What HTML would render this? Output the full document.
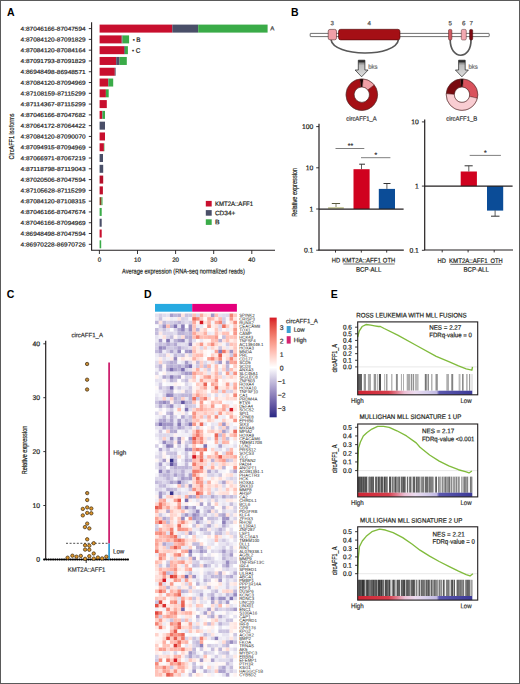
<!DOCTYPE html>
<html><head><meta charset="utf-8"><style>
html,body{margin:0;padding:0;background:#fff;}
#fig{position:relative;width:520px;height:684px;overflow:hidden;background:#fff;}
#fig svg{position:absolute;left:0;top:0;}
#brd{position:absolute;left:0;top:0;width:518px;height:682px;border:1px solid #5a5a5a;pointer-events:none;}
text{font-family:"Liberation Sans", sans-serif;}
</style></head><body><div id="fig">
<svg width="520" height="684" viewBox="0 0 520 684" font-family='"Liberation Sans", sans-serif'>
<text x="7.00" y="16.03" font-size="10.5" text-anchor="start" fill="#000" font-weight="bold" >A</text>
<text x="291.00" y="16.03" font-size="10.5" text-anchor="start" fill="#000" font-weight="bold" >B</text>
<text x="6.80" y="297.93" font-size="10.5" text-anchor="start" fill="#000" font-weight="bold" >C</text>
<text x="144.00" y="297.73" font-size="10.5" text-anchor="start" fill="#000" font-weight="bold" >D</text>
<text x="330.80" y="297.73" font-size="10.5" text-anchor="start" fill="#000" font-weight="bold" >E</text>
<text transform="translate(85.60,30.76) rotate(0.04)" x="0" y="0" font-size="5.8" text-anchor="end" fill="#1e1e1e" stroke="#1e1e1e" stroke-width="0.2" textLength="65.00" lengthAdjust="spacingAndGlyphs" >4:87046166-87047594</text>
<line x1="88.80" y1="28.60" x2="91.60" y2="28.60" stroke="#231f20" stroke-width="0.9" />
<rect x="99.60" y="24.60" width="72.70" height="8.00" fill="#c80f2e" />
<rect x="172.30" y="24.60" width="25.90" height="8.00" fill="#4a4f68" />
<rect x="198.20" y="24.60" width="69.40" height="8.00" fill="#3aab48" />
<text transform="translate(85.60,41.54) rotate(0.04)" x="0" y="0" font-size="5.8" text-anchor="end" fill="#1e1e1e" stroke="#1e1e1e" stroke-width="0.2" textLength="65.00" lengthAdjust="spacingAndGlyphs" >4:87084120-87091829</text>
<line x1="88.80" y1="39.39" x2="91.60" y2="39.39" stroke="#231f20" stroke-width="0.9" />
<rect x="99.60" y="35.39" width="22.10" height="8.00" fill="#c80f2e" />
<rect x="121.70" y="35.39" width="0.80" height="8.00" fill="#4a4f68" />
<rect x="122.50" y="35.39" width="6.60" height="8.00" fill="#3aab48" />
<text transform="translate(85.60,52.33) rotate(0.04)" x="0" y="0" font-size="5.8" text-anchor="end" fill="#1e1e1e" stroke="#1e1e1e" stroke-width="0.2" textLength="65.00" lengthAdjust="spacingAndGlyphs" >4:87084120-87084164</text>
<line x1="88.80" y1="50.17" x2="91.60" y2="50.17" stroke="#231f20" stroke-width="0.9" />
<rect x="99.60" y="46.17" width="24.60" height="8.00" fill="#c80f2e" />
<rect x="124.20" y="46.17" width="0.80" height="8.00" fill="#4a4f68" />
<rect x="125.00" y="46.17" width="2.90" height="8.00" fill="#3aab48" />
<text transform="translate(85.60,63.11) rotate(0.04)" x="0" y="0" font-size="5.8" text-anchor="end" fill="#1e1e1e" stroke="#1e1e1e" stroke-width="0.2" textLength="65.00" lengthAdjust="spacingAndGlyphs" >4:87091793-87091829</text>
<line x1="88.80" y1="60.96" x2="91.60" y2="60.96" stroke="#231f20" stroke-width="0.9" />
<rect x="99.60" y="56.96" width="16.60" height="8.00" fill="#c80f2e" />
<rect x="116.20" y="56.96" width="3.40" height="8.00" fill="#4a4f68" />
<rect x="119.60" y="56.96" width="7.20" height="8.00" fill="#3aab48" />
<text transform="translate(85.60,73.90) rotate(0.04)" x="0" y="0" font-size="5.8" text-anchor="end" fill="#1e1e1e" stroke="#1e1e1e" stroke-width="0.2" textLength="65.00" lengthAdjust="spacingAndGlyphs" >4:86948498-86948571</text>
<line x1="88.80" y1="71.74" x2="91.60" y2="71.74" stroke="#231f20" stroke-width="0.9" />
<rect x="99.60" y="67.74" width="15.20" height="8.00" fill="#c80f2e" />
<rect x="114.80" y="67.74" width="0.80" height="8.00" fill="#4a4f68" />
<text transform="translate(85.60,84.68) rotate(0.04)" x="0" y="0" font-size="5.8" text-anchor="end" fill="#1e1e1e" stroke="#1e1e1e" stroke-width="0.2" textLength="65.00" lengthAdjust="spacingAndGlyphs" >4:87084120-87094969</text>
<line x1="88.80" y1="82.53" x2="91.60" y2="82.53" stroke="#231f20" stroke-width="0.9" />
<rect x="99.60" y="78.53" width="8.40" height="8.00" fill="#c80f2e" />
<rect x="108.00" y="78.53" width="0.60" height="8.00" fill="#4a4f68" />
<rect x="108.60" y="78.53" width="4.60" height="8.00" fill="#3aab48" />
<text transform="translate(85.60,95.47) rotate(0.04)" x="0" y="0" font-size="5.8" text-anchor="end" fill="#1e1e1e" stroke="#1e1e1e" stroke-width="0.2" textLength="65.00" lengthAdjust="spacingAndGlyphs" >4:87108159-87115299</text>
<line x1="88.80" y1="93.31" x2="91.60" y2="93.31" stroke="#231f20" stroke-width="0.9" />
<rect x="99.60" y="89.31" width="6.30" height="8.00" fill="#c80f2e" />
<rect x="105.90" y="89.31" width="2.80" height="8.00" fill="#3aab48" />
<text transform="translate(85.60,106.25) rotate(0.04)" x="0" y="0" font-size="5.8" text-anchor="end" fill="#1e1e1e" stroke="#1e1e1e" stroke-width="0.2" textLength="65.00" lengthAdjust="spacingAndGlyphs" >4:87114367-87115299</text>
<line x1="88.80" y1="104.09" x2="91.60" y2="104.09" stroke="#231f20" stroke-width="0.9" />
<rect x="99.60" y="100.09" width="7.20" height="8.00" fill="#c80f2e" />
<text transform="translate(85.60,117.04) rotate(0.04)" x="0" y="0" font-size="5.8" text-anchor="end" fill="#1e1e1e" stroke="#1e1e1e" stroke-width="0.2" textLength="65.00" lengthAdjust="spacingAndGlyphs" >4:87046166-87047682</text>
<line x1="88.80" y1="114.88" x2="91.60" y2="114.88" stroke="#231f20" stroke-width="0.9" />
<rect x="99.60" y="110.88" width="2.50" height="8.00" fill="#c80f2e" />
<rect x="102.10" y="110.88" width="0.50" height="8.00" fill="#4a4f68" />
<rect x="102.60" y="110.88" width="2.40" height="8.00" fill="#3aab48" />
<text transform="translate(85.60,127.82) rotate(0.04)" x="0" y="0" font-size="5.8" text-anchor="end" fill="#1e1e1e" stroke="#1e1e1e" stroke-width="0.2" textLength="65.00" lengthAdjust="spacingAndGlyphs" >4:87064172-87064422</text>
<line x1="88.80" y1="125.66" x2="91.60" y2="125.66" stroke="#231f20" stroke-width="0.9" />
<rect x="99.60" y="121.66" width="5.40" height="8.00" fill="#4a4f68" />
<text transform="translate(85.60,138.61) rotate(0.04)" x="0" y="0" font-size="5.8" text-anchor="end" fill="#1e1e1e" stroke="#1e1e1e" stroke-width="0.2" textLength="65.00" lengthAdjust="spacingAndGlyphs" >4:87084120-87090070</text>
<line x1="88.80" y1="136.45" x2="91.60" y2="136.45" stroke="#231f20" stroke-width="0.9" />
<rect x="99.60" y="132.45" width="5.40" height="8.00" fill="#c80f2e" />
<text transform="translate(85.60,149.39) rotate(0.04)" x="0" y="0" font-size="5.8" text-anchor="end" fill="#1e1e1e" stroke="#1e1e1e" stroke-width="0.2" textLength="65.00" lengthAdjust="spacingAndGlyphs" >4:87094915-87094969</text>
<line x1="88.80" y1="147.24" x2="91.60" y2="147.24" stroke="#231f20" stroke-width="0.9" />
<rect x="99.60" y="143.24" width="4.30" height="8.00" fill="#c80f2e" />
<rect x="103.90" y="143.24" width="0.50" height="8.00" fill="#3aab48" />
<text transform="translate(85.60,160.18) rotate(0.04)" x="0" y="0" font-size="5.8" text-anchor="end" fill="#1e1e1e" stroke="#1e1e1e" stroke-width="0.2" textLength="65.00" lengthAdjust="spacingAndGlyphs" >4:87066971-87067219</text>
<line x1="88.80" y1="158.02" x2="91.60" y2="158.02" stroke="#231f20" stroke-width="0.9" />
<rect x="99.60" y="154.02" width="3.40" height="8.00" fill="#4a4f68" />
<text transform="translate(85.60,170.96) rotate(0.04)" x="0" y="0" font-size="5.8" text-anchor="end" fill="#1e1e1e" stroke="#1e1e1e" stroke-width="0.2" textLength="65.00" lengthAdjust="spacingAndGlyphs" >4:87118798-87119043</text>
<line x1="88.80" y1="168.81" x2="91.60" y2="168.81" stroke="#231f20" stroke-width="0.9" />
<rect x="99.60" y="164.81" width="3.60" height="8.00" fill="#4a4f68" />
<text transform="translate(85.60,181.75) rotate(0.04)" x="0" y="0" font-size="5.8" text-anchor="end" fill="#1e1e1e" stroke="#1e1e1e" stroke-width="0.2" textLength="65.00" lengthAdjust="spacingAndGlyphs" >4:87020506-87047594</text>
<line x1="88.80" y1="179.59" x2="91.60" y2="179.59" stroke="#231f20" stroke-width="0.9" />
<rect x="99.60" y="175.59" width="3.60" height="8.00" fill="#b5102a" />
<text transform="translate(85.60,192.53) rotate(0.04)" x="0" y="0" font-size="5.8" text-anchor="end" fill="#1e1e1e" stroke="#1e1e1e" stroke-width="0.2" textLength="65.00" lengthAdjust="spacingAndGlyphs" >4:87105628-87115299</text>
<line x1="88.80" y1="190.38" x2="91.60" y2="190.38" stroke="#231f20" stroke-width="0.9" />
<rect x="99.60" y="186.38" width="3.30" height="8.00" fill="#c0102c" />
<text transform="translate(85.60,203.32) rotate(0.04)" x="0" y="0" font-size="5.8" text-anchor="end" fill="#1e1e1e" stroke="#1e1e1e" stroke-width="0.2" textLength="65.00" lengthAdjust="spacingAndGlyphs" >4:87084120-87108315</text>
<line x1="88.80" y1="201.16" x2="91.60" y2="201.16" stroke="#231f20" stroke-width="0.9" />
<rect x="99.60" y="197.16" width="1.90" height="8.00" fill="#8a3a20" />
<rect x="101.50" y="197.16" width="1.00" height="8.00" fill="#3aab48" />
<text transform="translate(85.60,214.10) rotate(0.04)" x="0" y="0" font-size="5.8" text-anchor="end" fill="#1e1e1e" stroke="#1e1e1e" stroke-width="0.2" textLength="65.00" lengthAdjust="spacingAndGlyphs" >4:87046166-87047674</text>
<line x1="88.80" y1="211.94" x2="91.60" y2="211.94" stroke="#231f20" stroke-width="0.9" />
<rect x="99.60" y="207.94" width="2.10" height="8.00" fill="#3aab48" />
<text transform="translate(85.60,224.89) rotate(0.04)" x="0" y="0" font-size="5.8" text-anchor="end" fill="#1e1e1e" stroke="#1e1e1e" stroke-width="0.2" textLength="65.00" lengthAdjust="spacingAndGlyphs" >4:87046166-87094969</text>
<line x1="88.80" y1="222.73" x2="91.60" y2="222.73" stroke="#231f20" stroke-width="0.9" />
<rect x="99.60" y="218.73" width="2.10" height="8.00" fill="#4a4f68" />
<text transform="translate(85.60,235.67) rotate(0.04)" x="0" y="0" font-size="5.8" text-anchor="end" fill="#1e1e1e" stroke="#1e1e1e" stroke-width="0.2" textLength="65.00" lengthAdjust="spacingAndGlyphs" >4:86948498-87047594</text>
<line x1="88.80" y1="233.51" x2="91.60" y2="233.51" stroke="#231f20" stroke-width="0.9" />
<rect x="99.60" y="229.51" width="2.10" height="8.00" fill="#c80f2e" />
<text transform="translate(85.60,246.46) rotate(0.04)" x="0" y="0" font-size="5.8" text-anchor="end" fill="#1e1e1e" stroke="#1e1e1e" stroke-width="0.2" textLength="65.00" lengthAdjust="spacingAndGlyphs" >4:86970228-86970726</text>
<line x1="88.80" y1="244.30" x2="91.60" y2="244.30" stroke="#231f20" stroke-width="0.9" />
<rect x="99.60" y="240.30" width="1.60" height="8.00" fill="#3aab48" />
<text transform="translate(270.30,30.60) rotate(0.04)" x="0" y="0" font-size="6.2" text-anchor="start" fill="#333" stroke="#333" stroke-width="0.2" >A</text>
<text transform="translate(132.80,41.76) rotate(0.04)" x="0" y="0" font-size="5.8" text-anchor="start" fill="#222" stroke="#222" stroke-width="0.2" >•</text>
<text transform="translate(136.30,42.07) rotate(0.04)" x="0" y="0" font-size="6.4" text-anchor="start" fill="#231f20" stroke="#231f20" stroke-width="0.2" >B</text>
<text transform="translate(132.00,52.56) rotate(0.04)" x="0" y="0" font-size="5.8" text-anchor="start" fill="#222" stroke="#222" stroke-width="0.2" >•</text>
<text transform="translate(135.80,52.87) rotate(0.04)" x="0" y="0" font-size="6.4" text-anchor="start" fill="#231f20" stroke="#231f20" stroke-width="0.2" >C</text>
<line x1="91.60" y1="22.30" x2="91.60" y2="250.20" stroke="#231f20" stroke-width="1.1" />
<line x1="91.10" y1="250.20" x2="275.00" y2="250.20" stroke="#231f20" stroke-width="1.1" />
<line x1="99.40" y1="250.20" x2="99.40" y2="254.00" stroke="#231f20" stroke-width="0.9" />
<text transform="translate(99.40,261.80) rotate(0.04)" x="0" y="0" font-size="6.2" text-anchor="middle" fill="#231f20" stroke="#231f20" stroke-width="0.2" >0</text>
<line x1="137.50" y1="250.20" x2="137.50" y2="254.00" stroke="#231f20" stroke-width="0.9" />
<text transform="translate(137.50,261.80) rotate(0.04)" x="0" y="0" font-size="6.2" text-anchor="middle" fill="#231f20" stroke="#231f20" stroke-width="0.2" >10</text>
<line x1="175.60" y1="250.20" x2="175.60" y2="254.00" stroke="#231f20" stroke-width="0.9" />
<text transform="translate(175.60,261.80) rotate(0.04)" x="0" y="0" font-size="6.2" text-anchor="middle" fill="#231f20" stroke="#231f20" stroke-width="0.2" >20</text>
<line x1="213.70" y1="250.20" x2="213.70" y2="254.00" stroke="#231f20" stroke-width="0.9" />
<text transform="translate(213.70,261.80) rotate(0.04)" x="0" y="0" font-size="6.2" text-anchor="middle" fill="#231f20" stroke="#231f20" stroke-width="0.2" >30</text>
<line x1="251.80" y1="250.20" x2="251.80" y2="254.00" stroke="#231f20" stroke-width="0.9" />
<text transform="translate(251.80,261.80) rotate(0.04)" x="0" y="0" font-size="6.2" text-anchor="middle" fill="#231f20" stroke="#231f20" stroke-width="0.2" >40</text>
<text transform="translate(183.40,273.45) rotate(0.04)" x="0" y="0" font-size="6.9" text-anchor="middle" fill="#231f20" stroke="#231f20" stroke-width="0.2" textLength="122.80" lengthAdjust="spacingAndGlyphs" >Average expression (RNA-seq normalized reads)</text>
<text transform="translate(10.90,136.40) rotate(-90)" x="0" y="2.63" font-size="7.4" text-anchor="middle" fill="#231f20" stroke="#231f20" stroke-width="0.2" textLength="46.00" lengthAdjust="spacingAndGlyphs" >CircAFF1 isoforms</text>
<rect x="205.80" y="200.90" width="5.90" height="5.60" fill="#c80f2e" />
<text transform="translate(214.90,205.97) rotate(0.04)" x="0" y="0" font-size="6.4" text-anchor="start" fill="#231f20" stroke="#231f20" stroke-width="0.2" textLength="38.20" lengthAdjust="spacingAndGlyphs" >KMT2A::AFF1</text>
<rect x="205.80" y="210.10" width="5.90" height="5.60" fill="#4a4f68" />
<text transform="translate(214.90,215.17) rotate(0.04)" x="0" y="0" font-size="6.4" text-anchor="start" fill="#231f20" stroke="#231f20" stroke-width="0.2" textLength="20.40" lengthAdjust="spacingAndGlyphs" >CD34+</text>
<rect x="205.80" y="219.30" width="5.90" height="5.60" fill="#3aab48" />
<text transform="translate(214.90,224.37) rotate(0.04)" x="0" y="0" font-size="6.4" text-anchor="start" fill="#231f20" stroke="#231f20" stroke-width="0.2" textLength="4.60" lengthAdjust="spacingAndGlyphs" >B</text>
<rect x="310.20" y="33.40" width="179.00" height="3.20" rx="0.5" ry="0.5" fill="#ffffff" stroke="#333" stroke-width="0.7"/>
<path d="M331,39.5 C333,57 396,58 398.5,39.5" fill="none" stroke="#585858" stroke-width="1.7"/>
<path d="M450.2,39.5 C450,60.5 471.5,60.5 471,39.5" fill="none" stroke="#585858" stroke-width="1.7"/>
<rect x="328.20" y="29.40" width="8.30" height="10.40" rx="1.8" ry="1.8" fill="#f0a0a8" stroke="#5a3030" stroke-width="0.6"/>
<rect x="338.50" y="29.30" width="61.50" height="10.60" rx="2.2" ry="2.2" fill="#a50f15" stroke="#4a0a0a" stroke-width="0.6"/>
<rect x="448.50" y="29.40" width="3.40" height="10.60" rx="1.2" ry="1.2" fill="#cf5a62" stroke="#5a2020" stroke-width="0.5"/>
<rect x="461.30" y="29.40" width="5.00" height="10.60" rx="1.4" ry="1.4" fill="#f2a8b0" stroke="#5a3030" stroke-width="0.5"/>
<rect x="469.60" y="29.40" width="3.10" height="10.60" rx="1.2" ry="1.2" fill="#7e0812" stroke="#3a0a0a" stroke-width="0.5"/>
<text transform="translate(332.30,25.30) rotate(0.04)" x="0" y="0" font-size="6.2" text-anchor="middle" fill="#4a4a4a" stroke="#4a4a4a" stroke-width="0.2" >3</text>
<text transform="translate(369.20,25.30) rotate(0.04)" x="0" y="0" font-size="6.2" text-anchor="middle" fill="#4a4a4a" stroke="#4a4a4a" stroke-width="0.2" >4</text>
<text transform="translate(450.20,25.30) rotate(0.04)" x="0" y="0" font-size="6.2" text-anchor="middle" fill="#4a4a4a" stroke="#4a4a4a" stroke-width="0.2" >5</text>
<text transform="translate(463.70,25.30) rotate(0.04)" x="0" y="0" font-size="6.2" text-anchor="middle" fill="#4a4a4a" stroke="#4a4a4a" stroke-width="0.2" >6</text>
<text transform="translate(471.20,25.30) rotate(0.04)" x="0" y="0" font-size="6.2" text-anchor="middle" fill="#4a4a4a" stroke="#4a4a4a" stroke-width="0.2" >7</text>
<defs><linearGradient id="ag" x1="0" y1="0" x2="0" y2="1">
<stop offset="0" stop-color="#1e1e1e"/><stop offset="0.1" stop-color="#333"/><stop offset="0.17" stop-color="#8c8c8c"/><stop offset="0.32" stop-color="#bebebe"/><stop offset="1" stop-color="#dedede"/></linearGradient>
<linearGradient id="rk1" x1="0" y1="0" x2="1" y2="0">
<stop offset="0" stop-color="#cf2433"/><stop offset="0.27" stop-color="#d63e4c"/><stop offset="0.34" stop-color="#e07a8c"/><stop offset="0.41" stop-color="#ecbfd4"/><stop offset="0.5" stop-color="#ecdcf0"/><stop offset="0.6" stop-color="#d6ceec"/><stop offset="0.69" stop-color="#c0b8e2"/><stop offset="0.71" stop-color="#5c58ae"/><stop offset="1" stop-color="#3c3a98"/></linearGradient>
<linearGradient id="cb" x1="0" y1="0" x2="0" y2="1"><stop offset="0.000" stop-color="#d61824"/><stop offset="0.050" stop-color="#df3e38"/><stop offset="0.100" stop-color="#e7584c"/><stop offset="0.150" stop-color="#ee6f60"/><stop offset="0.200" stop-color="#f48575"/><stop offset="0.250" stop-color="#f99a8b"/><stop offset="0.300" stop-color="#fdaea1"/><stop offset="0.350" stop-color="#ffc2b8"/><stop offset="0.400" stop-color="#ffd7cf"/><stop offset="0.450" stop-color="#ffebe7"/><stop offset="0.500" stop-color="#ffffff"/><stop offset="0.550" stop-color="#eae7f3"/><stop offset="0.600" stop-color="#d6d0e6"/><stop offset="0.650" stop-color="#c1b9da"/><stop offset="0.700" stop-color="#ada2ce"/><stop offset="0.750" stop-color="#998cc1"/><stop offset="0.800" stop-color="#8477b5"/><stop offset="0.850" stop-color="#6f62a9"/><stop offset="0.900" stop-color="#5a4e9c"/><stop offset="0.950" stop-color="#433b90"/><stop offset="1.000" stop-color="#282884"/></linearGradient>
</defs>
<path d="M358.3,60.2 L364.90000000000003,60.2 L364.90000000000003,70 L368.1,70 L361.6,76.8 L355.1,70 L358.3,70 Z" fill="url(#ag)" stroke="#222" stroke-width="0.7" stroke-linejoin="miter"/>
<path d="M458.59999999999997,60.2 L465.2,60.2 L465.2,70 L468.4,70 L461.9,76.8 L455.4,70 L458.59999999999997,70 Z" fill="url(#ag)" stroke="#222" stroke-width="0.7" stroke-linejoin="miter"/>
<text transform="translate(368.20,68.83) rotate(0.04)" x="0" y="0" font-size="6.0" text-anchor="start" fill="#6a6a6a" stroke="#6a6a6a" stroke-width="0.2" >bks</text>
<text transform="translate(468.40,68.83) rotate(0.04)" x="0" y="0" font-size="6.0" text-anchor="start" fill="#6a6a6a" stroke="#6a6a6a" stroke-width="0.2" >bks</text>
<path d="M359.87,79.02 A15.8,15.8 0 0 1 363.18,78.96 L362.47,87.03 A7.7,7.7 0 0 0 360.86,87.06 Z" fill="#1a0505" stroke="#3a1010" stroke-width="0.35"/>
<path d="M363.18,78.96 A15.8,15.8 0 0 1 374.25,84.97 L367.87,89.96 A7.7,7.7 0 0 0 362.47,87.03 Z" fill="#f0a0a6" stroke="#3a1010" stroke-width="0.35"/>
<path d="M374.25,84.97 A15.8,15.8 0 1 1 359.87,79.02 L360.86,87.06 A7.7,7.7 0 1 0 367.87,89.96 Z" fill="#a50f15" stroke="#3a1010" stroke-width="0.35"/>
<circle cx="361.8" cy="94.7" r="15.8" fill="none" stroke="#5a2a2a" stroke-width="0.5"/>
<circle cx="361.8" cy="94.7" r="7.7" fill="none" stroke="#5a2a2a" stroke-width="0.5"/>
<path d="M460.35,78.99 A15.8,15.8 0 0 1 463.38,78.96 L462.67,87.03 A7.7,7.7 0 0 0 461.20,87.04 Z" fill="#1a0505" stroke="#3a1010" stroke-width="0.35"/>
<path d="M463.38,78.96 A15.8,15.8 0 0 1 477.40,98.25 L469.50,96.43 A7.7,7.7 0 0 0 462.67,87.03 Z" fill="#d9525c" stroke="#3a1010" stroke-width="0.35"/>
<path d="M477.40,98.25 A15.8,15.8 0 0 1 446.24,93.60 L454.32,94.16 A7.7,7.7 0 0 0 469.50,96.43 Z" fill="#f9cdd2" stroke="#3a1010" stroke-width="0.35"/>
<path d="M446.24,93.60 A15.8,15.8 0 0 1 460.35,78.99 L461.20,87.04 A7.7,7.7 0 0 0 454.32,94.16 Z" fill="#7a0a10" stroke="#3a1010" stroke-width="0.35"/>
<circle cx="462.0" cy="94.7" r="15.8" fill="none" stroke="#5a2a2a" stroke-width="0.5"/>
<circle cx="462.0" cy="94.7" r="7.7" fill="none" stroke="#5a2a2a" stroke-width="0.5"/>
<text transform="translate(361.50,120.64) rotate(0.04)" x="0" y="0" font-size="6.3" text-anchor="middle" fill="#333" stroke="#333" stroke-width="0.2" textLength="30.50" lengthAdjust="spacingAndGlyphs" >circAFF1_A</text>
<text transform="translate(461.80,120.64) rotate(0.04)" x="0" y="0" font-size="6.3" text-anchor="middle" fill="#333" stroke="#333" stroke-width="0.2" textLength="31.00" lengthAdjust="spacingAndGlyphs" >circAFF1_B</text>
<line x1="319.00" y1="123.80" x2="319.00" y2="250.20" stroke="#231f20" stroke-width="1.2" />
<line x1="316.20" y1="126.60" x2="319.00" y2="126.60" stroke="#231f20" stroke-width="0.9" />
<text transform="translate(313.40,129.01) rotate(0.04)" x="0" y="0" font-size="6.8" text-anchor="end" fill="#231f20" stroke="#231f20" stroke-width="0.2" >100</text>
<line x1="316.20" y1="167.80" x2="319.00" y2="167.80" stroke="#231f20" stroke-width="0.9" />
<text transform="translate(313.40,170.21) rotate(0.04)" x="0" y="0" font-size="6.8" text-anchor="end" fill="#231f20" stroke="#231f20" stroke-width="0.2" >10</text>
<line x1="316.20" y1="209.00" x2="319.00" y2="209.00" stroke="#231f20" stroke-width="0.9" />
<text transform="translate(313.40,211.41) rotate(0.04)" x="0" y="0" font-size="6.8" text-anchor="end" fill="#231f20" stroke="#231f20" stroke-width="0.2" >1</text>
<line x1="316.20" y1="250.20" x2="319.00" y2="250.20" stroke="#231f20" stroke-width="0.9" />
<text transform="translate(313.40,252.61) rotate(0.04)" x="0" y="0" font-size="6.8" text-anchor="end" fill="#231f20" stroke="#231f20" stroke-width="0.2" >0.1</text>
<line x1="318.50" y1="250.20" x2="403.80" y2="250.20" stroke="#231f20" stroke-width="1.2" />
<line x1="335.50" y1="250.20" x2="335.50" y2="252.60" stroke="#231f20" stroke-width="0.9" />
<line x1="361.30" y1="250.20" x2="361.30" y2="252.60" stroke="#231f20" stroke-width="0.9" />
<line x1="386.70" y1="250.20" x2="386.70" y2="252.60" stroke="#231f20" stroke-width="0.9" />
<rect x="328.10" y="207.00" width="15.70" height="2.00" fill="#cfd0a6" />
<line x1="336.00" y1="203.50" x2="336.00" y2="207.00" stroke="#6a6a4a" stroke-width="0.8" />
<line x1="331.80" y1="203.50" x2="340.10" y2="203.50" stroke="#5a5a40" stroke-width="1" />
<rect x="353.50" y="169.20" width="16.10" height="39.80" fill="#d0021f" />
<line x1="361.50" y1="164.20" x2="361.50" y2="169.20" stroke="#333" stroke-width="0.8" />
<line x1="359.20" y1="164.20" x2="365.00" y2="164.20" stroke="#333" stroke-width="1" />
<rect x="378.80" y="188.90" width="16.20" height="20.10" fill="#0b4c97" />
<line x1="386.90" y1="183.50" x2="386.90" y2="188.90" stroke="#333" stroke-width="0.8" />
<line x1="383.50" y1="183.50" x2="390.50" y2="183.50" stroke="#333" stroke-width="1" />
<line x1="319.00" y1="209.10" x2="403.60" y2="209.10" stroke="#231f20" stroke-width="1.1" />
<line x1="335.50" y1="148.50" x2="364.30" y2="148.50" stroke="#707070" stroke-width="0.9" />
<text transform="translate(350.50,148.01) rotate(0.04)" x="0" y="0" font-size="6.8" text-anchor="middle" fill="#333" stroke="#333" stroke-width="0.2" >**</text>
<line x1="361.00" y1="157.70" x2="390.40" y2="157.70" stroke="#707070" stroke-width="0.9" />
<text transform="translate(375.80,157.31) rotate(0.04)" x="0" y="0" font-size="6.8" text-anchor="middle" fill="#333" stroke="#333" stroke-width="0.2" >*</text>
<text transform="translate(294.60,192.30) rotate(-90)" x="0" y="2.52" font-size="7.1" text-anchor="middle" fill="#231f20" stroke="#231f20" stroke-width="0.2" textLength="49.00" lengthAdjust="spacingAndGlyphs" >Relative expression</text>
<text transform="translate(336.00,262.54) rotate(0.04)" x="0" y="0" font-size="6.6" text-anchor="middle" fill="#231f20" stroke="#231f20" stroke-width="0.2" textLength="8.40" lengthAdjust="spacingAndGlyphs" >HD</text>
<text transform="translate(361.60,262.54) rotate(0.04)" x="0" y="0" font-size="6.6" text-anchor="middle" fill="#231f20" stroke="#231f20" stroke-width="0.2" textLength="38.70" lengthAdjust="spacingAndGlyphs" >KMT2A::AFF1</text>
<text transform="translate(389.00,262.54) rotate(0.04)" x="0" y="0" font-size="6.6" text-anchor="middle" fill="#231f20" stroke="#231f20" stroke-width="0.2" textLength="12.30" lengthAdjust="spacingAndGlyphs" >OTH</text>
<line x1="343.40" y1="264.00" x2="394.60" y2="264.00" stroke="#444" stroke-width="0.8" />
<text transform="translate(368.70,271.74) rotate(0.04)" x="0" y="0" font-size="6.6" text-anchor="middle" fill="#231f20" stroke="#231f20" stroke-width="0.2" textLength="25.40" lengthAdjust="spacingAndGlyphs" >BCP-ALL</text>
<line x1="424.70" y1="119.60" x2="424.70" y2="250.00" stroke="#231f20" stroke-width="1.2" />
<line x1="421.90" y1="121.90" x2="424.70" y2="121.90" stroke="#231f20" stroke-width="0.9" />
<text transform="translate(418.90,124.31) rotate(0.04)" x="0" y="0" font-size="6.8" text-anchor="end" fill="#231f20" stroke="#231f20" stroke-width="0.2" >10</text>
<line x1="421.90" y1="186.10" x2="424.70" y2="186.10" stroke="#231f20" stroke-width="0.9" />
<text transform="translate(418.90,188.51) rotate(0.04)" x="0" y="0" font-size="6.8" text-anchor="end" fill="#231f20" stroke="#231f20" stroke-width="0.2" >1</text>
<line x1="421.90" y1="250.30" x2="424.70" y2="250.30" stroke="#231f20" stroke-width="0.9" />
<text transform="translate(418.90,252.71) rotate(0.04)" x="0" y="0" font-size="6.8" text-anchor="end" fill="#231f20" stroke="#231f20" stroke-width="0.2" >0.1</text>
<line x1="424.20" y1="250.00" x2="513.00" y2="250.00" stroke="#231f20" stroke-width="1.2" />
<line x1="442.20" y1="250.00" x2="442.20" y2="252.40" stroke="#231f20" stroke-width="0.9" />
<line x1="468.10" y1="250.00" x2="468.10" y2="252.40" stroke="#231f20" stroke-width="0.9" />
<line x1="494.20" y1="250.00" x2="494.20" y2="252.40" stroke="#231f20" stroke-width="0.9" />
<rect x="460.70" y="171.50" width="16.20" height="14.60" fill="#d0021f" />
<line x1="468.80" y1="165.80" x2="468.80" y2="171.50" stroke="#333" stroke-width="0.8" />
<line x1="464.60" y1="165.80" x2="472.70" y2="165.80" stroke="#333" stroke-width="1" />
<rect x="487.00" y="186.10" width="16.20" height="24.50" fill="#0b4c97" />
<line x1="495.10" y1="210.30" x2="495.10" y2="216.20" stroke="#333" stroke-width="0.8" />
<line x1="491.00" y1="216.20" x2="499.50" y2="216.20" stroke="#333" stroke-width="1" />
<line x1="424.70" y1="186.10" x2="512.60" y2="186.10" stroke="#231f20" stroke-width="1.1" />
<line x1="469.70" y1="155.40" x2="500.90" y2="155.40" stroke="#707070" stroke-width="0.9" />
<text transform="translate(485.40,155.01) rotate(0.04)" x="0" y="0" font-size="6.8" text-anchor="middle" fill="#333" stroke="#333" stroke-width="0.2" >*</text>
<text transform="translate(441.80,262.94) rotate(0.04)" x="0" y="0" font-size="6.6" text-anchor="middle" fill="#231f20" stroke="#231f20" stroke-width="0.2" textLength="8.40" lengthAdjust="spacingAndGlyphs" >HD</text>
<text transform="translate(468.30,262.94) rotate(0.04)" x="0" y="0" font-size="6.6" text-anchor="middle" fill="#231f20" stroke="#231f20" stroke-width="0.2" textLength="38.50" lengthAdjust="spacingAndGlyphs" >KMT2A::AFF1</text>
<text transform="translate(496.60,262.94) rotate(0.04)" x="0" y="0" font-size="6.6" text-anchor="middle" fill="#231f20" stroke="#231f20" stroke-width="0.2" textLength="12.20" lengthAdjust="spacingAndGlyphs" >OTH</text>
<line x1="450.30" y1="264.30" x2="501.50" y2="264.30" stroke="#444" stroke-width="0.8" />
<text transform="translate(476.20,271.84) rotate(0.04)" x="0" y="0" font-size="6.6" text-anchor="middle" fill="#231f20" stroke="#231f20" stroke-width="0.2" textLength="25.40" lengthAdjust="spacingAndGlyphs" >BCP-ALL</text>
<line x1="45.70" y1="340.80" x2="45.70" y2="559.40" stroke="#231f20" stroke-width="1.2" />
<line x1="43.30" y1="559.40" x2="45.70" y2="559.40" stroke="#231f20" stroke-width="0.9" />
<text transform="translate(40.00,561.81) rotate(0.04)" x="0" y="0" font-size="6.8" text-anchor="end" fill="#231f20" stroke="#231f20" stroke-width="0.2" >0</text>
<line x1="43.30" y1="505.50" x2="45.70" y2="505.50" stroke="#231f20" stroke-width="0.9" />
<text transform="translate(40.00,507.91) rotate(0.04)" x="0" y="0" font-size="6.8" text-anchor="end" fill="#231f20" stroke="#231f20" stroke-width="0.2" >10</text>
<line x1="43.30" y1="451.60" x2="45.70" y2="451.60" stroke="#231f20" stroke-width="0.9" />
<text transform="translate(40.00,454.01) rotate(0.04)" x="0" y="0" font-size="6.8" text-anchor="end" fill="#231f20" stroke="#231f20" stroke-width="0.2" >20</text>
<line x1="43.30" y1="397.70" x2="45.70" y2="397.70" stroke="#231f20" stroke-width="0.9" />
<text transform="translate(40.00,400.11) rotate(0.04)" x="0" y="0" font-size="6.8" text-anchor="end" fill="#231f20" stroke="#231f20" stroke-width="0.2" >30</text>
<line x1="43.30" y1="343.80" x2="45.70" y2="343.80" stroke="#231f20" stroke-width="0.9" />
<text transform="translate(40.00,346.21) rotate(0.04)" x="0" y="0" font-size="6.8" text-anchor="end" fill="#231f20" stroke="#231f20" stroke-width="0.2" >40</text>
<text transform="translate(87.20,337.34) rotate(0.04)" x="0" y="0" font-size="6.3" text-anchor="middle" fill="#333" stroke="#333" stroke-width="0.2" textLength="31.50" lengthAdjust="spacingAndGlyphs" >circAFF1_A</text>
<text transform="translate(24.50,450.00) rotate(-90)" x="0" y="2.52" font-size="7.1" text-anchor="middle" fill="#231f20" stroke="#231f20" stroke-width="0.2" textLength="48.70" lengthAdjust="spacingAndGlyphs" >Relative expression</text>
<line x1="43.50" y1="559.50" x2="128.80" y2="559.50" stroke="#231f20" stroke-width="1.2" />
<line x1="43.50" y1="559.60" x2="128.80" y2="559.60" stroke="#000" stroke-width="2.0" stroke-dasharray="1.6,0.6"/>
<line x1="86.20" y1="559.40" x2="86.20" y2="563.00" stroke="#231f20" stroke-width="0.9" />
<text transform="translate(86.60,571.84) rotate(0.04)" x="0" y="0" font-size="6.3" text-anchor="middle" fill="#333" stroke="#333" stroke-width="0.2" textLength="37.50" lengthAdjust="spacingAndGlyphs" >KMT2A::AFF1</text>
<line x1="66.00" y1="543.30" x2="108.50" y2="543.30" stroke="#222" stroke-width="0.8" stroke-dasharray="2,1.6"/>
<line x1="109.10" y1="362.50" x2="109.10" y2="543.50" stroke="#c8085f" stroke-width="1.6" />
<line x1="109.10" y1="543.50" x2="109.10" y2="559.40" stroke="#1f94d4" stroke-width="1.6" />
<text transform="translate(113.20,454.84) rotate(0.04)" x="0" y="0" font-size="6.3" text-anchor="start" fill="#333" stroke="#333" stroke-width="0.2" textLength="13.00" lengthAdjust="spacingAndGlyphs" >High</text>
<text transform="translate(113.00,553.54) rotate(0.04)" x="0" y="0" font-size="6.3" text-anchor="start" fill="#333" stroke="#333" stroke-width="0.2" textLength="11.20" lengthAdjust="spacingAndGlyphs" >Low</text>
<circle cx="87.1" cy="364" r="1.7" fill="#c98c34" stroke="#43321a" stroke-width="0.75"/>
<circle cx="87.1" cy="379.7" r="1.7" fill="#c98c34" stroke="#43321a" stroke-width="0.75"/>
<circle cx="87.1" cy="389.5" r="1.7" fill="#c98c34" stroke="#43321a" stroke-width="0.75"/>
<circle cx="87.2" cy="493.1" r="1.7" fill="#c98c34" stroke="#43321a" stroke-width="0.75"/>
<circle cx="87.2" cy="500" r="1.7" fill="#de962a" stroke="#43321a" stroke-width="0.75"/>
<circle cx="82.8" cy="508.9" r="1.7" fill="#de962a" stroke="#43321a" stroke-width="0.75"/>
<circle cx="87.2" cy="507.4" r="1.7" fill="#de962a" stroke="#43321a" stroke-width="0.75"/>
<circle cx="91.3" cy="508.5" r="1.7" fill="#de962a" stroke="#43321a" stroke-width="0.75"/>
<circle cx="82.8" cy="515.4" r="1.7" fill="#de962a" stroke="#43321a" stroke-width="0.75"/>
<circle cx="87.2" cy="512.9" r="1.7" fill="#de962a" stroke="#43321a" stroke-width="0.75"/>
<circle cx="91.3" cy="513.3" r="1.7" fill="#de962a" stroke="#43321a" stroke-width="0.75"/>
<circle cx="87.2" cy="523.6" r="1.7" fill="#de962a" stroke="#43321a" stroke-width="0.75"/>
<circle cx="84.9" cy="527.1" r="1.7" fill="#de962a" stroke="#43321a" stroke-width="0.75"/>
<circle cx="89.3" cy="528.4" r="1.7" fill="#de962a" stroke="#43321a" stroke-width="0.75"/>
<circle cx="87.2" cy="539.3" r="1.7" fill="#de962a" stroke="#43321a" stroke-width="0.75"/>
<circle cx="85.1" cy="545.3" r="1.7" fill="#de962a" stroke="#43321a" stroke-width="0.75"/>
<circle cx="89.3" cy="545.7" r="1.7" fill="#de962a" stroke="#43321a" stroke-width="0.75"/>
<circle cx="93.7" cy="543.2" r="1.7" fill="#de962a" stroke="#43321a" stroke-width="0.75"/>
<circle cx="85.1" cy="549.6" r="1.7" fill="#de962a" stroke="#43321a" stroke-width="0.75"/>
<circle cx="89.3" cy="549.8" r="1.7" fill="#de962a" stroke="#43321a" stroke-width="0.75"/>
<circle cx="93.7" cy="553.5" r="1.7" fill="#de962a" stroke="#43321a" stroke-width="0.75"/>
<circle cx="67.6" cy="557.7" r="1.7" fill="#de962a" stroke="#43321a" stroke-width="0.75"/>
<circle cx="72.4" cy="555.7" r="1.7" fill="#de962a" stroke="#43321a" stroke-width="0.75"/>
<circle cx="76.5" cy="556.7" r="1.7" fill="#de962a" stroke="#43321a" stroke-width="0.75"/>
<circle cx="80.8" cy="555.9" r="1.7" fill="#de962a" stroke="#43321a" stroke-width="0.75"/>
<circle cx="85.1" cy="558.8" r="1.7" fill="#de962a" stroke="#43321a" stroke-width="0.75"/>
<circle cx="89.3" cy="556.2" r="1.7" fill="#de962a" stroke="#43321a" stroke-width="0.75"/>
<circle cx="93.7" cy="558.6" r="1.7" fill="#de962a" stroke="#43321a" stroke-width="0.75"/>
<circle cx="97.9" cy="557.5" r="1.7" fill="#de962a" stroke="#43321a" stroke-width="0.75"/>
<circle cx="102.1" cy="558.4" r="1.7" fill="#de962a" stroke="#43321a" stroke-width="0.75"/>
<circle cx="106.3" cy="556.7" r="1.7" fill="#de962a" stroke="#43321a" stroke-width="0.75"/>
<rect x="155.00" y="303.90" width="37.20" height="7.80" fill="#27aae1" />
<rect x="192.20" y="303.90" width="44.70" height="7.80" fill="#e4007c" />
<rect x="155.00" y="313.50" width="3.78" height="3.68" fill="#e4e0ef" />
<rect x="158.73" y="313.50" width="3.78" height="3.68" fill="#d4cee5" />
<rect x="162.45" y="313.50" width="3.78" height="3.68" fill="#e0dbec" />
<rect x="166.18" y="313.50" width="3.78" height="3.68" fill="#e6e2f0" />
<rect x="169.91" y="313.50" width="3.78" height="3.68" fill="#a89dcb" />
<rect x="173.64" y="313.50" width="3.78" height="3.68" fill="#beb5d8" />
<rect x="177.36" y="313.50" width="3.78" height="3.68" fill="#b5abd2" />
<rect x="181.09" y="313.50" width="3.78" height="3.68" fill="#ffe5e0" />
<rect x="184.82" y="313.50" width="3.78" height="3.68" fill="#c9c2df" />
<rect x="188.55" y="313.50" width="3.78" height="3.68" fill="#cec7e2" />
<rect x="192.27" y="313.50" width="3.78" height="3.68" fill="#ffbeb3" />
<rect x="196.00" y="313.50" width="3.78" height="3.68" fill="#dad4e9" />
<rect x="199.73" y="313.50" width="3.78" height="3.68" fill="#fcac9f" />
<rect x="203.45" y="313.50" width="3.78" height="3.68" fill="#ffded8" />
<rect x="207.18" y="313.50" width="3.78" height="3.68" fill="#ffe6e1" />
<rect x="210.91" y="313.50" width="3.78" height="3.68" fill="#a398c8" />
<rect x="214.64" y="313.50" width="3.78" height="3.68" fill="#ffbfb5" />
<rect x="218.36" y="313.50" width="3.78" height="3.68" fill="#e6e2f0" />
<rect x="222.09" y="313.50" width="3.78" height="3.68" fill="#e0dbec" />
<rect x="225.82" y="313.50" width="3.78" height="3.68" fill="#ddd8eb" />
<rect x="229.55" y="313.50" width="3.78" height="3.68" fill="#f48475" />
<rect x="233.27" y="313.50" width="3.78" height="3.68" fill="#ffc7bd" />
<rect x="155.00" y="317.13" width="3.78" height="3.68" fill="#edeaf4" />
<rect x="158.73" y="317.13" width="3.78" height="3.68" fill="#c9c1de" />
<rect x="162.45" y="317.13" width="3.78" height="3.68" fill="#f5f3f9" />
<rect x="166.18" y="317.13" width="3.78" height="3.68" fill="#fff2f0" />
<rect x="169.91" y="317.13" width="3.78" height="3.68" fill="#eeecf5" />
<rect x="173.64" y="317.13" width="3.78" height="3.68" fill="#f3f1f8" />
<rect x="177.36" y="317.13" width="3.78" height="3.68" fill="#ffe4df" />
<rect x="181.09" y="317.13" width="3.78" height="3.68" fill="#d6d0e6" />
<rect x="184.82" y="317.13" width="3.78" height="3.68" fill="#dcd7ea" />
<rect x="188.55" y="317.13" width="3.78" height="3.68" fill="#f5f3f9" />
<rect x="192.27" y="317.13" width="3.78" height="3.68" fill="#ed6e5f" />
<rect x="196.00" y="317.13" width="3.78" height="3.68" fill="#f68d7e" />
<rect x="199.73" y="317.13" width="3.78" height="3.68" fill="#ffcdc4" />
<rect x="203.45" y="317.13" width="3.78" height="3.68" fill="#fffbfa" />
<rect x="207.18" y="317.13" width="3.78" height="3.68" fill="#fcaca0" />
<rect x="210.91" y="317.13" width="3.78" height="3.68" fill="#ffbfb4" />
<rect x="214.64" y="317.13" width="3.78" height="3.68" fill="#ffede9" />
<rect x="218.36" y="317.13" width="3.78" height="3.68" fill="#ffbbb0" />
<rect x="222.09" y="317.13" width="3.78" height="3.68" fill="#d2cce4" />
<rect x="225.82" y="317.13" width="3.78" height="3.68" fill="#f6f5fa" />
<rect x="229.55" y="317.13" width="3.78" height="3.68" fill="#f9998a" />
<rect x="233.27" y="317.13" width="3.78" height="3.68" fill="#ffe8e4" />
<rect x="155.00" y="320.76" width="3.78" height="3.68" fill="#beb5d8" />
<rect x="158.73" y="320.76" width="3.78" height="3.68" fill="#ffe5e0" />
<rect x="162.45" y="320.76" width="3.78" height="3.68" fill="#c4bcdb" />
<rect x="166.18" y="320.76" width="3.78" height="3.68" fill="#d9d3e8" />
<rect x="169.91" y="320.76" width="3.78" height="3.68" fill="#d2cce4" />
<rect x="173.64" y="320.76" width="3.78" height="3.68" fill="#ccc5e0" />
<rect x="177.36" y="320.76" width="3.78" height="3.68" fill="#beb5d8" />
<rect x="181.09" y="320.76" width="3.78" height="3.68" fill="#d5cee5" />
<rect x="184.82" y="320.76" width="3.78" height="3.68" fill="#e2dded" />
<rect x="188.55" y="320.76" width="3.78" height="3.68" fill="#d3cce4" />
<rect x="192.27" y="320.76" width="3.78" height="3.68" fill="#fca89b" />
<rect x="196.00" y="320.76" width="3.78" height="3.68" fill="#fff1ee" />
<rect x="199.73" y="320.76" width="3.78" height="3.68" fill="#d61824" />
<rect x="203.45" y="320.76" width="3.78" height="3.68" fill="#ffe2dc" />
<rect x="207.18" y="320.76" width="3.78" height="3.68" fill="#feb5a9" />
<rect x="210.91" y="320.76" width="3.78" height="3.68" fill="#f5f4f9" />
<rect x="214.64" y="320.76" width="3.78" height="3.68" fill="#fcab9e" />
<rect x="218.36" y="320.76" width="3.78" height="3.68" fill="#f48778" />
<rect x="222.09" y="320.76" width="3.78" height="3.68" fill="#ccc5e0" />
<rect x="225.82" y="320.76" width="3.78" height="3.68" fill="#fffaf9" />
<rect x="229.55" y="320.76" width="3.78" height="3.68" fill="#ffdfd9" />
<rect x="233.27" y="320.76" width="3.78" height="3.68" fill="#f68d7e" />
<rect x="155.00" y="324.39" width="3.78" height="3.68" fill="#fafafc" />
<rect x="158.73" y="324.39" width="3.78" height="3.68" fill="#d5cfe6" />
<rect x="162.45" y="324.39" width="3.78" height="3.68" fill="#9b8fc3" />
<rect x="166.18" y="324.39" width="3.78" height="3.68" fill="#ffbeb4" />
<rect x="169.91" y="324.39" width="3.78" height="3.68" fill="#bfb6d8" />
<rect x="173.64" y="324.39" width="3.78" height="3.68" fill="#8376b4" />
<rect x="177.36" y="324.39" width="3.78" height="3.68" fill="#e3dfee" />
<rect x="181.09" y="324.39" width="3.78" height="3.68" fill="#8a7db8" />
<rect x="184.82" y="324.39" width="3.78" height="3.68" fill="#fefefe" />
<rect x="188.55" y="324.39" width="3.78" height="3.68" fill="#9d91c4" />
<rect x="192.27" y="324.39" width="3.78" height="3.68" fill="#ffc2b7" />
<rect x="196.00" y="324.39" width="3.78" height="3.68" fill="#edebf4" />
<rect x="199.73" y="324.39" width="3.78" height="3.68" fill="#ebe8f3" />
<rect x="203.45" y="324.39" width="3.78" height="3.68" fill="#fdfdfe" />
<rect x="207.18" y="324.39" width="3.78" height="3.68" fill="#f79384" />
<rect x="210.91" y="324.39" width="3.78" height="3.68" fill="#ffefeb" />
<rect x="214.64" y="324.39" width="3.78" height="3.68" fill="#ffe0db" />
<rect x="218.36" y="324.39" width="3.78" height="3.68" fill="#dbd6e9" />
<rect x="222.09" y="324.39" width="3.78" height="3.68" fill="#ee7162" />
<rect x="225.82" y="324.39" width="3.78" height="3.68" fill="#ffcdc4" />
<rect x="229.55" y="324.39" width="3.78" height="3.68" fill="#f7f5fa" />
<rect x="233.27" y="324.39" width="3.78" height="3.68" fill="#ffc9c0" />
<rect x="155.00" y="328.02" width="3.78" height="3.68" fill="#c4bcdb" />
<rect x="158.73" y="328.02" width="3.78" height="3.68" fill="#e2dded" />
<rect x="162.45" y="328.02" width="3.78" height="3.68" fill="#cac3df" />
<rect x="166.18" y="328.02" width="3.78" height="3.68" fill="#e4dfef" />
<rect x="169.91" y="328.02" width="3.78" height="3.68" fill="#fcfcfd" />
<rect x="173.64" y="328.02" width="3.78" height="3.68" fill="#dad4e9" />
<rect x="177.36" y="328.02" width="3.78" height="3.68" fill="#b2a8d1" />
<rect x="181.09" y="328.02" width="3.78" height="3.68" fill="#9184bd" />
<rect x="184.82" y="328.02" width="3.78" height="3.68" fill="#d6d0e6" />
<rect x="188.55" y="328.02" width="3.78" height="3.68" fill="#9a8ec2" />
<rect x="192.27" y="328.02" width="3.78" height="3.68" fill="#ffcac1" />
<rect x="196.00" y="328.02" width="3.78" height="3.68" fill="#bcb3d7" />
<rect x="199.73" y="328.02" width="3.78" height="3.68" fill="#ffe9e4" />
<rect x="203.45" y="328.02" width="3.78" height="3.68" fill="#ffcdc5" />
<rect x="207.18" y="328.02" width="3.78" height="3.68" fill="#fffefe" />
<rect x="210.91" y="328.02" width="3.78" height="3.68" fill="#fff9f8" />
<rect x="214.64" y="328.02" width="3.78" height="3.68" fill="#ffc8be" />
<rect x="218.36" y="328.02" width="3.78" height="3.68" fill="#e4e0ef" />
<rect x="222.09" y="328.02" width="3.78" height="3.68" fill="#fff6f4" />
<rect x="225.82" y="328.02" width="3.78" height="3.68" fill="#ece9f4" />
<rect x="229.55" y="328.02" width="3.78" height="3.68" fill="#ffeeea" />
<rect x="233.27" y="328.02" width="3.78" height="3.68" fill="#f89687" />
<rect x="155.00" y="331.65" width="3.78" height="3.68" fill="#c4bcdc" />
<rect x="158.73" y="331.65" width="3.78" height="3.68" fill="#ffe9e5" />
<rect x="162.45" y="331.65" width="3.78" height="3.68" fill="#d9d3e8" />
<rect x="166.18" y="331.65" width="3.78" height="3.68" fill="#dad4e9" />
<rect x="169.91" y="331.65" width="3.78" height="3.68" fill="#dad4e8" />
<rect x="173.64" y="331.65" width="3.78" height="3.68" fill="#e2deee" />
<rect x="177.36" y="331.65" width="3.78" height="3.68" fill="#bbb2d6" />
<rect x="181.09" y="331.65" width="3.78" height="3.68" fill="#bcb3d7" />
<rect x="184.82" y="331.65" width="3.78" height="3.68" fill="#cac3df" />
<rect x="188.55" y="331.65" width="3.78" height="3.68" fill="#beb5d8" />
<rect x="192.27" y="331.65" width="3.78" height="3.68" fill="#fca89b" />
<rect x="196.00" y="331.65" width="3.78" height="3.68" fill="#ffd6ce" />
<rect x="199.73" y="331.65" width="3.78" height="3.68" fill="#ffd8d1" />
<rect x="203.45" y="331.65" width="3.78" height="3.68" fill="#fdb0a3" />
<rect x="207.18" y="331.65" width="3.78" height="3.68" fill="#ece9f4" />
<rect x="210.91" y="331.65" width="3.78" height="3.68" fill="#f2f0f7" />
<rect x="214.64" y="331.65" width="3.78" height="3.68" fill="#ffbeb3" />
<rect x="218.36" y="331.65" width="3.78" height="3.68" fill="#ffe7e3" />
<rect x="222.09" y="331.65" width="3.78" height="3.68" fill="#ffc0b6" />
<rect x="225.82" y="331.65" width="3.78" height="3.68" fill="#ffc0b6" />
<rect x="229.55" y="331.65" width="3.78" height="3.68" fill="#fcfbfd" />
<rect x="233.27" y="331.65" width="3.78" height="3.68" fill="#f9988a" />
<rect x="155.00" y="335.29" width="3.78" height="3.68" fill="#e6e3f0" />
<rect x="158.73" y="335.29" width="3.78" height="3.68" fill="#f3f1f8" />
<rect x="162.45" y="335.29" width="3.78" height="3.68" fill="#ffe2dd" />
<rect x="166.18" y="335.29" width="3.78" height="3.68" fill="#dad5e9" />
<rect x="169.91" y="335.29" width="3.78" height="3.68" fill="#c3bbdb" />
<rect x="173.64" y="335.29" width="3.78" height="3.68" fill="#fff3f0" />
<rect x="177.36" y="335.29" width="3.78" height="3.68" fill="#dedaeb" />
<rect x="181.09" y="335.29" width="3.78" height="3.68" fill="#ffddd7" />
<rect x="184.82" y="335.29" width="3.78" height="3.68" fill="#b7add4" />
<rect x="188.55" y="335.29" width="3.78" height="3.68" fill="#b2a8d1" />
<rect x="192.27" y="335.29" width="3.78" height="3.68" fill="#ffbdb2" />
<rect x="196.00" y="335.29" width="3.78" height="3.68" fill="#f48576" />
<rect x="199.73" y="335.29" width="3.78" height="3.68" fill="#ffbeb3" />
<rect x="203.45" y="335.29" width="3.78" height="3.68" fill="#ffbdb2" />
<rect x="207.18" y="335.29" width="3.78" height="3.68" fill="#feb3a7" />
<rect x="210.91" y="335.29" width="3.78" height="3.68" fill="#feb8ac" />
<rect x="214.64" y="335.29" width="3.78" height="3.68" fill="#fa9d8f" />
<rect x="218.36" y="335.29" width="3.78" height="3.68" fill="#fffcfb" />
<rect x="222.09" y="335.29" width="3.78" height="3.68" fill="#c6bedd" />
<rect x="225.82" y="335.29" width="3.78" height="3.68" fill="#ffc1b7" />
<rect x="229.55" y="335.29" width="3.78" height="3.68" fill="#ffc4ba" />
<rect x="233.27" y="335.29" width="3.78" height="3.68" fill="#ffbfb5" />
<rect x="155.00" y="338.92" width="3.78" height="3.68" fill="#ebe8f3" />
<rect x="158.73" y="338.92" width="3.78" height="3.68" fill="#a498c8" />
<rect x="162.45" y="338.92" width="3.78" height="3.68" fill="#f5f3f9" />
<rect x="166.18" y="338.92" width="3.78" height="3.68" fill="#8679b6" />
<rect x="169.91" y="338.92" width="3.78" height="3.68" fill="#e7e3f1" />
<rect x="173.64" y="338.92" width="3.78" height="3.68" fill="#bdb4d7" />
<rect x="177.36" y="338.92" width="3.78" height="3.68" fill="#a196c6" />
<rect x="181.09" y="338.92" width="3.78" height="3.68" fill="#9387be" />
<rect x="184.82" y="338.92" width="3.78" height="3.68" fill="#e7e4f1" />
<rect x="188.55" y="338.92" width="3.78" height="3.68" fill="#b7add3" />
<rect x="192.27" y="338.92" width="3.78" height="3.68" fill="#e4e0ef" />
<rect x="196.00" y="338.92" width="3.78" height="3.68" fill="#fefefe" />
<rect x="199.73" y="338.92" width="3.78" height="3.68" fill="#ece9f4" />
<rect x="203.45" y="338.92" width="3.78" height="3.68" fill="#fff5f3" />
<rect x="207.18" y="338.92" width="3.78" height="3.68" fill="#fff6f5" />
<rect x="210.91" y="338.92" width="3.78" height="3.68" fill="#ffc2b8" />
<rect x="214.64" y="338.92" width="3.78" height="3.68" fill="#ffbdb2" />
<rect x="218.36" y="338.92" width="3.78" height="3.68" fill="#b8afd4" />
<rect x="222.09" y="338.92" width="3.78" height="3.68" fill="#ffdfda" />
<rect x="225.82" y="338.92" width="3.78" height="3.68" fill="#ffc0b5" />
<rect x="229.55" y="338.92" width="3.78" height="3.68" fill="#ffeeea" />
<rect x="233.27" y="338.92" width="3.78" height="3.68" fill="#ffdcd6" />
<rect x="155.00" y="342.55" width="3.78" height="3.68" fill="#d7d1e7" />
<rect x="158.73" y="342.55" width="3.78" height="3.68" fill="#c8c1de" />
<rect x="162.45" y="342.55" width="3.78" height="3.68" fill="#cdc5e1" />
<rect x="166.18" y="342.55" width="3.78" height="3.68" fill="#b5abd3" />
<rect x="169.91" y="342.55" width="3.78" height="3.68" fill="#c9c1de" />
<rect x="173.64" y="342.55" width="3.78" height="3.68" fill="#b3a9d1" />
<rect x="177.36" y="342.55" width="3.78" height="3.68" fill="#e1dded" />
<rect x="181.09" y="342.55" width="3.78" height="3.68" fill="#e5e1ef" />
<rect x="184.82" y="342.55" width="3.78" height="3.68" fill="#dedaeb" />
<rect x="188.55" y="342.55" width="3.78" height="3.68" fill="#897cb8" />
<rect x="192.27" y="342.55" width="3.78" height="3.68" fill="#ffefec" />
<rect x="196.00" y="342.55" width="3.78" height="3.68" fill="#ffdad3" />
<rect x="199.73" y="342.55" width="3.78" height="3.68" fill="#f89687" />
<rect x="203.45" y="342.55" width="3.78" height="3.68" fill="#ffedea" />
<rect x="207.18" y="342.55" width="3.78" height="3.68" fill="#ffc3b9" />
<rect x="210.91" y="342.55" width="3.78" height="3.68" fill="#f68d7e" />
<rect x="214.64" y="342.55" width="3.78" height="3.68" fill="#ffd6cf" />
<rect x="218.36" y="342.55" width="3.78" height="3.68" fill="#ffeae6" />
<rect x="222.09" y="342.55" width="3.78" height="3.68" fill="#f5f4f9" />
<rect x="225.82" y="342.55" width="3.78" height="3.68" fill="#d1cbe4" />
<rect x="229.55" y="342.55" width="3.78" height="3.68" fill="#ffc0b6" />
<rect x="233.27" y="342.55" width="3.78" height="3.68" fill="#ffcac1" />
<rect x="155.00" y="346.18" width="3.78" height="3.68" fill="#d6d0e7" />
<rect x="158.73" y="346.18" width="3.78" height="3.68" fill="#9285bd" />
<rect x="162.45" y="346.18" width="3.78" height="3.68" fill="#a095c6" />
<rect x="166.18" y="346.18" width="3.78" height="3.68" fill="#cfc8e2" />
<rect x="169.91" y="346.18" width="3.78" height="3.68" fill="#d1cbe3" />
<rect x="173.64" y="346.18" width="3.78" height="3.68" fill="#c7bfdd" />
<rect x="177.36" y="346.18" width="3.78" height="3.68" fill="#b0a5cf" />
<rect x="181.09" y="346.18" width="3.78" height="3.68" fill="#cdc6e1" />
<rect x="184.82" y="346.18" width="3.78" height="3.68" fill="#d6d0e6" />
<rect x="188.55" y="346.18" width="3.78" height="3.68" fill="#e2dded" />
<rect x="192.27" y="346.18" width="3.78" height="3.68" fill="#ffcdc4" />
<rect x="196.00" y="346.18" width="3.78" height="3.68" fill="#ffe8e3" />
<rect x="199.73" y="346.18" width="3.78" height="3.68" fill="#ded9eb" />
<rect x="203.45" y="346.18" width="3.78" height="3.68" fill="#ffccc3" />
<rect x="207.18" y="346.18" width="3.78" height="3.68" fill="#efecf5" />
<rect x="210.91" y="346.18" width="3.78" height="3.68" fill="#ffd5ce" />
<rect x="214.64" y="346.18" width="3.78" height="3.68" fill="#ffece9" />
<rect x="218.36" y="346.18" width="3.78" height="3.68" fill="#ccc5e0" />
<rect x="222.09" y="346.18" width="3.78" height="3.68" fill="#ffe9e5" />
<rect x="225.82" y="346.18" width="3.78" height="3.68" fill="#eae7f3" />
<rect x="229.55" y="346.18" width="3.78" height="3.68" fill="#ffe9e5" />
<rect x="233.27" y="346.18" width="3.78" height="3.68" fill="#ffc6bc" />
<rect x="155.00" y="349.81" width="3.78" height="3.68" fill="#c3bbdb" />
<rect x="158.73" y="349.81" width="3.78" height="3.68" fill="#aca1cd" />
<rect x="162.45" y="349.81" width="3.78" height="3.68" fill="#efedf6" />
<rect x="166.18" y="349.81" width="3.78" height="3.68" fill="#d5cfe6" />
<rect x="169.91" y="349.81" width="3.78" height="3.68" fill="#afa5cf" />
<rect x="173.64" y="349.81" width="3.78" height="3.68" fill="#dad5e9" />
<rect x="177.36" y="349.81" width="3.78" height="3.68" fill="#9588bf" />
<rect x="181.09" y="349.81" width="3.78" height="3.68" fill="#fcfcfd" />
<rect x="184.82" y="349.81" width="3.78" height="3.68" fill="#a599c9" />
<rect x="188.55" y="349.81" width="3.78" height="3.68" fill="#9b8fc3" />
<rect x="192.27" y="349.81" width="3.78" height="3.68" fill="#ffbdb2" />
<rect x="196.00" y="349.81" width="3.78" height="3.68" fill="#ffeae6" />
<rect x="199.73" y="349.81" width="3.78" height="3.68" fill="#ffddd6" />
<rect x="203.45" y="349.81" width="3.78" height="3.68" fill="#fff7f5" />
<rect x="207.18" y="349.81" width="3.78" height="3.68" fill="#fffcfc" />
<rect x="210.91" y="349.81" width="3.78" height="3.68" fill="#f5f4f9" />
<rect x="214.64" y="349.81" width="3.78" height="3.68" fill="#fba395" />
<rect x="218.36" y="349.81" width="3.78" height="3.68" fill="#8a7eb9" />
<rect x="222.09" y="349.81" width="3.78" height="3.68" fill="#f07667" />
<rect x="225.82" y="349.81" width="3.78" height="3.68" fill="#ffcfc6" />
<rect x="229.55" y="349.81" width="3.78" height="3.68" fill="#a196c7" />
<rect x="233.27" y="349.81" width="3.78" height="3.68" fill="#ffccc3" />
<rect x="155.00" y="353.44" width="3.78" height="3.68" fill="#edeaf4" />
<rect x="158.73" y="353.44" width="3.78" height="3.68" fill="#d6d0e6" />
<rect x="162.45" y="353.44" width="3.78" height="3.68" fill="#d2cce4" />
<rect x="166.18" y="353.44" width="3.78" height="3.68" fill="#ffeae6" />
<rect x="169.91" y="353.44" width="3.78" height="3.68" fill="#f1eff7" />
<rect x="173.64" y="353.44" width="3.78" height="3.68" fill="#c4bbdb" />
<rect x="177.36" y="353.44" width="3.78" height="3.68" fill="#d5cfe6" />
<rect x="181.09" y="353.44" width="3.78" height="3.68" fill="#c7bfdd" />
<rect x="184.82" y="353.44" width="3.78" height="3.68" fill="#ffece9" />
<rect x="188.55" y="353.44" width="3.78" height="3.68" fill="#dcd7ea" />
<rect x="192.27" y="353.44" width="3.78" height="3.68" fill="#ffcdc4" />
<rect x="196.00" y="353.44" width="3.78" height="3.68" fill="#ffbbb0" />
<rect x="199.73" y="353.44" width="3.78" height="3.68" fill="#feb7ab" />
<rect x="203.45" y="353.44" width="3.78" height="3.68" fill="#fff2f0" />
<rect x="207.18" y="353.44" width="3.78" height="3.68" fill="#fefefe" />
<rect x="210.91" y="353.44" width="3.78" height="3.68" fill="#ffd0c8" />
<rect x="214.64" y="353.44" width="3.78" height="3.68" fill="#ffe8e4" />
<rect x="218.36" y="353.44" width="3.78" height="3.68" fill="#e96053" />
<rect x="222.09" y="353.44" width="3.78" height="3.68" fill="#ffede9" />
<rect x="225.82" y="353.44" width="3.78" height="3.68" fill="#ffe3dd" />
<rect x="229.55" y="353.44" width="3.78" height="3.68" fill="#d0c9e3" />
<rect x="233.27" y="353.44" width="3.78" height="3.68" fill="#f79283" />
<rect x="155.00" y="357.07" width="3.78" height="3.68" fill="#f2f0f7" />
<rect x="158.73" y="357.07" width="3.78" height="3.68" fill="#ffede9" />
<rect x="162.45" y="357.07" width="3.78" height="3.68" fill="#e3deee" />
<rect x="166.18" y="357.07" width="3.78" height="3.68" fill="#f0eef6" />
<rect x="169.91" y="357.07" width="3.78" height="3.68" fill="#ffebe7" />
<rect x="173.64" y="357.07" width="3.78" height="3.68" fill="#9488bf" />
<rect x="177.36" y="357.07" width="3.78" height="3.68" fill="#fff7f6" />
<rect x="181.09" y="357.07" width="3.78" height="3.68" fill="#ffe3de" />
<rect x="184.82" y="357.07" width="3.78" height="3.68" fill="#fff4f2" />
<rect x="188.55" y="357.07" width="3.78" height="3.68" fill="#ffede9" />
<rect x="192.27" y="357.07" width="3.78" height="3.68" fill="#fdb1a4" />
<rect x="196.00" y="357.07" width="3.78" height="3.68" fill="#ffd9d3" />
<rect x="199.73" y="357.07" width="3.78" height="3.68" fill="#ffe5e0" />
<rect x="203.45" y="357.07" width="3.78" height="3.68" fill="#fefeff" />
<rect x="207.18" y="357.07" width="3.78" height="3.68" fill="#fba294" />
<rect x="210.91" y="357.07" width="3.78" height="3.68" fill="#f48475" />
<rect x="214.64" y="357.07" width="3.78" height="3.68" fill="#ffcbc2" />
<rect x="218.36" y="357.07" width="3.78" height="3.68" fill="#f68d7d" />
<rect x="222.09" y="357.07" width="3.78" height="3.68" fill="#fff8f6" />
<rect x="225.82" y="357.07" width="3.78" height="3.68" fill="#ffd4cd" />
<rect x="229.55" y="357.07" width="3.78" height="3.68" fill="#f48475" />
<rect x="233.27" y="357.07" width="3.78" height="3.68" fill="#ffd7d0" />
<rect x="155.00" y="360.70" width="3.78" height="3.68" fill="#e0dbec" />
<rect x="158.73" y="360.70" width="3.78" height="3.68" fill="#ffd5ce" />
<rect x="162.45" y="360.70" width="3.78" height="3.68" fill="#d9d3e8" />
<rect x="166.18" y="360.70" width="3.78" height="3.68" fill="#c8c0de" />
<rect x="169.91" y="360.70" width="3.78" height="3.68" fill="#b5abd2" />
<rect x="173.64" y="360.70" width="3.78" height="3.68" fill="#bcb3d7" />
<rect x="177.36" y="360.70" width="3.78" height="3.68" fill="#f6f5fa" />
<rect x="181.09" y="360.70" width="3.78" height="3.68" fill="#e8e5f1" />
<rect x="184.82" y="360.70" width="3.78" height="3.68" fill="#a69bc9" />
<rect x="188.55" y="360.70" width="3.78" height="3.68" fill="#dcd7ea" />
<rect x="192.27" y="360.70" width="3.78" height="3.68" fill="#ffede9" />
<rect x="196.00" y="360.70" width="3.78" height="3.68" fill="#c1b9da" />
<rect x="199.73" y="360.70" width="3.78" height="3.68" fill="#ffd0c8" />
<rect x="203.45" y="360.70" width="3.78" height="3.68" fill="#ded9eb" />
<rect x="207.18" y="360.70" width="3.78" height="3.68" fill="#f2f0f7" />
<rect x="210.91" y="360.70" width="3.78" height="3.68" fill="#ffe1db" />
<rect x="214.64" y="360.70" width="3.78" height="3.68" fill="#d5cfe6" />
<rect x="218.36" y="360.70" width="3.78" height="3.68" fill="#a59ac9" />
<rect x="222.09" y="360.70" width="3.78" height="3.68" fill="#fff5f3" />
<rect x="225.82" y="360.70" width="3.78" height="3.68" fill="#aa9fcb" />
<rect x="229.55" y="360.70" width="3.78" height="3.68" fill="#fba79a" />
<rect x="233.27" y="360.70" width="3.78" height="3.68" fill="#faa092" />
<rect x="155.00" y="364.33" width="3.78" height="3.68" fill="#d9d3e8" />
<rect x="158.73" y="364.33" width="3.78" height="3.68" fill="#bab1d6" />
<rect x="162.45" y="364.33" width="3.78" height="3.68" fill="#fff6f4" />
<rect x="166.18" y="364.33" width="3.78" height="3.68" fill="#bfb7d9" />
<rect x="169.91" y="364.33" width="3.78" height="3.68" fill="#b6add3" />
<rect x="173.64" y="364.33" width="3.78" height="3.68" fill="#c0b7d9" />
<rect x="177.36" y="364.33" width="3.78" height="3.68" fill="#b2a8d1" />
<rect x="181.09" y="364.33" width="3.78" height="3.68" fill="#cbc4e0" />
<rect x="184.82" y="364.33" width="3.78" height="3.68" fill="#a397c7" />
<rect x="188.55" y="364.33" width="3.78" height="3.68" fill="#7d70b1" />
<rect x="192.27" y="364.33" width="3.78" height="3.68" fill="#eeebf5" />
<rect x="196.00" y="364.33" width="3.78" height="3.68" fill="#cec6e1" />
<rect x="199.73" y="364.33" width="3.78" height="3.68" fill="#ffc7bd" />
<rect x="203.45" y="364.33" width="3.78" height="3.68" fill="#c7bfdd" />
<rect x="207.18" y="364.33" width="3.78" height="3.68" fill="#fdb3a6" />
<rect x="210.91" y="364.33" width="3.78" height="3.68" fill="#f6f5fa" />
<rect x="214.64" y="364.33" width="3.78" height="3.68" fill="#ffbfb4" />
<rect x="218.36" y="364.33" width="3.78" height="3.68" fill="#fbfbfd" />
<rect x="222.09" y="364.33" width="3.78" height="3.68" fill="#ffded8" />
<rect x="225.82" y="364.33" width="3.78" height="3.68" fill="#bdb4d7" />
<rect x="229.55" y="364.33" width="3.78" height="3.68" fill="#fefeff" />
<rect x="233.27" y="364.33" width="3.78" height="3.68" fill="#ffcac1" />
<rect x="155.00" y="367.97" width="3.78" height="3.68" fill="#f0edf6" />
<rect x="158.73" y="367.97" width="3.78" height="3.68" fill="#c6bedd" />
<rect x="162.45" y="367.97" width="3.78" height="3.68" fill="#f5f3f9" />
<rect x="166.18" y="367.97" width="3.78" height="3.68" fill="#b1a7d0" />
<rect x="169.91" y="367.97" width="3.78" height="3.68" fill="#7d70b1" />
<rect x="173.64" y="367.97" width="3.78" height="3.68" fill="#ada2cd" />
<rect x="177.36" y="367.97" width="3.78" height="3.68" fill="#bbb2d6" />
<rect x="181.09" y="367.97" width="3.78" height="3.68" fill="#7c6fb0" />
<rect x="184.82" y="367.97" width="3.78" height="3.68" fill="#dad5e9" />
<rect x="188.55" y="367.97" width="3.78" height="3.68" fill="#e3dfee" />
<rect x="192.27" y="367.97" width="3.78" height="3.68" fill="#ffe6e1" />
<rect x="196.00" y="367.97" width="3.78" height="3.68" fill="#fdaea1" />
<rect x="199.73" y="367.97" width="3.78" height="3.68" fill="#f1eff7" />
<rect x="203.45" y="367.97" width="3.78" height="3.68" fill="#ffdad3" />
<rect x="207.18" y="367.97" width="3.78" height="3.68" fill="#d1cae3" />
<rect x="210.91" y="367.97" width="3.78" height="3.68" fill="#fff7f5" />
<rect x="214.64" y="367.97" width="3.78" height="3.68" fill="#ffc4b9" />
<rect x="218.36" y="367.97" width="3.78" height="3.68" fill="#efecf5" />
<rect x="222.09" y="367.97" width="3.78" height="3.68" fill="#ffcdc5" />
<rect x="225.82" y="367.97" width="3.78" height="3.68" fill="#c3badb" />
<rect x="229.55" y="367.97" width="3.78" height="3.68" fill="#ffbdb2" />
<rect x="233.27" y="367.97" width="3.78" height="3.68" fill="#ffeae6" />
<rect x="155.00" y="371.60" width="3.78" height="3.68" fill="#d8d2e7" />
<rect x="158.73" y="371.60" width="3.78" height="3.68" fill="#fefefe" />
<rect x="162.45" y="371.60" width="3.78" height="3.68" fill="#fff2ef" />
<rect x="166.18" y="371.60" width="3.78" height="3.68" fill="#e2deee" />
<rect x="169.91" y="371.60" width="3.78" height="3.68" fill="#e6e2f0" />
<rect x="173.64" y="371.60" width="3.78" height="3.68" fill="#e5e1ef" />
<rect x="177.36" y="371.60" width="3.78" height="3.68" fill="#dad5e9" />
<rect x="181.09" y="371.60" width="3.78" height="3.68" fill="#bdb4d7" />
<rect x="184.82" y="371.60" width="3.78" height="3.68" fill="#a498c8" />
<rect x="188.55" y="371.60" width="3.78" height="3.68" fill="#a79cca" />
<rect x="192.27" y="371.60" width="3.78" height="3.68" fill="#faa091" />
<rect x="196.00" y="371.60" width="3.78" height="3.68" fill="#ffc5bb" />
<rect x="199.73" y="371.60" width="3.78" height="3.68" fill="#ffc3b8" />
<rect x="203.45" y="371.60" width="3.78" height="3.68" fill="#ffe2dd" />
<rect x="207.18" y="371.60" width="3.78" height="3.68" fill="#e9e6f2" />
<rect x="210.91" y="371.60" width="3.78" height="3.68" fill="#ffe3de" />
<rect x="214.64" y="371.60" width="3.78" height="3.68" fill="#feb4a8" />
<rect x="218.36" y="371.60" width="3.78" height="3.68" fill="#d5cfe6" />
<rect x="222.09" y="371.60" width="3.78" height="3.68" fill="#fff8f6" />
<rect x="225.82" y="371.60" width="3.78" height="3.68" fill="#f99c8d" />
<rect x="229.55" y="371.60" width="3.78" height="3.68" fill="#e5e1ef" />
<rect x="233.27" y="371.60" width="3.78" height="3.68" fill="#f79081" />
<rect x="155.00" y="375.23" width="3.78" height="3.68" fill="#fff1ef" />
<rect x="158.73" y="375.23" width="3.78" height="3.68" fill="#eeebf5" />
<rect x="162.45" y="375.23" width="3.78" height="3.68" fill="#b0a5cf" />
<rect x="166.18" y="375.23" width="3.78" height="3.68" fill="#c8c1de" />
<rect x="169.91" y="375.23" width="3.78" height="3.68" fill="#897cb8" />
<rect x="173.64" y="375.23" width="3.78" height="3.68" fill="#bdb4d7" />
<rect x="177.36" y="375.23" width="3.78" height="3.68" fill="#aba0cc" />
<rect x="181.09" y="375.23" width="3.78" height="3.68" fill="#fff9f8" />
<rect x="184.82" y="375.23" width="3.78" height="3.68" fill="#d6d0e7" />
<rect x="188.55" y="375.23" width="3.78" height="3.68" fill="#dcd6ea" />
<rect x="192.27" y="375.23" width="3.78" height="3.68" fill="#ffbdb2" />
<rect x="196.00" y="375.23" width="3.78" height="3.68" fill="#f8f7fb" />
<rect x="199.73" y="375.23" width="3.78" height="3.68" fill="#ffe0db" />
<rect x="203.45" y="375.23" width="3.78" height="3.68" fill="#fcaa9d" />
<rect x="207.18" y="375.23" width="3.78" height="3.68" fill="#f89687" />
<rect x="210.91" y="375.23" width="3.78" height="3.68" fill="#ffe4df" />
<rect x="214.64" y="375.23" width="3.78" height="3.68" fill="#feb8ac" />
<rect x="218.36" y="375.23" width="3.78" height="3.68" fill="#ffd5cd" />
<rect x="222.09" y="375.23" width="3.78" height="3.68" fill="#e7e3f0" />
<rect x="225.82" y="375.23" width="3.78" height="3.68" fill="#ffe4df" />
<rect x="229.55" y="375.23" width="3.78" height="3.68" fill="#ffcdc4" />
<rect x="233.27" y="375.23" width="3.78" height="3.68" fill="#ffe3dd" />
<rect x="155.00" y="378.86" width="3.78" height="3.68" fill="#e5e1f0" />
<rect x="158.73" y="378.86" width="3.78" height="3.68" fill="#e7e4f1" />
<rect x="162.45" y="378.86" width="3.78" height="3.68" fill="#fff5f3" />
<rect x="166.18" y="378.86" width="3.78" height="3.68" fill="#e6e2f0" />
<rect x="169.91" y="378.86" width="3.78" height="3.68" fill="#b9b0d5" />
<rect x="173.64" y="378.86" width="3.78" height="3.68" fill="#cdc5e1" />
<rect x="177.36" y="378.86" width="3.78" height="3.68" fill="#fffdfd" />
<rect x="181.09" y="378.86" width="3.78" height="3.68" fill="#dad5e9" />
<rect x="184.82" y="378.86" width="3.78" height="3.68" fill="#c4bcdc" />
<rect x="188.55" y="378.86" width="3.78" height="3.68" fill="#ffece9" />
<rect x="192.27" y="378.86" width="3.78" height="3.68" fill="#ffd6cf" />
<rect x="196.00" y="378.86" width="3.78" height="3.68" fill="#f5f4f9" />
<rect x="199.73" y="378.86" width="3.78" height="3.68" fill="#fba597" />
<rect x="203.45" y="378.86" width="3.78" height="3.68" fill="#ffdcd6" />
<rect x="207.18" y="378.86" width="3.78" height="3.68" fill="#ffdbd4" />
<rect x="210.91" y="378.86" width="3.78" height="3.68" fill="#ffcec5" />
<rect x="214.64" y="378.86" width="3.78" height="3.68" fill="#f89586" />
<rect x="218.36" y="378.86" width="3.78" height="3.68" fill="#fefefe" />
<rect x="222.09" y="378.86" width="3.78" height="3.68" fill="#ffe9e5" />
<rect x="225.82" y="378.86" width="3.78" height="3.68" fill="#fff2f0" />
<rect x="229.55" y="378.86" width="3.78" height="3.68" fill="#fff7f6" />
<rect x="233.27" y="378.86" width="3.78" height="3.68" fill="#ffefed" />
<rect x="155.00" y="382.49" width="3.78" height="3.68" fill="#f0eef6" />
<rect x="158.73" y="382.49" width="3.78" height="3.68" fill="#d2cbe4" />
<rect x="162.45" y="382.49" width="3.78" height="3.68" fill="#fdfdfe" />
<rect x="166.18" y="382.49" width="3.78" height="3.68" fill="#f7f6fa" />
<rect x="169.91" y="382.49" width="3.78" height="3.68" fill="#f5f4f9" />
<rect x="173.64" y="382.49" width="3.78" height="3.68" fill="#fff1ee" />
<rect x="177.36" y="382.49" width="3.78" height="3.68" fill="#fff9f7" />
<rect x="181.09" y="382.49" width="3.78" height="3.68" fill="#fffdfc" />
<rect x="184.82" y="382.49" width="3.78" height="3.68" fill="#dcd7ea" />
<rect x="188.55" y="382.49" width="3.78" height="3.68" fill="#eeebf5" />
<rect x="192.27" y="382.49" width="3.78" height="3.68" fill="#fdfdfe" />
<rect x="196.00" y="382.49" width="3.78" height="3.68" fill="#ffcac1" />
<rect x="199.73" y="382.49" width="3.78" height="3.68" fill="#ffdcd6" />
<rect x="203.45" y="382.49" width="3.78" height="3.68" fill="#ea6355" />
<rect x="207.18" y="382.49" width="3.78" height="3.68" fill="#fffefe" />
<rect x="210.91" y="382.49" width="3.78" height="3.68" fill="#fba496" />
<rect x="214.64" y="382.49" width="3.78" height="3.68" fill="#febaaf" />
<rect x="218.36" y="382.49" width="3.78" height="3.68" fill="#fffbfa" />
<rect x="222.09" y="382.49" width="3.78" height="3.68" fill="#ffeeeb" />
<rect x="225.82" y="382.49" width="3.78" height="3.68" fill="#f99b8d" />
<rect x="229.55" y="382.49" width="3.78" height="3.68" fill="#ece9f3" />
<rect x="233.27" y="382.49" width="3.78" height="3.68" fill="#fdb0a3" />
<rect x="155.00" y="386.12" width="3.78" height="3.68" fill="#fff9f8" />
<rect x="158.73" y="386.12" width="3.78" height="3.68" fill="#c4bcdc" />
<rect x="162.45" y="386.12" width="3.78" height="3.68" fill="#ddd7ea" />
<rect x="166.18" y="386.12" width="3.78" height="3.68" fill="#c7bfdd" />
<rect x="169.91" y="386.12" width="3.78" height="3.68" fill="#776aad" />
<rect x="173.64" y="386.12" width="3.78" height="3.68" fill="#ece9f3" />
<rect x="177.36" y="386.12" width="3.78" height="3.68" fill="#d0c9e3" />
<rect x="181.09" y="386.12" width="3.78" height="3.68" fill="#ebe8f3" />
<rect x="184.82" y="386.12" width="3.78" height="3.68" fill="#e7e3f1" />
<rect x="188.55" y="386.12" width="3.78" height="3.68" fill="#cfc8e2" />
<rect x="192.27" y="386.12" width="3.78" height="3.68" fill="#fff5f3" />
<rect x="196.00" y="386.12" width="3.78" height="3.68" fill="#ffe8e4" />
<rect x="199.73" y="386.12" width="3.78" height="3.68" fill="#ffc8bf" />
<rect x="203.45" y="386.12" width="3.78" height="3.68" fill="#fba597" />
<rect x="207.18" y="386.12" width="3.78" height="3.68" fill="#fff4f2" />
<rect x="210.91" y="386.12" width="3.78" height="3.68" fill="#ffe0da" />
<rect x="214.64" y="386.12" width="3.78" height="3.68" fill="#ec695a" />
<rect x="218.36" y="386.12" width="3.78" height="3.68" fill="#ffe9e4" />
<rect x="222.09" y="386.12" width="3.78" height="3.68" fill="#ffe7e2" />
<rect x="225.82" y="386.12" width="3.78" height="3.68" fill="#ffc3b9" />
<rect x="229.55" y="386.12" width="3.78" height="3.68" fill="#ffe8e4" />
<rect x="233.27" y="386.12" width="3.78" height="3.68" fill="#fba496" />
<rect x="155.00" y="389.75" width="3.78" height="3.68" fill="#f8f7fb" />
<rect x="158.73" y="389.75" width="3.78" height="3.68" fill="#e9e6f2" />
<rect x="162.45" y="389.75" width="3.78" height="3.68" fill="#d9d3e8" />
<rect x="166.18" y="389.75" width="3.78" height="3.68" fill="#c8c0de" />
<rect x="169.91" y="389.75" width="3.78" height="3.68" fill="#bab1d5" />
<rect x="173.64" y="389.75" width="3.78" height="3.68" fill="#fffaf9" />
<rect x="177.36" y="389.75" width="3.78" height="3.68" fill="#f2f0f7" />
<rect x="181.09" y="389.75" width="3.78" height="3.68" fill="#fff0ed" />
<rect x="184.82" y="389.75" width="3.78" height="3.68" fill="#c9c1de" />
<rect x="188.55" y="389.75" width="3.78" height="3.68" fill="#d3cce4" />
<rect x="192.27" y="389.75" width="3.78" height="3.68" fill="#fff2ef" />
<rect x="196.00" y="389.75" width="3.78" height="3.68" fill="#ffc7be" />
<rect x="199.73" y="389.75" width="3.78" height="3.68" fill="#ffd6ce" />
<rect x="203.45" y="389.75" width="3.78" height="3.68" fill="#ffe2dd" />
<rect x="207.18" y="389.75" width="3.78" height="3.68" fill="#fffefe" />
<rect x="210.91" y="389.75" width="3.78" height="3.68" fill="#ffccc4" />
<rect x="214.64" y="389.75" width="3.78" height="3.68" fill="#ffc1b7" />
<rect x="218.36" y="389.75" width="3.78" height="3.68" fill="#e2deee" />
<rect x="222.09" y="389.75" width="3.78" height="3.68" fill="#fcac9f" />
<rect x="225.82" y="389.75" width="3.78" height="3.68" fill="#ddd8eb" />
<rect x="229.55" y="389.75" width="3.78" height="3.68" fill="#d7d1e7" />
<rect x="233.27" y="389.75" width="3.78" height="3.68" fill="#ffdbd4" />
<rect x="155.00" y="393.38" width="3.78" height="3.68" fill="#ebe8f3" />
<rect x="158.73" y="393.38" width="3.78" height="3.68" fill="#f5f4f9" />
<rect x="162.45" y="393.38" width="3.78" height="3.68" fill="#d8d2e7" />
<rect x="166.18" y="393.38" width="3.78" height="3.68" fill="#8e81bb" />
<rect x="169.91" y="393.38" width="3.78" height="3.68" fill="#978bc0" />
<rect x="173.64" y="393.38" width="3.78" height="3.68" fill="#cfc8e2" />
<rect x="177.36" y="393.38" width="3.78" height="3.68" fill="#cac2df" />
<rect x="181.09" y="393.38" width="3.78" height="3.68" fill="#bdb4d7" />
<rect x="184.82" y="393.38" width="3.78" height="3.68" fill="#bfb6d9" />
<rect x="188.55" y="393.38" width="3.78" height="3.68" fill="#bab1d5" />
<rect x="192.27" y="393.38" width="3.78" height="3.68" fill="#ffcec6" />
<rect x="196.00" y="393.38" width="3.78" height="3.68" fill="#fa9f91" />
<rect x="199.73" y="393.38" width="3.78" height="3.68" fill="#ffc7bd" />
<rect x="203.45" y="393.38" width="3.78" height="3.68" fill="#ffd3cb" />
<rect x="207.18" y="393.38" width="3.78" height="3.68" fill="#e6e2f0" />
<rect x="210.91" y="393.38" width="3.78" height="3.68" fill="#fff9f8" />
<rect x="214.64" y="393.38" width="3.78" height="3.68" fill="#dfdaec" />
<rect x="218.36" y="393.38" width="3.78" height="3.68" fill="#fff2f0" />
<rect x="222.09" y="393.38" width="3.78" height="3.68" fill="#eeebf5" />
<rect x="225.82" y="393.38" width="3.78" height="3.68" fill="#ffddd7" />
<rect x="229.55" y="393.38" width="3.78" height="3.68" fill="#fff6f4" />
<rect x="233.27" y="393.38" width="3.78" height="3.68" fill="#f48677" />
<rect x="155.00" y="397.01" width="3.78" height="3.68" fill="#dfdaec" />
<rect x="158.73" y="397.01" width="3.78" height="3.68" fill="#ece9f4" />
<rect x="162.45" y="397.01" width="3.78" height="3.68" fill="#ffd2ca" />
<rect x="166.18" y="397.01" width="3.78" height="3.68" fill="#eae7f3" />
<rect x="169.91" y="397.01" width="3.78" height="3.68" fill="#ffd1c9" />
<rect x="173.64" y="397.01" width="3.78" height="3.68" fill="#b9afd5" />
<rect x="177.36" y="397.01" width="3.78" height="3.68" fill="#ccc5e0" />
<rect x="181.09" y="397.01" width="3.78" height="3.68" fill="#ffcfc6" />
<rect x="184.82" y="397.01" width="3.78" height="3.68" fill="#e9e6f2" />
<rect x="188.55" y="397.01" width="3.78" height="3.68" fill="#bdb4d7" />
<rect x="192.27" y="397.01" width="3.78" height="3.68" fill="#ed6c5d" />
<rect x="196.00" y="397.01" width="3.78" height="3.68" fill="#cac3df" />
<rect x="199.73" y="397.01" width="3.78" height="3.68" fill="#fdafa3" />
<rect x="203.45" y="397.01" width="3.78" height="3.68" fill="#f27f70" />
<rect x="207.18" y="397.01" width="3.78" height="3.68" fill="#ffddd7" />
<rect x="210.91" y="397.01" width="3.78" height="3.68" fill="#fffdfc" />
<rect x="214.64" y="397.01" width="3.78" height="3.68" fill="#ffcec5" />
<rect x="218.36" y="397.01" width="3.78" height="3.68" fill="#ffefeb" />
<rect x="222.09" y="397.01" width="3.78" height="3.68" fill="#ffebe8" />
<rect x="225.82" y="397.01" width="3.78" height="3.68" fill="#ffd8d0" />
<rect x="229.55" y="397.01" width="3.78" height="3.68" fill="#ffddd7" />
<rect x="233.27" y="397.01" width="3.78" height="3.68" fill="#ffd5ce" />
<rect x="155.00" y="400.64" width="3.78" height="3.68" fill="#c8c0de" />
<rect x="158.73" y="400.64" width="3.78" height="3.68" fill="#a99ecb" />
<rect x="162.45" y="400.64" width="3.78" height="3.68" fill="#9589bf" />
<rect x="166.18" y="400.64" width="3.78" height="3.68" fill="#b0a6cf" />
<rect x="169.91" y="400.64" width="3.78" height="3.68" fill="#fff0ed" />
<rect x="173.64" y="400.64" width="3.78" height="3.68" fill="#c2b9da" />
<rect x="177.36" y="400.64" width="3.78" height="3.68" fill="#c3bbdb" />
<rect x="181.09" y="400.64" width="3.78" height="3.68" fill="#6356a1" />
<rect x="184.82" y="400.64" width="3.78" height="3.68" fill="#bdb4d7" />
<rect x="188.55" y="400.64" width="3.78" height="3.68" fill="#bfb6d8" />
<rect x="192.27" y="400.64" width="3.78" height="3.68" fill="#ffc7bd" />
<rect x="196.00" y="400.64" width="3.78" height="3.68" fill="#fff7f6" />
<rect x="199.73" y="400.64" width="3.78" height="3.68" fill="#f99c8e" />
<rect x="203.45" y="400.64" width="3.78" height="3.68" fill="#fffffe" />
<rect x="207.18" y="400.64" width="3.78" height="3.68" fill="#fff3f1" />
<rect x="210.91" y="400.64" width="3.78" height="3.68" fill="#ffbeb3" />
<rect x="214.64" y="400.64" width="3.78" height="3.68" fill="#ffd2ca" />
<rect x="218.36" y="400.64" width="3.78" height="3.68" fill="#ffbfb4" />
<rect x="222.09" y="400.64" width="3.78" height="3.68" fill="#faf9fc" />
<rect x="225.82" y="400.64" width="3.78" height="3.68" fill="#f5f3f9" />
<rect x="229.55" y="400.64" width="3.78" height="3.68" fill="#f5f3f9" />
<rect x="233.27" y="400.64" width="3.78" height="3.68" fill="#ffffff" />
<rect x="155.00" y="404.27" width="3.78" height="3.68" fill="#ded9eb" />
<rect x="158.73" y="404.27" width="3.78" height="3.68" fill="#b1a7d0" />
<rect x="162.45" y="404.27" width="3.78" height="3.68" fill="#ded9eb" />
<rect x="166.18" y="404.27" width="3.78" height="3.68" fill="#bdb4d7" />
<rect x="169.91" y="404.27" width="3.78" height="3.68" fill="#968ac0" />
<rect x="173.64" y="404.27" width="3.78" height="3.68" fill="#eae6f2" />
<rect x="177.36" y="404.27" width="3.78" height="3.68" fill="#dbd5e9" />
<rect x="181.09" y="404.27" width="3.78" height="3.68" fill="#fffcfb" />
<rect x="184.82" y="404.27" width="3.78" height="3.68" fill="#c4bcdc" />
<rect x="188.55" y="404.27" width="3.78" height="3.68" fill="#cdc6e1" />
<rect x="192.27" y="404.27" width="3.78" height="3.68" fill="#d3cce4" />
<rect x="196.00" y="404.27" width="3.78" height="3.68" fill="#f9f8fc" />
<rect x="199.73" y="404.27" width="3.78" height="3.68" fill="#fca89a" />
<rect x="203.45" y="404.27" width="3.78" height="3.68" fill="#ffd6cf" />
<rect x="207.18" y="404.27" width="3.78" height="3.68" fill="#ffe8e4" />
<rect x="210.91" y="404.27" width="3.78" height="3.68" fill="#f89889" />
<rect x="214.64" y="404.27" width="3.78" height="3.68" fill="#fbfafd" />
<rect x="218.36" y="404.27" width="3.78" height="3.68" fill="#fff9f8" />
<rect x="222.09" y="404.27" width="3.78" height="3.68" fill="#fcaa9d" />
<rect x="225.82" y="404.27" width="3.78" height="3.68" fill="#ffcbc2" />
<rect x="229.55" y="404.27" width="3.78" height="3.68" fill="#f8f6fb" />
<rect x="233.27" y="404.27" width="3.78" height="3.68" fill="#ffe8e4" />
<rect x="155.00" y="407.91" width="3.78" height="3.68" fill="#fffdfd" />
<rect x="158.73" y="407.91" width="3.78" height="3.68" fill="#e9e6f2" />
<rect x="162.45" y="407.91" width="3.78" height="3.68" fill="#fffcfc" />
<rect x="166.18" y="407.91" width="3.78" height="3.68" fill="#e8e4f1" />
<rect x="169.91" y="407.91" width="3.78" height="3.68" fill="#d4cee5" />
<rect x="173.64" y="407.91" width="3.78" height="3.68" fill="#f7f6fa" />
<rect x="177.36" y="407.91" width="3.78" height="3.68" fill="#ffbcb0" />
<rect x="181.09" y="407.91" width="3.78" height="3.68" fill="#f5f4f9" />
<rect x="184.82" y="407.91" width="3.78" height="3.68" fill="#7d70b1" />
<rect x="188.55" y="407.91" width="3.78" height="3.68" fill="#e0dbec" />
<rect x="192.27" y="407.91" width="3.78" height="3.68" fill="#ffd6cf" />
<rect x="196.00" y="407.91" width="3.78" height="3.68" fill="#fdb1a5" />
<rect x="199.73" y="407.91" width="3.78" height="3.68" fill="#fba597" />
<rect x="203.45" y="407.91" width="3.78" height="3.68" fill="#ffbfb4" />
<rect x="207.18" y="407.91" width="3.78" height="3.68" fill="#ffcac1" />
<rect x="210.91" y="407.91" width="3.78" height="3.68" fill="#ffd3cb" />
<rect x="214.64" y="407.91" width="3.78" height="3.68" fill="#ffded8" />
<rect x="218.36" y="407.91" width="3.78" height="3.68" fill="#ffcec5" />
<rect x="222.09" y="407.91" width="3.78" height="3.68" fill="#fba496" />
<rect x="225.82" y="407.91" width="3.78" height="3.68" fill="#ebe8f3" />
<rect x="229.55" y="407.91" width="3.78" height="3.68" fill="#d61824" />
<rect x="233.27" y="407.91" width="3.78" height="3.68" fill="#ffe4de" />
<rect x="155.00" y="411.54" width="3.78" height="3.68" fill="#ddd8eb" />
<rect x="158.73" y="411.54" width="3.78" height="3.68" fill="#fff1ee" />
<rect x="162.45" y="411.54" width="3.78" height="3.68" fill="#fffcfc" />
<rect x="166.18" y="411.54" width="3.78" height="3.68" fill="#c3bbdb" />
<rect x="169.91" y="411.54" width="3.78" height="3.68" fill="#aca1cd" />
<rect x="173.64" y="411.54" width="3.78" height="3.68" fill="#fff7f5" />
<rect x="177.36" y="411.54" width="3.78" height="3.68" fill="#f4f2f8" />
<rect x="181.09" y="411.54" width="3.78" height="3.68" fill="#fff1ee" />
<rect x="184.82" y="411.54" width="3.78" height="3.68" fill="#e1dced" />
<rect x="188.55" y="411.54" width="3.78" height="3.68" fill="#fdfdfe" />
<rect x="192.27" y="411.54" width="3.78" height="3.68" fill="#f79384" />
<rect x="196.00" y="411.54" width="3.78" height="3.68" fill="#ffd7d0" />
<rect x="199.73" y="411.54" width="3.78" height="3.68" fill="#ffdad4" />
<rect x="203.45" y="411.54" width="3.78" height="3.68" fill="#ffc6bd" />
<rect x="207.18" y="411.54" width="3.78" height="3.68" fill="#ffd9d2" />
<rect x="210.91" y="411.54" width="3.78" height="3.68" fill="#ffd0c8" />
<rect x="214.64" y="411.54" width="3.78" height="3.68" fill="#eae7f3" />
<rect x="218.36" y="411.54" width="3.78" height="3.68" fill="#f99d8e" />
<rect x="222.09" y="411.54" width="3.78" height="3.68" fill="#ffebe7" />
<rect x="225.82" y="411.54" width="3.78" height="3.68" fill="#ffcbc1" />
<rect x="229.55" y="411.54" width="3.78" height="3.68" fill="#ffd0c7" />
<rect x="233.27" y="411.54" width="3.78" height="3.68" fill="#fffcfb" />
<rect x="155.00" y="415.17" width="3.78" height="3.68" fill="#f4f2f8" />
<rect x="158.73" y="415.17" width="3.78" height="3.68" fill="#e9e6f2" />
<rect x="162.45" y="415.17" width="3.78" height="3.68" fill="#c2bada" />
<rect x="166.18" y="415.17" width="3.78" height="3.68" fill="#eeecf5" />
<rect x="169.91" y="415.17" width="3.78" height="3.68" fill="#b4aad1" />
<rect x="173.64" y="415.17" width="3.78" height="3.68" fill="#dcd7ea" />
<rect x="177.36" y="415.17" width="3.78" height="3.68" fill="#f9f8fb" />
<rect x="181.09" y="415.17" width="3.78" height="3.68" fill="#b1a7d0" />
<rect x="184.82" y="415.17" width="3.78" height="3.68" fill="#ded9eb" />
<rect x="188.55" y="415.17" width="3.78" height="3.68" fill="#c6bedd" />
<rect x="192.27" y="415.17" width="3.78" height="3.68" fill="#fa9d8f" />
<rect x="196.00" y="415.17" width="3.78" height="3.68" fill="#ffd9d2" />
<rect x="199.73" y="415.17" width="3.78" height="3.68" fill="#ffbcb0" />
<rect x="203.45" y="415.17" width="3.78" height="3.68" fill="#ded9eb" />
<rect x="207.18" y="415.17" width="3.78" height="3.68" fill="#fdaea2" />
<rect x="210.91" y="415.17" width="3.78" height="3.68" fill="#fff1ee" />
<rect x="214.64" y="415.17" width="3.78" height="3.68" fill="#f58a7a" />
<rect x="218.36" y="415.17" width="3.78" height="3.68" fill="#f2f0f7" />
<rect x="222.09" y="415.17" width="3.78" height="3.68" fill="#eceaf4" />
<rect x="225.82" y="415.17" width="3.78" height="3.68" fill="#fffefe" />
<rect x="229.55" y="415.17" width="3.78" height="3.68" fill="#fca89b" />
<rect x="233.27" y="415.17" width="3.78" height="3.68" fill="#ffdfd9" />
<rect x="155.00" y="418.80" width="3.78" height="3.68" fill="#e7e4f1" />
<rect x="158.73" y="418.80" width="3.78" height="3.68" fill="#b6acd3" />
<rect x="162.45" y="418.80" width="3.78" height="3.68" fill="#ada3ce" />
<rect x="166.18" y="418.80" width="3.78" height="3.68" fill="#d2cce4" />
<rect x="169.91" y="418.80" width="3.78" height="3.68" fill="#aca1cd" />
<rect x="173.64" y="418.80" width="3.78" height="3.68" fill="#e9e6f2" />
<rect x="177.36" y="418.80" width="3.78" height="3.68" fill="#a99ecb" />
<rect x="181.09" y="418.80" width="3.78" height="3.68" fill="#e3deee" />
<rect x="184.82" y="418.80" width="3.78" height="3.68" fill="#c0b8d9" />
<rect x="188.55" y="418.80" width="3.78" height="3.68" fill="#cec7e1" />
<rect x="192.27" y="418.80" width="3.78" height="3.68" fill="#ffcbc2" />
<rect x="196.00" y="418.80" width="3.78" height="3.68" fill="#ffc0b5" />
<rect x="199.73" y="418.80" width="3.78" height="3.68" fill="#ffeae6" />
<rect x="203.45" y="418.80" width="3.78" height="3.68" fill="#fff3f0" />
<rect x="207.18" y="418.80" width="3.78" height="3.68" fill="#ffc9bf" />
<rect x="210.91" y="418.80" width="3.78" height="3.68" fill="#ffe1db" />
<rect x="214.64" y="418.80" width="3.78" height="3.68" fill="#f4f2f8" />
<rect x="218.36" y="418.80" width="3.78" height="3.68" fill="#f4f3f9" />
<rect x="222.09" y="418.80" width="3.78" height="3.68" fill="#ffcdc5" />
<rect x="225.82" y="418.80" width="3.78" height="3.68" fill="#fff0ed" />
<rect x="229.55" y="418.80" width="3.78" height="3.68" fill="#fff4f1" />
<rect x="233.27" y="418.80" width="3.78" height="3.68" fill="#f89485" />
<rect x="155.00" y="422.43" width="3.78" height="3.68" fill="#c0b7d9" />
<rect x="158.73" y="422.43" width="3.78" height="3.68" fill="#7a6daf" />
<rect x="162.45" y="422.43" width="3.78" height="3.68" fill="#a195c6" />
<rect x="166.18" y="422.43" width="3.78" height="3.68" fill="#a499c8" />
<rect x="169.91" y="422.43" width="3.78" height="3.68" fill="#a196c6" />
<rect x="173.64" y="422.43" width="3.78" height="3.68" fill="#e2deee" />
<rect x="177.36" y="422.43" width="3.78" height="3.68" fill="#8679b6" />
<rect x="181.09" y="422.43" width="3.78" height="3.68" fill="#d9d3e8" />
<rect x="184.82" y="422.43" width="3.78" height="3.68" fill="#beb5d8" />
<rect x="188.55" y="422.43" width="3.78" height="3.68" fill="#7d70b1" />
<rect x="192.27" y="422.43" width="3.78" height="3.68" fill="#f89889" />
<rect x="196.00" y="422.43" width="3.78" height="3.68" fill="#ffeae6" />
<rect x="199.73" y="422.43" width="3.78" height="3.68" fill="#ec695b" />
<rect x="203.45" y="422.43" width="3.78" height="3.68" fill="#e5e2f0" />
<rect x="207.18" y="422.43" width="3.78" height="3.68" fill="#fdfdfe" />
<rect x="210.91" y="422.43" width="3.78" height="3.68" fill="#e8e4f1" />
<rect x="214.64" y="422.43" width="3.78" height="3.68" fill="#ece9f4" />
<rect x="218.36" y="422.43" width="3.78" height="3.68" fill="#ffc1b6" />
<rect x="222.09" y="422.43" width="3.78" height="3.68" fill="#a297c7" />
<rect x="225.82" y="422.43" width="3.78" height="3.68" fill="#ffe0da" />
<rect x="229.55" y="422.43" width="3.78" height="3.68" fill="#f1eff7" />
<rect x="233.27" y="422.43" width="3.78" height="3.68" fill="#fcfbfd" />
<rect x="155.00" y="426.06" width="3.78" height="3.68" fill="#e6e2f0" />
<rect x="158.73" y="426.06" width="3.78" height="3.68" fill="#e5e1ef" />
<rect x="162.45" y="426.06" width="3.78" height="3.68" fill="#ada3ce" />
<rect x="166.18" y="426.06" width="3.78" height="3.68" fill="#ccc5e1" />
<rect x="169.91" y="426.06" width="3.78" height="3.68" fill="#b5acd3" />
<rect x="173.64" y="426.06" width="3.78" height="3.68" fill="#d4cee5" />
<rect x="177.36" y="426.06" width="3.78" height="3.68" fill="#aca1cd" />
<rect x="181.09" y="426.06" width="3.78" height="3.68" fill="#c0b7d9" />
<rect x="184.82" y="426.06" width="3.78" height="3.68" fill="#dfdaec" />
<rect x="188.55" y="426.06" width="3.78" height="3.68" fill="#d3cde5" />
<rect x="192.27" y="426.06" width="3.78" height="3.68" fill="#fff0ed" />
<rect x="196.00" y="426.06" width="3.78" height="3.68" fill="#d5cfe6" />
<rect x="199.73" y="426.06" width="3.78" height="3.68" fill="#ffe9e4" />
<rect x="203.45" y="426.06" width="3.78" height="3.68" fill="#fffeff" />
<rect x="207.18" y="426.06" width="3.78" height="3.68" fill="#ffefec" />
<rect x="210.91" y="426.06" width="3.78" height="3.68" fill="#d9d3e8" />
<rect x="214.64" y="426.06" width="3.78" height="3.68" fill="#fff4f2" />
<rect x="218.36" y="426.06" width="3.78" height="3.68" fill="#dcd7ea" />
<rect x="222.09" y="426.06" width="3.78" height="3.68" fill="#ffd4cc" />
<rect x="225.82" y="426.06" width="3.78" height="3.68" fill="#bab0d5" />
<rect x="229.55" y="426.06" width="3.78" height="3.68" fill="#f4f2f8" />
<rect x="233.27" y="426.06" width="3.78" height="3.68" fill="#e7e3f1" />
<rect x="155.00" y="429.69" width="3.78" height="3.68" fill="#f7f5fa" />
<rect x="158.73" y="429.69" width="3.78" height="3.68" fill="#ccc4e0" />
<rect x="162.45" y="429.69" width="3.78" height="3.68" fill="#f9f8fb" />
<rect x="166.18" y="429.69" width="3.78" height="3.68" fill="#ffcfc7" />
<rect x="169.91" y="429.69" width="3.78" height="3.68" fill="#b5acd3" />
<rect x="173.64" y="429.69" width="3.78" height="3.68" fill="#b3a9d1" />
<rect x="177.36" y="429.69" width="3.78" height="3.68" fill="#f8f7fb" />
<rect x="181.09" y="429.69" width="3.78" height="3.68" fill="#efecf5" />
<rect x="184.82" y="429.69" width="3.78" height="3.68" fill="#d6d0e6" />
<rect x="188.55" y="429.69" width="3.78" height="3.68" fill="#f1eff7" />
<rect x="192.27" y="429.69" width="3.78" height="3.68" fill="#ffcbc2" />
<rect x="196.00" y="429.69" width="3.78" height="3.68" fill="#f38273" />
<rect x="199.73" y="429.69" width="3.78" height="3.68" fill="#feb6aa" />
<rect x="203.45" y="429.69" width="3.78" height="3.68" fill="#fffbfb" />
<rect x="207.18" y="429.69" width="3.78" height="3.68" fill="#ffd5cd" />
<rect x="210.91" y="429.69" width="3.78" height="3.68" fill="#ffc8be" />
<rect x="214.64" y="429.69" width="3.78" height="3.68" fill="#ffe7e3" />
<rect x="218.36" y="429.69" width="3.78" height="3.68" fill="#ffcfc6" />
<rect x="222.09" y="429.69" width="3.78" height="3.68" fill="#aa9fcc" />
<rect x="225.82" y="429.69" width="3.78" height="3.68" fill="#d6d0e6" />
<rect x="229.55" y="429.69" width="3.78" height="3.68" fill="#ffedea" />
<rect x="233.27" y="429.69" width="3.78" height="3.68" fill="#ed6c5e" />
<rect x="155.00" y="433.32" width="3.78" height="3.68" fill="#e6e3f0" />
<rect x="158.73" y="433.32" width="3.78" height="3.68" fill="#d9d3e8" />
<rect x="162.45" y="433.32" width="3.78" height="3.68" fill="#dbd5e9" />
<rect x="166.18" y="433.32" width="3.78" height="3.68" fill="#dcd7ea" />
<rect x="169.91" y="433.32" width="3.78" height="3.68" fill="#e4e0ef" />
<rect x="173.64" y="433.32" width="3.78" height="3.68" fill="#fff1ef" />
<rect x="177.36" y="433.32" width="3.78" height="3.68" fill="#f5f3f9" />
<rect x="181.09" y="433.32" width="3.78" height="3.68" fill="#f1eef6" />
<rect x="184.82" y="433.32" width="3.78" height="3.68" fill="#f3f1f8" />
<rect x="188.55" y="433.32" width="3.78" height="3.68" fill="#e9e6f2" />
<rect x="192.27" y="433.32" width="3.78" height="3.68" fill="#fdb3a7" />
<rect x="196.00" y="433.32" width="3.78" height="3.68" fill="#f17b6b" />
<rect x="199.73" y="433.32" width="3.78" height="3.68" fill="#feb8ad" />
<rect x="203.45" y="433.32" width="3.78" height="3.68" fill="#fff2ef" />
<rect x="207.18" y="433.32" width="3.78" height="3.68" fill="#fff1ee" />
<rect x="210.91" y="433.32" width="3.78" height="3.68" fill="#fcfbfd" />
<rect x="214.64" y="433.32" width="3.78" height="3.68" fill="#eb6557" />
<rect x="218.36" y="433.32" width="3.78" height="3.68" fill="#c6bedd" />
<rect x="222.09" y="433.32" width="3.78" height="3.68" fill="#feb9ae" />
<rect x="225.82" y="433.32" width="3.78" height="3.68" fill="#fff0ed" />
<rect x="229.55" y="433.32" width="3.78" height="3.68" fill="#ffc3b9" />
<rect x="233.27" y="433.32" width="3.78" height="3.68" fill="#fca89a" />
<rect x="155.00" y="436.95" width="3.78" height="3.68" fill="#f5f4f9" />
<rect x="158.73" y="436.95" width="3.78" height="3.68" fill="#ded9eb" />
<rect x="162.45" y="436.95" width="3.78" height="3.68" fill="#ffd0c8" />
<rect x="166.18" y="436.95" width="3.78" height="3.68" fill="#e8e5f1" />
<rect x="169.91" y="436.95" width="3.78" height="3.68" fill="#9589bf" />
<rect x="173.64" y="436.95" width="3.78" height="3.68" fill="#e9e6f2" />
<rect x="177.36" y="436.95" width="3.78" height="3.68" fill="#9b8fc3" />
<rect x="181.09" y="436.95" width="3.78" height="3.68" fill="#ffe0da" />
<rect x="184.82" y="436.95" width="3.78" height="3.68" fill="#fffefe" />
<rect x="188.55" y="436.95" width="3.78" height="3.68" fill="#a69ac9" />
<rect x="192.27" y="436.95" width="3.78" height="3.68" fill="#e65549" />
<rect x="196.00" y="436.95" width="3.78" height="3.68" fill="#fdb2a6" />
<rect x="199.73" y="436.95" width="3.78" height="3.68" fill="#f58879" />
<rect x="203.45" y="436.95" width="3.78" height="3.68" fill="#ffe1dc" />
<rect x="207.18" y="436.95" width="3.78" height="3.68" fill="#e2dded" />
<rect x="210.91" y="436.95" width="3.78" height="3.68" fill="#f6f4f9" />
<rect x="214.64" y="436.95" width="3.78" height="3.68" fill="#f68d7e" />
<rect x="218.36" y="436.95" width="3.78" height="3.68" fill="#e3deee" />
<rect x="222.09" y="436.95" width="3.78" height="3.68" fill="#ffbfb4" />
<rect x="225.82" y="436.95" width="3.78" height="3.68" fill="#c4bcdb" />
<rect x="229.55" y="436.95" width="3.78" height="3.68" fill="#f6f5fa" />
<rect x="233.27" y="436.95" width="3.78" height="3.68" fill="#ffddd6" />
<rect x="155.00" y="440.59" width="3.78" height="3.68" fill="#fffdfc" />
<rect x="158.73" y="440.59" width="3.78" height="3.68" fill="#e7e3f0" />
<rect x="162.45" y="440.59" width="3.78" height="3.68" fill="#968ac0" />
<rect x="166.18" y="440.59" width="3.78" height="3.68" fill="#ccc4e0" />
<rect x="169.91" y="440.59" width="3.78" height="3.68" fill="#c2b9da" />
<rect x="173.64" y="440.59" width="3.78" height="3.68" fill="#ffe9e5" />
<rect x="177.36" y="440.59" width="3.78" height="3.68" fill="#968ac0" />
<rect x="181.09" y="440.59" width="3.78" height="3.68" fill="#fff0ee" />
<rect x="184.82" y="440.59" width="3.78" height="3.68" fill="#d5cfe6" />
<rect x="188.55" y="440.59" width="3.78" height="3.68" fill="#c6bedd" />
<rect x="192.27" y="440.59" width="3.78" height="3.68" fill="#f48676" />
<rect x="196.00" y="440.59" width="3.78" height="3.68" fill="#feb7ab" />
<rect x="199.73" y="440.59" width="3.78" height="3.68" fill="#f68d7e" />
<rect x="203.45" y="440.59" width="3.78" height="3.68" fill="#ffe5e0" />
<rect x="207.18" y="440.59" width="3.78" height="3.68" fill="#fffbfb" />
<rect x="210.91" y="440.59" width="3.78" height="3.68" fill="#fdfcfe" />
<rect x="214.64" y="440.59" width="3.78" height="3.68" fill="#feb6aa" />
<rect x="218.36" y="440.59" width="3.78" height="3.68" fill="#e5e1ef" />
<rect x="222.09" y="440.59" width="3.78" height="3.68" fill="#fdb1a4" />
<rect x="225.82" y="440.59" width="3.78" height="3.68" fill="#febaaf" />
<rect x="229.55" y="440.59" width="3.78" height="3.68" fill="#fffffe" />
<rect x="233.27" y="440.59" width="3.78" height="3.68" fill="#f0edf6" />
<rect x="155.00" y="444.22" width="3.78" height="3.68" fill="#d6d0e6" />
<rect x="158.73" y="444.22" width="3.78" height="3.68" fill="#ffffff" />
<rect x="162.45" y="444.22" width="3.78" height="3.68" fill="#ddd8eb" />
<rect x="166.18" y="444.22" width="3.78" height="3.68" fill="#8a7db8" />
<rect x="169.91" y="444.22" width="3.78" height="3.68" fill="#9a8ec2" />
<rect x="173.64" y="444.22" width="3.78" height="3.68" fill="#fff9f7" />
<rect x="177.36" y="444.22" width="3.78" height="3.68" fill="#cec7e2" />
<rect x="181.09" y="444.22" width="3.78" height="3.68" fill="#f7f5fa" />
<rect x="184.82" y="444.22" width="3.78" height="3.68" fill="#c5bddc" />
<rect x="188.55" y="444.22" width="3.78" height="3.68" fill="#eeecf5" />
<rect x="192.27" y="444.22" width="3.78" height="3.68" fill="#ffc1b6" />
<rect x="196.00" y="444.22" width="3.78" height="3.68" fill="#fffaf9" />
<rect x="199.73" y="444.22" width="3.78" height="3.68" fill="#f5f3f9" />
<rect x="203.45" y="444.22" width="3.78" height="3.68" fill="#7f72b2" />
<rect x="207.18" y="444.22" width="3.78" height="3.68" fill="#f7f5fa" />
<rect x="210.91" y="444.22" width="3.78" height="3.68" fill="#f8f7fb" />
<rect x="214.64" y="444.22" width="3.78" height="3.68" fill="#f0eef6" />
<rect x="218.36" y="444.22" width="3.78" height="3.68" fill="#aca2cd" />
<rect x="222.09" y="444.22" width="3.78" height="3.68" fill="#e9e6f2" />
<rect x="225.82" y="444.22" width="3.78" height="3.68" fill="#f0eef6" />
<rect x="229.55" y="444.22" width="3.78" height="3.68" fill="#f5f3f9" />
<rect x="233.27" y="444.22" width="3.78" height="3.68" fill="#e2deee" />
<rect x="155.00" y="447.85" width="3.78" height="3.68" fill="#fbfbfd" />
<rect x="158.73" y="447.85" width="3.78" height="3.68" fill="#aea4ce" />
<rect x="162.45" y="447.85" width="3.78" height="3.68" fill="#e6e2f0" />
<rect x="166.18" y="447.85" width="3.78" height="3.68" fill="#c5bddc" />
<rect x="169.91" y="447.85" width="3.78" height="3.68" fill="#f1eff7" />
<rect x="173.64" y="447.85" width="3.78" height="3.68" fill="#e1dded" />
<rect x="177.36" y="447.85" width="3.78" height="3.68" fill="#edeaf4" />
<rect x="181.09" y="447.85" width="3.78" height="3.68" fill="#efedf5" />
<rect x="184.82" y="447.85" width="3.78" height="3.68" fill="#9d91c4" />
<rect x="188.55" y="447.85" width="3.78" height="3.68" fill="#a296c7" />
<rect x="192.27" y="447.85" width="3.78" height="3.68" fill="#faa194" />
<rect x="196.00" y="447.85" width="3.78" height="3.68" fill="#f07869" />
<rect x="199.73" y="447.85" width="3.78" height="3.68" fill="#f9988a" />
<rect x="203.45" y="447.85" width="3.78" height="3.68" fill="#ed6e5f" />
<rect x="207.18" y="447.85" width="3.78" height="3.68" fill="#f9f8fc" />
<rect x="210.91" y="447.85" width="3.78" height="3.68" fill="#ffd3cb" />
<rect x="214.64" y="447.85" width="3.78" height="3.68" fill="#e8e4f1" />
<rect x="218.36" y="447.85" width="3.78" height="3.68" fill="#e4e0ef" />
<rect x="222.09" y="447.85" width="3.78" height="3.68" fill="#f9f8fb" />
<rect x="225.82" y="447.85" width="3.78" height="3.68" fill="#dad5e9" />
<rect x="229.55" y="447.85" width="3.78" height="3.68" fill="#febaaf" />
<rect x="233.27" y="447.85" width="3.78" height="3.68" fill="#f9f8fc" />
<rect x="155.00" y="451.48" width="3.78" height="3.68" fill="#f1eff6" />
<rect x="158.73" y="451.48" width="3.78" height="3.68" fill="#dbd5e9" />
<rect x="162.45" y="451.48" width="3.78" height="3.68" fill="#fff6f5" />
<rect x="166.18" y="451.48" width="3.78" height="3.68" fill="#d0c9e3" />
<rect x="169.91" y="451.48" width="3.78" height="3.68" fill="#c9c2df" />
<rect x="173.64" y="451.48" width="3.78" height="3.68" fill="#c4bcdb" />
<rect x="177.36" y="451.48" width="3.78" height="3.68" fill="#f9f8fb" />
<rect x="181.09" y="451.48" width="3.78" height="3.68" fill="#eae7f3" />
<rect x="184.82" y="451.48" width="3.78" height="3.68" fill="#ccc5e1" />
<rect x="188.55" y="451.48" width="3.78" height="3.68" fill="#f8f6fb" />
<rect x="192.27" y="451.48" width="3.78" height="3.68" fill="#febaae" />
<rect x="196.00" y="451.48" width="3.78" height="3.68" fill="#fefdfe" />
<rect x="199.73" y="451.48" width="3.78" height="3.68" fill="#f28070" />
<rect x="203.45" y="451.48" width="3.78" height="3.68" fill="#ffffff" />
<rect x="207.18" y="451.48" width="3.78" height="3.68" fill="#fffcfb" />
<rect x="210.91" y="451.48" width="3.78" height="3.68" fill="#ffeae6" />
<rect x="214.64" y="451.48" width="3.78" height="3.68" fill="#fba597" />
<rect x="218.36" y="451.48" width="3.78" height="3.68" fill="#fff7f5" />
<rect x="222.09" y="451.48" width="3.78" height="3.68" fill="#ded9eb" />
<rect x="225.82" y="451.48" width="3.78" height="3.68" fill="#fcaa9c" />
<rect x="229.55" y="451.48" width="3.78" height="3.68" fill="#fa9d8f" />
<rect x="233.27" y="451.48" width="3.78" height="3.68" fill="#f4f3f9" />
<rect x="155.00" y="455.11" width="3.78" height="3.68" fill="#e0dbec" />
<rect x="158.73" y="455.11" width="3.78" height="3.68" fill="#d6d1e7" />
<rect x="162.45" y="455.11" width="3.78" height="3.68" fill="#fff1ef" />
<rect x="166.18" y="455.11" width="3.78" height="3.68" fill="#faf9fc" />
<rect x="169.91" y="455.11" width="3.78" height="3.68" fill="#d5cfe6" />
<rect x="173.64" y="455.11" width="3.78" height="3.68" fill="#d0c9e3" />
<rect x="177.36" y="455.11" width="3.78" height="3.68" fill="#ffe0da" />
<rect x="181.09" y="455.11" width="3.78" height="3.68" fill="#f9f8fb" />
<rect x="184.82" y="455.11" width="3.78" height="3.68" fill="#c8c0de" />
<rect x="188.55" y="455.11" width="3.78" height="3.68" fill="#ebe8f3" />
<rect x="192.27" y="455.11" width="3.78" height="3.68" fill="#d61824" />
<rect x="196.00" y="455.11" width="3.78" height="3.68" fill="#feb7ab" />
<rect x="199.73" y="455.11" width="3.78" height="3.68" fill="#f27e6e" />
<rect x="203.45" y="455.11" width="3.78" height="3.68" fill="#eeebf5" />
<rect x="207.18" y="455.11" width="3.78" height="3.68" fill="#feb5a9" />
<rect x="210.91" y="455.11" width="3.78" height="3.68" fill="#ffcec5" />
<rect x="214.64" y="455.11" width="3.78" height="3.68" fill="#feb8ac" />
<rect x="218.36" y="455.11" width="3.78" height="3.68" fill="#e96053" />
<rect x="222.09" y="455.11" width="3.78" height="3.68" fill="#ffcac0" />
<rect x="225.82" y="455.11" width="3.78" height="3.68" fill="#ffc5bb" />
<rect x="229.55" y="455.11" width="3.78" height="3.68" fill="#ffc1b6" />
<rect x="233.27" y="455.11" width="3.78" height="3.68" fill="#fcaa9d" />
<rect x="155.00" y="458.74" width="3.78" height="3.68" fill="#fff6f4" />
<rect x="158.73" y="458.74" width="3.78" height="3.68" fill="#ded9eb" />
<rect x="162.45" y="458.74" width="3.78" height="3.68" fill="#a79cca" />
<rect x="166.18" y="458.74" width="3.78" height="3.68" fill="#fff3f1" />
<rect x="169.91" y="458.74" width="3.78" height="3.68" fill="#36318a" />
<rect x="173.64" y="458.74" width="3.78" height="3.68" fill="#c0b7d9" />
<rect x="177.36" y="458.74" width="3.78" height="3.68" fill="#fefeff" />
<rect x="181.09" y="458.74" width="3.78" height="3.68" fill="#e7e3f0" />
<rect x="184.82" y="458.74" width="3.78" height="3.68" fill="#b6add3" />
<rect x="188.55" y="458.74" width="3.78" height="3.68" fill="#c2b9da" />
<rect x="192.27" y="458.74" width="3.78" height="3.68" fill="#ffbcb0" />
<rect x="196.00" y="458.74" width="3.78" height="3.68" fill="#ffc8be" />
<rect x="199.73" y="458.74" width="3.78" height="3.68" fill="#ea6456" />
<rect x="203.45" y="458.74" width="3.78" height="3.68" fill="#ffd0c8" />
<rect x="207.18" y="458.74" width="3.78" height="3.68" fill="#ffe8e4" />
<rect x="210.91" y="458.74" width="3.78" height="3.68" fill="#bbb1d6" />
<rect x="214.64" y="458.74" width="3.78" height="3.68" fill="#ffcec6" />
<rect x="218.36" y="458.74" width="3.78" height="3.68" fill="#feb4a8" />
<rect x="222.09" y="458.74" width="3.78" height="3.68" fill="#f9998b" />
<rect x="225.82" y="458.74" width="3.78" height="3.68" fill="#c5bddc" />
<rect x="229.55" y="458.74" width="3.78" height="3.68" fill="#d6d0e6" />
<rect x="233.27" y="458.74" width="3.78" height="3.68" fill="#ffd8d1" />
<rect x="155.00" y="462.37" width="3.78" height="3.68" fill="#e6e3f0" />
<rect x="158.73" y="462.37" width="3.78" height="3.68" fill="#a79cca" />
<rect x="162.45" y="462.37" width="3.78" height="3.68" fill="#f0eef6" />
<rect x="166.18" y="462.37" width="3.78" height="3.68" fill="#dad5e9" />
<rect x="169.91" y="462.37" width="3.78" height="3.68" fill="#6558a3" />
<rect x="173.64" y="462.37" width="3.78" height="3.68" fill="#a69bc9" />
<rect x="177.36" y="462.37" width="3.78" height="3.68" fill="#f4f3f9" />
<rect x="181.09" y="462.37" width="3.78" height="3.68" fill="#edeaf4" />
<rect x="184.82" y="462.37" width="3.78" height="3.68" fill="#c1b8d9" />
<rect x="188.55" y="462.37" width="3.78" height="3.68" fill="#f6f4f9" />
<rect x="192.27" y="462.37" width="3.78" height="3.68" fill="#f27d6d" />
<rect x="196.00" y="462.37" width="3.78" height="3.68" fill="#ffc5bb" />
<rect x="199.73" y="462.37" width="3.78" height="3.68" fill="#ffc9c0" />
<rect x="203.45" y="462.37" width="3.78" height="3.68" fill="#ffd5ce" />
<rect x="207.18" y="462.37" width="3.78" height="3.68" fill="#eeecf5" />
<rect x="210.91" y="462.37" width="3.78" height="3.68" fill="#ffd1c9" />
<rect x="214.64" y="462.37" width="3.78" height="3.68" fill="#e7e4f1" />
<rect x="218.36" y="462.37" width="3.78" height="3.68" fill="#ffdfd9" />
<rect x="222.09" y="462.37" width="3.78" height="3.68" fill="#ffc5bb" />
<rect x="225.82" y="462.37" width="3.78" height="3.68" fill="#ffe3de" />
<rect x="229.55" y="462.37" width="3.78" height="3.68" fill="#ffede9" />
<rect x="233.27" y="462.37" width="3.78" height="3.68" fill="#ffddd6" />
<rect x="155.00" y="466.00" width="3.78" height="3.68" fill="#e6e2f0" />
<rect x="158.73" y="466.00" width="3.78" height="3.68" fill="#cfc8e2" />
<rect x="162.45" y="466.00" width="3.78" height="3.68" fill="#d8d2e7" />
<rect x="166.18" y="466.00" width="3.78" height="3.68" fill="#fdfcfe" />
<rect x="169.91" y="466.00" width="3.78" height="3.68" fill="#ccc5e0" />
<rect x="173.64" y="466.00" width="3.78" height="3.68" fill="#b7add3" />
<rect x="177.36" y="466.00" width="3.78" height="3.68" fill="#c1b9da" />
<rect x="181.09" y="466.00" width="3.78" height="3.68" fill="#bfb6d8" />
<rect x="184.82" y="466.00" width="3.78" height="3.68" fill="#bbb2d6" />
<rect x="188.55" y="466.00" width="3.78" height="3.68" fill="#cbc3df" />
<rect x="192.27" y="466.00" width="3.78" height="3.68" fill="#ffc8bf" />
<rect x="196.00" y="466.00" width="3.78" height="3.68" fill="#ffc5bb" />
<rect x="199.73" y="466.00" width="3.78" height="3.68" fill="#ec685a" />
<rect x="203.45" y="466.00" width="3.78" height="3.68" fill="#eeebf5" />
<rect x="207.18" y="466.00" width="3.78" height="3.68" fill="#ffe6e1" />
<rect x="210.91" y="466.00" width="3.78" height="3.68" fill="#fcab9e" />
<rect x="214.64" y="466.00" width="3.78" height="3.68" fill="#fff3f0" />
<rect x="218.36" y="466.00" width="3.78" height="3.68" fill="#ffdbd5" />
<rect x="222.09" y="466.00" width="3.78" height="3.68" fill="#bcb3d7" />
<rect x="225.82" y="466.00" width="3.78" height="3.68" fill="#fffefe" />
<rect x="229.55" y="466.00" width="3.78" height="3.68" fill="#f8f7fb" />
<rect x="233.27" y="466.00" width="3.78" height="3.68" fill="#f79182" />
<rect x="155.00" y="469.63" width="3.78" height="3.68" fill="#fffefe" />
<rect x="158.73" y="469.63" width="3.78" height="3.68" fill="#8a7db9" />
<rect x="162.45" y="469.63" width="3.78" height="3.68" fill="#d5cfe6" />
<rect x="166.18" y="469.63" width="3.78" height="3.68" fill="#aca2cd" />
<rect x="169.91" y="469.63" width="3.78" height="3.68" fill="#d7d1e7" />
<rect x="173.64" y="469.63" width="3.78" height="3.68" fill="#ccc4e0" />
<rect x="177.36" y="469.63" width="3.78" height="3.68" fill="#d6d0e6" />
<rect x="181.09" y="469.63" width="3.78" height="3.68" fill="#b8aed4" />
<rect x="184.82" y="469.63" width="3.78" height="3.68" fill="#e2dded" />
<rect x="188.55" y="469.63" width="3.78" height="3.68" fill="#e0dbec" />
<rect x="192.27" y="469.63" width="3.78" height="3.68" fill="#f27c6d" />
<rect x="196.00" y="469.63" width="3.78" height="3.68" fill="#f48475" />
<rect x="199.73" y="469.63" width="3.78" height="3.68" fill="#fba497" />
<rect x="203.45" y="469.63" width="3.78" height="3.68" fill="#ffe5e0" />
<rect x="207.18" y="469.63" width="3.78" height="3.68" fill="#aca1cd" />
<rect x="210.91" y="469.63" width="3.78" height="3.68" fill="#e1dced" />
<rect x="214.64" y="469.63" width="3.78" height="3.68" fill="#c5bddc" />
<rect x="218.36" y="469.63" width="3.78" height="3.68" fill="#f2f0f7" />
<rect x="222.09" y="469.63" width="3.78" height="3.68" fill="#f7f6fa" />
<rect x="225.82" y="469.63" width="3.78" height="3.68" fill="#fffdfc" />
<rect x="229.55" y="469.63" width="3.78" height="3.68" fill="#dad4e9" />
<rect x="233.27" y="469.63" width="3.78" height="3.68" fill="#b0a5cf" />
<rect x="155.00" y="473.26" width="3.78" height="3.68" fill="#f5f3f9" />
<rect x="158.73" y="473.26" width="3.78" height="3.68" fill="#ccc5e0" />
<rect x="162.45" y="473.26" width="3.78" height="3.68" fill="#bcb3d7" />
<rect x="166.18" y="473.26" width="3.78" height="3.68" fill="#bcb3d7" />
<rect x="169.91" y="473.26" width="3.78" height="3.68" fill="#d4cee5" />
<rect x="173.64" y="473.26" width="3.78" height="3.68" fill="#a99ecb" />
<rect x="177.36" y="473.26" width="3.78" height="3.68" fill="#c9c2df" />
<rect x="181.09" y="473.26" width="3.78" height="3.68" fill="#b5abd2" />
<rect x="184.82" y="473.26" width="3.78" height="3.68" fill="#e7e3f1" />
<rect x="188.55" y="473.26" width="3.78" height="3.68" fill="#aba0cc" />
<rect x="192.27" y="473.26" width="3.78" height="3.68" fill="#f48777" />
<rect x="196.00" y="473.26" width="3.78" height="3.68" fill="#ffc9c0" />
<rect x="199.73" y="473.26" width="3.78" height="3.68" fill="#fff3f1" />
<rect x="203.45" y="473.26" width="3.78" height="3.68" fill="#ffe8e3" />
<rect x="207.18" y="473.26" width="3.78" height="3.68" fill="#d8d3e8" />
<rect x="210.91" y="473.26" width="3.78" height="3.68" fill="#d4cee5" />
<rect x="214.64" y="473.26" width="3.78" height="3.68" fill="#e8e4f1" />
<rect x="218.36" y="473.26" width="3.78" height="3.68" fill="#cdc6e1" />
<rect x="222.09" y="473.26" width="3.78" height="3.68" fill="#fff7f5" />
<rect x="225.82" y="473.26" width="3.78" height="3.68" fill="#ffe9e5" />
<rect x="229.55" y="473.26" width="3.78" height="3.68" fill="#ffd9d2" />
<rect x="233.27" y="473.26" width="3.78" height="3.68" fill="#edebf4" />
<rect x="155.00" y="476.89" width="3.78" height="3.68" fill="#ddd8eb" />
<rect x="158.73" y="476.89" width="3.78" height="3.68" fill="#dfdaec" />
<rect x="162.45" y="476.89" width="3.78" height="3.68" fill="#d7d1e7" />
<rect x="166.18" y="476.89" width="3.78" height="3.68" fill="#bab1d6" />
<rect x="169.91" y="476.89" width="3.78" height="3.68" fill="#d1cbe4" />
<rect x="173.64" y="476.89" width="3.78" height="3.68" fill="#f4f2f8" />
<rect x="177.36" y="476.89" width="3.78" height="3.68" fill="#d3cce4" />
<rect x="181.09" y="476.89" width="3.78" height="3.68" fill="#a59ac9" />
<rect x="184.82" y="476.89" width="3.78" height="3.68" fill="#b9afd5" />
<rect x="188.55" y="476.89" width="3.78" height="3.68" fill="#a69bca" />
<rect x="192.27" y="476.89" width="3.78" height="3.68" fill="#ffd5cd" />
<rect x="196.00" y="476.89" width="3.78" height="3.68" fill="#ee6e5f" />
<rect x="199.73" y="476.89" width="3.78" height="3.68" fill="#ffbbb0" />
<rect x="203.45" y="476.89" width="3.78" height="3.68" fill="#fff1ee" />
<rect x="207.18" y="476.89" width="3.78" height="3.68" fill="#f6f4fa" />
<rect x="210.91" y="476.89" width="3.78" height="3.68" fill="#ffe1dc" />
<rect x="214.64" y="476.89" width="3.78" height="3.68" fill="#fff5f3" />
<rect x="218.36" y="476.89" width="3.78" height="3.68" fill="#ffded8" />
<rect x="222.09" y="476.89" width="3.78" height="3.68" fill="#fff2ef" />
<rect x="225.82" y="476.89" width="3.78" height="3.68" fill="#e7e3f0" />
<rect x="229.55" y="476.89" width="3.78" height="3.68" fill="#d6d0e6" />
<rect x="233.27" y="476.89" width="3.78" height="3.68" fill="#ded9eb" />
<rect x="155.00" y="480.53" width="3.78" height="3.68" fill="#c2b9da" />
<rect x="158.73" y="480.53" width="3.78" height="3.68" fill="#cec6e1" />
<rect x="162.45" y="480.53" width="3.78" height="3.68" fill="#ddd8eb" />
<rect x="166.18" y="480.53" width="3.78" height="3.68" fill="#cfc8e2" />
<rect x="169.91" y="480.53" width="3.78" height="3.68" fill="#aca2cd" />
<rect x="173.64" y="480.53" width="3.78" height="3.68" fill="#c1b9da" />
<rect x="177.36" y="480.53" width="3.78" height="3.68" fill="#7e71b1" />
<rect x="181.09" y="480.53" width="3.78" height="3.68" fill="#c4bcdb" />
<rect x="184.82" y="480.53" width="3.78" height="3.68" fill="#d9d4e8" />
<rect x="188.55" y="480.53" width="3.78" height="3.68" fill="#f3f2f8" />
<rect x="192.27" y="480.53" width="3.78" height="3.68" fill="#ffd6cf" />
<rect x="196.00" y="480.53" width="3.78" height="3.68" fill="#f89586" />
<rect x="199.73" y="480.53" width="3.78" height="3.68" fill="#f99a8c" />
<rect x="203.45" y="480.53" width="3.78" height="3.68" fill="#e5e2f0" />
<rect x="207.18" y="480.53" width="3.78" height="3.68" fill="#fdafa3" />
<rect x="210.91" y="480.53" width="3.78" height="3.68" fill="#fff7f5" />
<rect x="214.64" y="480.53" width="3.78" height="3.68" fill="#ffece8" />
<rect x="218.36" y="480.53" width="3.78" height="3.68" fill="#dcd7ea" />
<rect x="222.09" y="480.53" width="3.78" height="3.68" fill="#aea3ce" />
<rect x="225.82" y="480.53" width="3.78" height="3.68" fill="#ffd7d0" />
<rect x="229.55" y="480.53" width="3.78" height="3.68" fill="#ffe6e1" />
<rect x="233.27" y="480.53" width="3.78" height="3.68" fill="#e2dded" />
<rect x="155.00" y="484.16" width="3.78" height="3.68" fill="#e9e6f2" />
<rect x="158.73" y="484.16" width="3.78" height="3.68" fill="#c5bcdc" />
<rect x="162.45" y="484.16" width="3.78" height="3.68" fill="#bfb6d8" />
<rect x="166.18" y="484.16" width="3.78" height="3.68" fill="#e5e1ef" />
<rect x="169.91" y="484.16" width="3.78" height="3.68" fill="#f0eef6" />
<rect x="173.64" y="484.16" width="3.78" height="3.68" fill="#faf9fc" />
<rect x="177.36" y="484.16" width="3.78" height="3.68" fill="#ffc1b7" />
<rect x="181.09" y="484.16" width="3.78" height="3.68" fill="#c8c0de" />
<rect x="184.82" y="484.16" width="3.78" height="3.68" fill="#ffe1db" />
<rect x="188.55" y="484.16" width="3.78" height="3.68" fill="#9f94c5" />
<rect x="192.27" y="484.16" width="3.78" height="3.68" fill="#ffddd7" />
<rect x="196.00" y="484.16" width="3.78" height="3.68" fill="#ffcbc2" />
<rect x="199.73" y="484.16" width="3.78" height="3.68" fill="#f79283" />
<rect x="203.45" y="484.16" width="3.78" height="3.68" fill="#ffe8e4" />
<rect x="207.18" y="484.16" width="3.78" height="3.68" fill="#ffd3cb" />
<rect x="210.91" y="484.16" width="3.78" height="3.68" fill="#ffe4df" />
<rect x="214.64" y="484.16" width="3.78" height="3.68" fill="#ffcdc5" />
<rect x="218.36" y="484.16" width="3.78" height="3.68" fill="#ffe6e2" />
<rect x="222.09" y="484.16" width="3.78" height="3.68" fill="#dbd6ea" />
<rect x="225.82" y="484.16" width="3.78" height="3.68" fill="#fff4f2" />
<rect x="229.55" y="484.16" width="3.78" height="3.68" fill="#ffd6cf" />
<rect x="233.27" y="484.16" width="3.78" height="3.68" fill="#ffe6e1" />
<rect x="155.00" y="487.79" width="3.78" height="3.68" fill="#ddd7ea" />
<rect x="158.73" y="487.79" width="3.78" height="3.68" fill="#dedaeb" />
<rect x="162.45" y="487.79" width="3.78" height="3.68" fill="#eae7f3" />
<rect x="166.18" y="487.79" width="3.78" height="3.68" fill="#b9b0d5" />
<rect x="169.91" y="487.79" width="3.78" height="3.68" fill="#c3badb" />
<rect x="173.64" y="487.79" width="3.78" height="3.68" fill="#c7bfdd" />
<rect x="177.36" y="487.79" width="3.78" height="3.68" fill="#e9e6f2" />
<rect x="181.09" y="487.79" width="3.78" height="3.68" fill="#f5f4f9" />
<rect x="184.82" y="487.79" width="3.78" height="3.68" fill="#eeebf5" />
<rect x="188.55" y="487.79" width="3.78" height="3.68" fill="#ccc4e0" />
<rect x="192.27" y="487.79" width="3.78" height="3.68" fill="#f79182" />
<rect x="196.00" y="487.79" width="3.78" height="3.68" fill="#ffcec5" />
<rect x="199.73" y="487.79" width="3.78" height="3.68" fill="#fcac9f" />
<rect x="203.45" y="487.79" width="3.78" height="3.68" fill="#ffe2dc" />
<rect x="207.18" y="487.79" width="3.78" height="3.68" fill="#ffc8bf" />
<rect x="210.91" y="487.79" width="3.78" height="3.68" fill="#efecf5" />
<rect x="214.64" y="487.79" width="3.78" height="3.68" fill="#dedaeb" />
<rect x="218.36" y="487.79" width="3.78" height="3.68" fill="#ffeae6" />
<rect x="222.09" y="487.79" width="3.78" height="3.68" fill="#efecf5" />
<rect x="225.82" y="487.79" width="3.78" height="3.68" fill="#ffc9c0" />
<rect x="229.55" y="487.79" width="3.78" height="3.68" fill="#ffedea" />
<rect x="233.27" y="487.79" width="3.78" height="3.68" fill="#ffc1b6" />
<rect x="155.00" y="491.42" width="3.78" height="3.68" fill="#f0eef6" />
<rect x="158.73" y="491.42" width="3.78" height="3.68" fill="#a296c7" />
<rect x="162.45" y="491.42" width="3.78" height="3.68" fill="#cac3df" />
<rect x="166.18" y="491.42" width="3.78" height="3.68" fill="#eae6f2" />
<rect x="169.91" y="491.42" width="3.78" height="3.68" fill="#38328b" />
<rect x="173.64" y="491.42" width="3.78" height="3.68" fill="#e2deee" />
<rect x="177.36" y="491.42" width="3.78" height="3.68" fill="#d3cce4" />
<rect x="181.09" y="491.42" width="3.78" height="3.68" fill="#e8e4f1" />
<rect x="184.82" y="491.42" width="3.78" height="3.68" fill="#e6e2f0" />
<rect x="188.55" y="491.42" width="3.78" height="3.68" fill="#ffe9e5" />
<rect x="192.27" y="491.42" width="3.78" height="3.68" fill="#ffe8e3" />
<rect x="196.00" y="491.42" width="3.78" height="3.68" fill="#e95e51" />
<rect x="199.73" y="491.42" width="3.78" height="3.68" fill="#f89485" />
<rect x="203.45" y="491.42" width="3.78" height="3.68" fill="#fff5f3" />
<rect x="207.18" y="491.42" width="3.78" height="3.68" fill="#ffc0b5" />
<rect x="210.91" y="491.42" width="3.78" height="3.68" fill="#ddd7ea" />
<rect x="214.64" y="491.42" width="3.78" height="3.68" fill="#fff2ef" />
<rect x="218.36" y="491.42" width="3.78" height="3.68" fill="#ffe4df" />
<rect x="222.09" y="491.42" width="3.78" height="3.68" fill="#ffded8" />
<rect x="225.82" y="491.42" width="3.78" height="3.68" fill="#ffddd7" />
<rect x="229.55" y="491.42" width="3.78" height="3.68" fill="#fffafa" />
<rect x="233.27" y="491.42" width="3.78" height="3.68" fill="#ffd8d1" />
<rect x="155.00" y="495.05" width="3.78" height="3.68" fill="#fff3f0" />
<rect x="158.73" y="495.05" width="3.78" height="3.68" fill="#9c90c3" />
<rect x="162.45" y="495.05" width="3.78" height="3.68" fill="#f1eff7" />
<rect x="166.18" y="495.05" width="3.78" height="3.68" fill="#ffd1c9" />
<rect x="169.91" y="495.05" width="3.78" height="3.68" fill="#ffc7bd" />
<rect x="173.64" y="495.05" width="3.78" height="3.68" fill="#ffeae6" />
<rect x="177.36" y="495.05" width="3.78" height="3.68" fill="#ffd9d2" />
<rect x="181.09" y="495.05" width="3.78" height="3.68" fill="#edebf4" />
<rect x="184.82" y="495.05" width="3.78" height="3.68" fill="#fdaea1" />
<rect x="188.55" y="495.05" width="3.78" height="3.68" fill="#a79cca" />
<rect x="192.27" y="495.05" width="3.78" height="3.68" fill="#b6add3" />
<rect x="196.00" y="495.05" width="3.78" height="3.68" fill="#fdb1a4" />
<rect x="199.73" y="495.05" width="3.78" height="3.68" fill="#c2b9da" />
<rect x="203.45" y="495.05" width="3.78" height="3.68" fill="#d4cee5" />
<rect x="207.18" y="495.05" width="3.78" height="3.68" fill="#dcd7ea" />
<rect x="210.91" y="495.05" width="3.78" height="3.68" fill="#b1a7d0" />
<rect x="214.64" y="495.05" width="3.78" height="3.68" fill="#d0c9e3" />
<rect x="218.36" y="495.05" width="3.78" height="3.68" fill="#e0dced" />
<rect x="222.09" y="495.05" width="3.78" height="3.68" fill="#b0a5cf" />
<rect x="225.82" y="495.05" width="3.78" height="3.68" fill="#d3cce4" />
<rect x="229.55" y="495.05" width="3.78" height="3.68" fill="#c1b8da" />
<rect x="233.27" y="495.05" width="3.78" height="3.68" fill="#d5cfe6" />
<rect x="155.00" y="498.68" width="3.78" height="3.68" fill="#f0eef6" />
<rect x="158.73" y="498.68" width="3.78" height="3.68" fill="#feb7ab" />
<rect x="162.45" y="498.68" width="3.78" height="3.68" fill="#fba497" />
<rect x="166.18" y="498.68" width="3.78" height="3.68" fill="#f3f1f8" />
<rect x="169.91" y="498.68" width="3.78" height="3.68" fill="#ffedea" />
<rect x="173.64" y="498.68" width="3.78" height="3.68" fill="#faa092" />
<rect x="177.36" y="498.68" width="3.78" height="3.68" fill="#e65549" />
<rect x="181.09" y="498.68" width="3.78" height="3.68" fill="#fdfcfe" />
<rect x="184.82" y="498.68" width="3.78" height="3.68" fill="#776aad" />
<rect x="188.55" y="498.68" width="3.78" height="3.68" fill="#ffeeeb" />
<rect x="192.27" y="498.68" width="3.78" height="3.68" fill="#f5f4f9" />
<rect x="196.00" y="498.68" width="3.78" height="3.68" fill="#e1dded" />
<rect x="199.73" y="498.68" width="3.78" height="3.68" fill="#ffe8e4" />
<rect x="203.45" y="498.68" width="3.78" height="3.68" fill="#f2f0f7" />
<rect x="207.18" y="498.68" width="3.78" height="3.68" fill="#ddd8eb" />
<rect x="210.91" y="498.68" width="3.78" height="3.68" fill="#ffeae6" />
<rect x="214.64" y="498.68" width="3.78" height="3.68" fill="#d1cae3" />
<rect x="218.36" y="498.68" width="3.78" height="3.68" fill="#f1eef6" />
<rect x="222.09" y="498.68" width="3.78" height="3.68" fill="#ece9f3" />
<rect x="225.82" y="498.68" width="3.78" height="3.68" fill="#ffe7e2" />
<rect x="229.55" y="498.68" width="3.78" height="3.68" fill="#ffeae5" />
<rect x="233.27" y="498.68" width="3.78" height="3.68" fill="#fff4f2" />
<rect x="155.00" y="502.31" width="3.78" height="3.68" fill="#ffd2cb" />
<rect x="158.73" y="502.31" width="3.78" height="3.68" fill="#f07666" />
<rect x="162.45" y="502.31" width="3.78" height="3.68" fill="#fdafa2" />
<rect x="166.18" y="502.31" width="3.78" height="3.68" fill="#ffd6cf" />
<rect x="169.91" y="502.31" width="3.78" height="3.68" fill="#ffece9" />
<rect x="173.64" y="502.31" width="3.78" height="3.68" fill="#fff0ed" />
<rect x="177.36" y="502.31" width="3.78" height="3.68" fill="#fba294" />
<rect x="181.09" y="502.31" width="3.78" height="3.68" fill="#f3f1f8" />
<rect x="184.82" y="502.31" width="3.78" height="3.68" fill="#ffede9" />
<rect x="188.55" y="502.31" width="3.78" height="3.68" fill="#fefefe" />
<rect x="192.27" y="502.31" width="3.78" height="3.68" fill="#fffaf9" />
<rect x="196.00" y="502.31" width="3.78" height="3.68" fill="#fff0ee" />
<rect x="199.73" y="502.31" width="3.78" height="3.68" fill="#a59ac9" />
<rect x="203.45" y="502.31" width="3.78" height="3.68" fill="#fffcfb" />
<rect x="207.18" y="502.31" width="3.78" height="3.68" fill="#bfb6d8" />
<rect x="210.91" y="502.31" width="3.78" height="3.68" fill="#fff7f6" />
<rect x="214.64" y="502.31" width="3.78" height="3.68" fill="#ffcec6" />
<rect x="218.36" y="502.31" width="3.78" height="3.68" fill="#f3f1f8" />
<rect x="222.09" y="502.31" width="3.78" height="3.68" fill="#e7e3f0" />
<rect x="225.82" y="502.31" width="3.78" height="3.68" fill="#f3f1f8" />
<rect x="229.55" y="502.31" width="3.78" height="3.68" fill="#c5bddc" />
<rect x="233.27" y="502.31" width="3.78" height="3.68" fill="#e8e5f1" />
<rect x="155.00" y="505.94" width="3.78" height="3.68" fill="#e85d50" />
<rect x="158.73" y="505.94" width="3.78" height="3.68" fill="#ef7465" />
<rect x="162.45" y="505.94" width="3.78" height="3.68" fill="#ffccc3" />
<rect x="166.18" y="505.94" width="3.78" height="3.68" fill="#fba395" />
<rect x="169.91" y="505.94" width="3.78" height="3.68" fill="#ffe5e0" />
<rect x="173.64" y="505.94" width="3.78" height="3.68" fill="#ffd2cb" />
<rect x="177.36" y="505.94" width="3.78" height="3.68" fill="#f68f80" />
<rect x="181.09" y="505.94" width="3.78" height="3.68" fill="#cfc8e2" />
<rect x="184.82" y="505.94" width="3.78" height="3.68" fill="#8b7eb9" />
<rect x="188.55" y="505.94" width="3.78" height="3.68" fill="#cfc8e2" />
<rect x="192.27" y="505.94" width="3.78" height="3.68" fill="#aba0cc" />
<rect x="196.00" y="505.94" width="3.78" height="3.68" fill="#f8f7fb" />
<rect x="199.73" y="505.94" width="3.78" height="3.68" fill="#f1eff7" />
<rect x="203.45" y="505.94" width="3.78" height="3.68" fill="#d2cbe4" />
<rect x="207.18" y="505.94" width="3.78" height="3.68" fill="#d4cee5" />
<rect x="210.91" y="505.94" width="3.78" height="3.68" fill="#bdb4d7" />
<rect x="214.64" y="505.94" width="3.78" height="3.68" fill="#fffcfb" />
<rect x="218.36" y="505.94" width="3.78" height="3.68" fill="#fff4f2" />
<rect x="222.09" y="505.94" width="3.78" height="3.68" fill="#bbb2d6" />
<rect x="225.82" y="505.94" width="3.78" height="3.68" fill="#ffe4df" />
<rect x="229.55" y="505.94" width="3.78" height="3.68" fill="#fff2ef" />
<rect x="233.27" y="505.94" width="3.78" height="3.68" fill="#d6d0e6" />
<rect x="155.00" y="509.57" width="3.78" height="3.68" fill="#fdb2a6" />
<rect x="158.73" y="509.57" width="3.78" height="3.68" fill="#ffe6e1" />
<rect x="162.45" y="509.57" width="3.78" height="3.68" fill="#ffece8" />
<rect x="166.18" y="509.57" width="3.78" height="3.68" fill="#b6acd3" />
<rect x="169.91" y="509.57" width="3.78" height="3.68" fill="#ffc4ba" />
<rect x="173.64" y="509.57" width="3.78" height="3.68" fill="#ffe3de" />
<rect x="177.36" y="509.57" width="3.78" height="3.68" fill="#ffe2dc" />
<rect x="181.09" y="509.57" width="3.78" height="3.68" fill="#ffbdb2" />
<rect x="184.82" y="509.57" width="3.78" height="3.68" fill="#ffefec" />
<rect x="188.55" y="509.57" width="3.78" height="3.68" fill="#e0dcec" />
<rect x="192.27" y="509.57" width="3.78" height="3.68" fill="#ccc4e0" />
<rect x="196.00" y="509.57" width="3.78" height="3.68" fill="#9589bf" />
<rect x="199.73" y="509.57" width="3.78" height="3.68" fill="#f6f5fa" />
<rect x="203.45" y="509.57" width="3.78" height="3.68" fill="#d1cbe3" />
<rect x="207.18" y="509.57" width="3.78" height="3.68" fill="#afa5cf" />
<rect x="210.91" y="509.57" width="3.78" height="3.68" fill="#ffe1db" />
<rect x="214.64" y="509.57" width="3.78" height="3.68" fill="#d6d0e6" />
<rect x="218.36" y="509.57" width="3.78" height="3.68" fill="#fff9f7" />
<rect x="222.09" y="509.57" width="3.78" height="3.68" fill="#dbd6ea" />
<rect x="225.82" y="509.57" width="3.78" height="3.68" fill="#ebe8f3" />
<rect x="229.55" y="509.57" width="3.78" height="3.68" fill="#e7e4f1" />
<rect x="233.27" y="509.57" width="3.78" height="3.68" fill="#d8d2e7" />
<rect x="155.00" y="513.21" width="3.78" height="3.68" fill="#ffddd7" />
<rect x="158.73" y="513.21" width="3.78" height="3.68" fill="#ccc5e0" />
<rect x="162.45" y="513.21" width="3.78" height="3.68" fill="#ece9f4" />
<rect x="166.18" y="513.21" width="3.78" height="3.68" fill="#fff3f0" />
<rect x="169.91" y="513.21" width="3.78" height="3.68" fill="#ffd2ca" />
<rect x="173.64" y="513.21" width="3.78" height="3.68" fill="#ffd9d3" />
<rect x="177.36" y="513.21" width="3.78" height="3.68" fill="#ffefec" />
<rect x="181.09" y="513.21" width="3.78" height="3.68" fill="#cec7e1" />
<rect x="184.82" y="513.21" width="3.78" height="3.68" fill="#a196c7" />
<rect x="188.55" y="513.21" width="3.78" height="3.68" fill="#cfc8e2" />
<rect x="192.27" y="513.21" width="3.78" height="3.68" fill="#978bc0" />
<rect x="196.00" y="513.21" width="3.78" height="3.68" fill="#afa4cf" />
<rect x="199.73" y="513.21" width="3.78" height="3.68" fill="#e3dfee" />
<rect x="203.45" y="513.21" width="3.78" height="3.68" fill="#c8c0de" />
<rect x="207.18" y="513.21" width="3.78" height="3.68" fill="#efecf5" />
<rect x="210.91" y="513.21" width="3.78" height="3.68" fill="#dfdbec" />
<rect x="214.64" y="513.21" width="3.78" height="3.68" fill="#ffe2dc" />
<rect x="218.36" y="513.21" width="3.78" height="3.68" fill="#c0b7d9" />
<rect x="222.09" y="513.21" width="3.78" height="3.68" fill="#aba0cc" />
<rect x="225.82" y="513.21" width="3.78" height="3.68" fill="#ffdfd9" />
<rect x="229.55" y="513.21" width="3.78" height="3.68" fill="#dfdaec" />
<rect x="233.27" y="513.21" width="3.78" height="3.68" fill="#ffece9" />
<rect x="155.00" y="516.84" width="3.78" height="3.68" fill="#fba496" />
<rect x="158.73" y="516.84" width="3.78" height="3.68" fill="#ffd0c8" />
<rect x="162.45" y="516.84" width="3.78" height="3.68" fill="#b1a6d0" />
<rect x="166.18" y="516.84" width="3.78" height="3.68" fill="#c9c1de" />
<rect x="169.91" y="516.84" width="3.78" height="3.68" fill="#ffcbc1" />
<rect x="173.64" y="516.84" width="3.78" height="3.68" fill="#fff5f3" />
<rect x="177.36" y="516.84" width="3.78" height="3.68" fill="#ffc5bb" />
<rect x="181.09" y="516.84" width="3.78" height="3.68" fill="#9689bf" />
<rect x="184.82" y="516.84" width="3.78" height="3.68" fill="#fffbfb" />
<rect x="188.55" y="516.84" width="3.78" height="3.68" fill="#f79384" />
<rect x="192.27" y="516.84" width="3.78" height="3.68" fill="#a398c8" />
<rect x="196.00" y="516.84" width="3.78" height="3.68" fill="#bcb3d7" />
<rect x="199.73" y="516.84" width="3.78" height="3.68" fill="#aea3ce" />
<rect x="203.45" y="516.84" width="3.78" height="3.68" fill="#fffbfa" />
<rect x="207.18" y="516.84" width="3.78" height="3.68" fill="#c3bbdb" />
<rect x="210.91" y="516.84" width="3.78" height="3.68" fill="#c4bcdb" />
<rect x="214.64" y="516.84" width="3.78" height="3.68" fill="#cec7e2" />
<rect x="218.36" y="516.84" width="3.78" height="3.68" fill="#edeaf4" />
<rect x="222.09" y="516.84" width="3.78" height="3.68" fill="#a094c6" />
<rect x="225.82" y="516.84" width="3.78" height="3.68" fill="#9e92c4" />
<rect x="229.55" y="516.84" width="3.78" height="3.68" fill="#edebf5" />
<rect x="233.27" y="516.84" width="3.78" height="3.68" fill="#d9d3e8" />
<rect x="155.00" y="520.47" width="3.78" height="3.68" fill="#faa193" />
<rect x="158.73" y="520.47" width="3.78" height="3.68" fill="#e55247" />
<rect x="162.45" y="520.47" width="3.78" height="3.68" fill="#fdb1a5" />
<rect x="166.18" y="520.47" width="3.78" height="3.68" fill="#c1b9da" />
<rect x="169.91" y="520.47" width="3.78" height="3.68" fill="#ffd8d1" />
<rect x="173.64" y="520.47" width="3.78" height="3.68" fill="#f5f4f9" />
<rect x="177.36" y="520.47" width="3.78" height="3.68" fill="#ffbfb5" />
<rect x="181.09" y="520.47" width="3.78" height="3.68" fill="#f58979" />
<rect x="184.82" y="520.47" width="3.78" height="3.68" fill="#ffd3cb" />
<rect x="188.55" y="520.47" width="3.78" height="3.68" fill="#ffede9" />
<rect x="192.27" y="520.47" width="3.78" height="3.68" fill="#e9e6f2" />
<rect x="196.00" y="520.47" width="3.78" height="3.68" fill="#a79cca" />
<rect x="199.73" y="520.47" width="3.78" height="3.68" fill="#d5cfe6" />
<rect x="203.45" y="520.47" width="3.78" height="3.68" fill="#f0edf6" />
<rect x="207.18" y="520.47" width="3.78" height="3.68" fill="#ffeae6" />
<rect x="210.91" y="520.47" width="3.78" height="3.68" fill="#d2cce4" />
<rect x="214.64" y="520.47" width="3.78" height="3.68" fill="#f0edf6" />
<rect x="218.36" y="520.47" width="3.78" height="3.68" fill="#f7f6fa" />
<rect x="222.09" y="520.47" width="3.78" height="3.68" fill="#8e81bb" />
<rect x="225.82" y="520.47" width="3.78" height="3.68" fill="#d8d2e8" />
<rect x="229.55" y="520.47" width="3.78" height="3.68" fill="#d1cbe3" />
<rect x="233.27" y="520.47" width="3.78" height="3.68" fill="#ffe3dd" />
<rect x="155.00" y="524.10" width="3.78" height="3.68" fill="#d7d2e7" />
<rect x="158.73" y="524.10" width="3.78" height="3.68" fill="#fff8f7" />
<rect x="162.45" y="524.10" width="3.78" height="3.68" fill="#ffd2c9" />
<rect x="166.18" y="524.10" width="3.78" height="3.68" fill="#ffbeb4" />
<rect x="169.91" y="524.10" width="3.78" height="3.68" fill="#ffcdc4" />
<rect x="173.64" y="524.10" width="3.78" height="3.68" fill="#ffebe7" />
<rect x="177.36" y="524.10" width="3.78" height="3.68" fill="#ec695a" />
<rect x="181.09" y="524.10" width="3.78" height="3.68" fill="#ffe2dd" />
<rect x="184.82" y="524.10" width="3.78" height="3.68" fill="#ffe9e4" />
<rect x="188.55" y="524.10" width="3.78" height="3.68" fill="#fffefe" />
<rect x="192.27" y="524.10" width="3.78" height="3.68" fill="#cbc3df" />
<rect x="196.00" y="524.10" width="3.78" height="3.68" fill="#ffe4de" />
<rect x="199.73" y="524.10" width="3.78" height="3.68" fill="#f2f0f7" />
<rect x="203.45" y="524.10" width="3.78" height="3.68" fill="#d7d1e7" />
<rect x="207.18" y="524.10" width="3.78" height="3.68" fill="#b0a6cf" />
<rect x="210.91" y="524.10" width="3.78" height="3.68" fill="#e4e0ef" />
<rect x="214.64" y="524.10" width="3.78" height="3.68" fill="#ffeeea" />
<rect x="218.36" y="524.10" width="3.78" height="3.68" fill="#edeaf4" />
<rect x="222.09" y="524.10" width="3.78" height="3.68" fill="#b5abd2" />
<rect x="225.82" y="524.10" width="3.78" height="3.68" fill="#dcd7ea" />
<rect x="229.55" y="524.10" width="3.78" height="3.68" fill="#f6f4f9" />
<rect x="233.27" y="524.10" width="3.78" height="3.68" fill="#fcfbfd" />
<rect x="155.00" y="527.73" width="3.78" height="3.68" fill="#cdc6e1" />
<rect x="158.73" y="527.73" width="3.78" height="3.68" fill="#fcab9e" />
<rect x="162.45" y="527.73" width="3.78" height="3.68" fill="#ffd3cb" />
<rect x="166.18" y="527.73" width="3.78" height="3.68" fill="#ffc2b7" />
<rect x="169.91" y="527.73" width="3.78" height="3.68" fill="#f27f70" />
<rect x="173.64" y="527.73" width="3.78" height="3.68" fill="#f7f6fa" />
<rect x="177.36" y="527.73" width="3.78" height="3.68" fill="#f68e7f" />
<rect x="181.09" y="527.73" width="3.78" height="3.68" fill="#f89687" />
<rect x="184.82" y="527.73" width="3.78" height="3.68" fill="#fa9e90" />
<rect x="188.55" y="527.73" width="3.78" height="3.68" fill="#ffd0c8" />
<rect x="192.27" y="527.73" width="3.78" height="3.68" fill="#efecf5" />
<rect x="196.00" y="527.73" width="3.78" height="3.68" fill="#ebe8f3" />
<rect x="199.73" y="527.73" width="3.78" height="3.68" fill="#b9b0d5" />
<rect x="203.45" y="527.73" width="3.78" height="3.68" fill="#c4bcdb" />
<rect x="207.18" y="527.73" width="3.78" height="3.68" fill="#ffece8" />
<rect x="210.91" y="527.73" width="3.78" height="3.68" fill="#e8e4f1" />
<rect x="214.64" y="527.73" width="3.78" height="3.68" fill="#d9d4e8" />
<rect x="218.36" y="527.73" width="3.78" height="3.68" fill="#b7aed4" />
<rect x="222.09" y="527.73" width="3.78" height="3.68" fill="#d5cee6" />
<rect x="225.82" y="527.73" width="3.78" height="3.68" fill="#fffafa" />
<rect x="229.55" y="527.73" width="3.78" height="3.68" fill="#e4dfef" />
<rect x="233.27" y="527.73" width="3.78" height="3.68" fill="#fdfdfe" />
<rect x="155.00" y="531.36" width="3.78" height="3.68" fill="#f89687" />
<rect x="158.73" y="531.36" width="3.78" height="3.68" fill="#f5897a" />
<rect x="162.45" y="531.36" width="3.78" height="3.68" fill="#fcab9e" />
<rect x="166.18" y="531.36" width="3.78" height="3.68" fill="#e2deee" />
<rect x="169.91" y="531.36" width="3.78" height="3.68" fill="#ec6a5b" />
<rect x="173.64" y="531.36" width="3.78" height="3.68" fill="#ffeeea" />
<rect x="177.36" y="531.36" width="3.78" height="3.68" fill="#e9e6f2" />
<rect x="181.09" y="531.36" width="3.78" height="3.68" fill="#dfdaec" />
<rect x="184.82" y="531.36" width="3.78" height="3.68" fill="#ffd8d1" />
<rect x="188.55" y="531.36" width="3.78" height="3.68" fill="#a69bc9" />
<rect x="192.27" y="531.36" width="3.78" height="3.68" fill="#d8d2e8" />
<rect x="196.00" y="531.36" width="3.78" height="3.68" fill="#fbfafc" />
<rect x="199.73" y="531.36" width="3.78" height="3.68" fill="#ece9f4" />
<rect x="203.45" y="531.36" width="3.78" height="3.68" fill="#d2cce4" />
<rect x="207.18" y="531.36" width="3.78" height="3.68" fill="#cdc6e1" />
<rect x="210.91" y="531.36" width="3.78" height="3.68" fill="#f7f5fa" />
<rect x="214.64" y="531.36" width="3.78" height="3.68" fill="#c5bddc" />
<rect x="218.36" y="531.36" width="3.78" height="3.68" fill="#c0b7d9" />
<rect x="222.09" y="531.36" width="3.78" height="3.68" fill="#e4e0ef" />
<rect x="225.82" y="531.36" width="3.78" height="3.68" fill="#ffdfda" />
<rect x="229.55" y="531.36" width="3.78" height="3.68" fill="#dcd7ea" />
<rect x="233.27" y="531.36" width="3.78" height="3.68" fill="#e2deee" />
<rect x="155.00" y="534.99" width="3.78" height="3.68" fill="#ffe3de" />
<rect x="158.73" y="534.99" width="3.78" height="3.68" fill="#feb9ae" />
<rect x="162.45" y="534.99" width="3.78" height="3.68" fill="#feb6aa" />
<rect x="166.18" y="534.99" width="3.78" height="3.68" fill="#fca89b" />
<rect x="169.91" y="534.99" width="3.78" height="3.68" fill="#f79081" />
<rect x="173.64" y="534.99" width="3.78" height="3.68" fill="#ee7262" />
<rect x="177.36" y="534.99" width="3.78" height="3.68" fill="#ddd8ea" />
<rect x="181.09" y="534.99" width="3.78" height="3.68" fill="#fffaf9" />
<rect x="184.82" y="534.99" width="3.78" height="3.68" fill="#e6e2f0" />
<rect x="188.55" y="534.99" width="3.78" height="3.68" fill="#fffefe" />
<rect x="192.27" y="534.99" width="3.78" height="3.68" fill="#ffd1c9" />
<rect x="196.00" y="534.99" width="3.78" height="3.68" fill="#ebe8f3" />
<rect x="199.73" y="534.99" width="3.78" height="3.68" fill="#f1eff7" />
<rect x="203.45" y="534.99" width="3.78" height="3.68" fill="#fffcfc" />
<rect x="207.18" y="534.99" width="3.78" height="3.68" fill="#ffe5e0" />
<rect x="210.91" y="534.99" width="3.78" height="3.68" fill="#fff9f8" />
<rect x="214.64" y="534.99" width="3.78" height="3.68" fill="#ffbdb2" />
<rect x="218.36" y="534.99" width="3.78" height="3.68" fill="#ffe5e0" />
<rect x="222.09" y="534.99" width="3.78" height="3.68" fill="#f2f0f7" />
<rect x="225.82" y="534.99" width="3.78" height="3.68" fill="#f8f7fb" />
<rect x="229.55" y="534.99" width="3.78" height="3.68" fill="#ffe6e2" />
<rect x="233.27" y="534.99" width="3.78" height="3.68" fill="#d6d0e6" />
<rect x="155.00" y="538.62" width="3.78" height="3.68" fill="#fcab9e" />
<rect x="158.73" y="538.62" width="3.78" height="3.68" fill="#ffbbb0" />
<rect x="162.45" y="538.62" width="3.78" height="3.68" fill="#ffc8bf" />
<rect x="166.18" y="538.62" width="3.78" height="3.68" fill="#fcaa9d" />
<rect x="169.91" y="538.62" width="3.78" height="3.68" fill="#ffc7bd" />
<rect x="173.64" y="538.62" width="3.78" height="3.68" fill="#f5897a" />
<rect x="177.36" y="538.62" width="3.78" height="3.68" fill="#ee6e5f" />
<rect x="181.09" y="538.62" width="3.78" height="3.68" fill="#f79283" />
<rect x="184.82" y="538.62" width="3.78" height="3.68" fill="#ffd4cd" />
<rect x="188.55" y="538.62" width="3.78" height="3.68" fill="#ffe3de" />
<rect x="192.27" y="538.62" width="3.78" height="3.68" fill="#ffd0c7" />
<rect x="196.00" y="538.62" width="3.78" height="3.68" fill="#ffece8" />
<rect x="199.73" y="538.62" width="3.78" height="3.68" fill="#fdfdfe" />
<rect x="203.45" y="538.62" width="3.78" height="3.68" fill="#faf9fc" />
<rect x="207.18" y="538.62" width="3.78" height="3.68" fill="#eeecf5" />
<rect x="210.91" y="538.62" width="3.78" height="3.68" fill="#e9e5f2" />
<rect x="214.64" y="538.62" width="3.78" height="3.68" fill="#ffbcb1" />
<rect x="218.36" y="538.62" width="3.78" height="3.68" fill="#e2deee" />
<rect x="222.09" y="538.62" width="3.78" height="3.68" fill="#cec7e2" />
<rect x="225.82" y="538.62" width="3.78" height="3.68" fill="#e8e4f1" />
<rect x="229.55" y="538.62" width="3.78" height="3.68" fill="#faf9fc" />
<rect x="233.27" y="538.62" width="3.78" height="3.68" fill="#e5e1ef" />
<rect x="155.00" y="542.25" width="3.78" height="3.68" fill="#faa193" />
<rect x="158.73" y="542.25" width="3.78" height="3.68" fill="#ffd9d2" />
<rect x="162.45" y="542.25" width="3.78" height="3.68" fill="#b1a6d0" />
<rect x="166.18" y="542.25" width="3.78" height="3.68" fill="#d0c9e3" />
<rect x="169.91" y="542.25" width="3.78" height="3.68" fill="#d3cde5" />
<rect x="173.64" y="542.25" width="3.78" height="3.68" fill="#ffbcb1" />
<rect x="177.36" y="542.25" width="3.78" height="3.68" fill="#fcab9e" />
<rect x="181.09" y="542.25" width="3.78" height="3.68" fill="#f9998a" />
<rect x="184.82" y="542.25" width="3.78" height="3.68" fill="#ffd9d3" />
<rect x="188.55" y="542.25" width="3.78" height="3.68" fill="#ffefec" />
<rect x="192.27" y="542.25" width="3.78" height="3.68" fill="#c3badb" />
<rect x="196.00" y="542.25" width="3.78" height="3.68" fill="#c4bcdb" />
<rect x="199.73" y="542.25" width="3.78" height="3.68" fill="#ffdad3" />
<rect x="203.45" y="542.25" width="3.78" height="3.68" fill="#fdfdfe" />
<rect x="207.18" y="542.25" width="3.78" height="3.68" fill="#ebe8f3" />
<rect x="210.91" y="542.25" width="3.78" height="3.68" fill="#e5e1ef" />
<rect x="214.64" y="542.25" width="3.78" height="3.68" fill="#fcfbfd" />
<rect x="218.36" y="542.25" width="3.78" height="3.68" fill="#e8e4f1" />
<rect x="222.09" y="542.25" width="3.78" height="3.68" fill="#e8e4f1" />
<rect x="225.82" y="542.25" width="3.78" height="3.68" fill="#dad4e9" />
<rect x="229.55" y="542.25" width="3.78" height="3.68" fill="#ebe7f3" />
<rect x="233.27" y="542.25" width="3.78" height="3.68" fill="#f4f2f8" />
<rect x="155.00" y="545.88" width="3.78" height="3.68" fill="#feb4a8" />
<rect x="158.73" y="545.88" width="3.78" height="3.68" fill="#ffe5e0" />
<rect x="162.45" y="545.88" width="3.78" height="3.68" fill="#ffd0c7" />
<rect x="166.18" y="545.88" width="3.78" height="3.68" fill="#d4cee5" />
<rect x="169.91" y="545.88" width="3.78" height="3.68" fill="#fba496" />
<rect x="173.64" y="545.88" width="3.78" height="3.68" fill="#e95e50" />
<rect x="177.36" y="545.88" width="3.78" height="3.68" fill="#f9998a" />
<rect x="181.09" y="545.88" width="3.78" height="3.68" fill="#ece9f3" />
<rect x="184.82" y="545.88" width="3.78" height="3.68" fill="#eae7f3" />
<rect x="188.55" y="545.88" width="3.78" height="3.68" fill="#ffcfc6" />
<rect x="192.27" y="545.88" width="3.78" height="3.68" fill="#fffbfa" />
<rect x="196.00" y="545.88" width="3.78" height="3.68" fill="#bbb1d6" />
<rect x="199.73" y="545.88" width="3.78" height="3.68" fill="#b0a5cf" />
<rect x="203.45" y="545.88" width="3.78" height="3.68" fill="#e0dced" />
<rect x="207.18" y="545.88" width="3.78" height="3.68" fill="#ffe4df" />
<rect x="210.91" y="545.88" width="3.78" height="3.68" fill="#f9f8fb" />
<rect x="214.64" y="545.88" width="3.78" height="3.68" fill="#eeecf5" />
<rect x="218.36" y="545.88" width="3.78" height="3.68" fill="#e8e5f1" />
<rect x="222.09" y="545.88" width="3.78" height="3.68" fill="#d5cfe6" />
<rect x="225.82" y="545.88" width="3.78" height="3.68" fill="#f6f5fa" />
<rect x="229.55" y="545.88" width="3.78" height="3.68" fill="#d3cde5" />
<rect x="233.27" y="545.88" width="3.78" height="3.68" fill="#fff4f1" />
<rect x="155.00" y="549.51" width="3.78" height="3.68" fill="#ef7465" />
<rect x="158.73" y="549.51" width="3.78" height="3.68" fill="#ffdcd6" />
<rect x="162.45" y="549.51" width="3.78" height="3.68" fill="#ffd0c7" />
<rect x="166.18" y="549.51" width="3.78" height="3.68" fill="#ffcac0" />
<rect x="169.91" y="549.51" width="3.78" height="3.68" fill="#ffd3cc" />
<rect x="173.64" y="549.51" width="3.78" height="3.68" fill="#ffd8d0" />
<rect x="177.36" y="549.51" width="3.78" height="3.68" fill="#fff3f0" />
<rect x="181.09" y="549.51" width="3.78" height="3.68" fill="#fdafa3" />
<rect x="184.82" y="549.51" width="3.78" height="3.68" fill="#faa193" />
<rect x="188.55" y="549.51" width="3.78" height="3.68" fill="#8376b5" />
<rect x="192.27" y="549.51" width="3.78" height="3.68" fill="#d9d4e8" />
<rect x="196.00" y="549.51" width="3.78" height="3.68" fill="#ccc5e0" />
<rect x="199.73" y="549.51" width="3.78" height="3.68" fill="#a095c6" />
<rect x="203.45" y="549.51" width="3.78" height="3.68" fill="#b9afd5" />
<rect x="207.18" y="549.51" width="3.78" height="3.68" fill="#f8f7fb" />
<rect x="210.91" y="549.51" width="3.78" height="3.68" fill="#dbd6e9" />
<rect x="214.64" y="549.51" width="3.78" height="3.68" fill="#e3dfee" />
<rect x="218.36" y="549.51" width="3.78" height="3.68" fill="#d2cbe4" />
<rect x="222.09" y="549.51" width="3.78" height="3.68" fill="#a69bc9" />
<rect x="225.82" y="549.51" width="3.78" height="3.68" fill="#dcd6ea" />
<rect x="229.55" y="549.51" width="3.78" height="3.68" fill="#c5bddc" />
<rect x="233.27" y="549.51" width="3.78" height="3.68" fill="#eae7f2" />
<rect x="155.00" y="553.15" width="3.78" height="3.68" fill="#eeecf5" />
<rect x="158.73" y="553.15" width="3.78" height="3.68" fill="#fa9d8f" />
<rect x="162.45" y="553.15" width="3.78" height="3.68" fill="#fa9d8f" />
<rect x="166.18" y="553.15" width="3.78" height="3.68" fill="#f6f5fa" />
<rect x="169.91" y="553.15" width="3.78" height="3.68" fill="#ffe4df" />
<rect x="173.64" y="553.15" width="3.78" height="3.68" fill="#f9998b" />
<rect x="177.36" y="553.15" width="3.78" height="3.68" fill="#f17a6b" />
<rect x="181.09" y="553.15" width="3.78" height="3.68" fill="#ffd7cf" />
<rect x="184.82" y="553.15" width="3.78" height="3.68" fill="#ffffff" />
<rect x="188.55" y="553.15" width="3.78" height="3.68" fill="#a69bca" />
<rect x="192.27" y="553.15" width="3.78" height="3.68" fill="#f7f6fa" />
<rect x="196.00" y="553.15" width="3.78" height="3.68" fill="#faf9fc" />
<rect x="199.73" y="553.15" width="3.78" height="3.68" fill="#d6cfe6" />
<rect x="203.45" y="553.15" width="3.78" height="3.68" fill="#fffcfc" />
<rect x="207.18" y="553.15" width="3.78" height="3.68" fill="#e8e4f1" />
<rect x="210.91" y="553.15" width="3.78" height="3.68" fill="#fff7f6" />
<rect x="214.64" y="553.15" width="3.78" height="3.68" fill="#fffcfb" />
<rect x="218.36" y="553.15" width="3.78" height="3.68" fill="#f0eef6" />
<rect x="222.09" y="553.15" width="3.78" height="3.68" fill="#c6bedd" />
<rect x="225.82" y="553.15" width="3.78" height="3.68" fill="#d5cfe6" />
<rect x="229.55" y="553.15" width="3.78" height="3.68" fill="#a59ac9" />
<rect x="233.27" y="553.15" width="3.78" height="3.68" fill="#fffaf9" />
<rect x="155.00" y="556.78" width="3.78" height="3.68" fill="#fff5f3" />
<rect x="158.73" y="556.78" width="3.78" height="3.68" fill="#f48576" />
<rect x="162.45" y="556.78" width="3.78" height="3.68" fill="#feb9ad" />
<rect x="166.18" y="556.78" width="3.78" height="3.68" fill="#fff4f2" />
<rect x="169.91" y="556.78" width="3.78" height="3.68" fill="#e3deee" />
<rect x="173.64" y="556.78" width="3.78" height="3.68" fill="#ffcdc4" />
<rect x="177.36" y="556.78" width="3.78" height="3.68" fill="#e8e4f1" />
<rect x="181.09" y="556.78" width="3.78" height="3.68" fill="#d6d0e6" />
<rect x="184.82" y="556.78" width="3.78" height="3.68" fill="#e7e4f1" />
<rect x="188.55" y="556.78" width="3.78" height="3.68" fill="#ffc9c0" />
<rect x="192.27" y="556.78" width="3.78" height="3.68" fill="#a59ac9" />
<rect x="196.00" y="556.78" width="3.78" height="3.68" fill="#fff8f6" />
<rect x="199.73" y="556.78" width="3.78" height="3.68" fill="#c4bcdb" />
<rect x="203.45" y="556.78" width="3.78" height="3.68" fill="#cac3df" />
<rect x="207.18" y="556.78" width="3.78" height="3.68" fill="#cdc6e1" />
<rect x="210.91" y="556.78" width="3.78" height="3.68" fill="#ded9eb" />
<rect x="214.64" y="556.78" width="3.78" height="3.68" fill="#fafafc" />
<rect x="218.36" y="556.78" width="3.78" height="3.68" fill="#f1eff7" />
<rect x="222.09" y="556.78" width="3.78" height="3.68" fill="#bbb2d6" />
<rect x="225.82" y="556.78" width="3.78" height="3.68" fill="#dbd5e9" />
<rect x="229.55" y="556.78" width="3.78" height="3.68" fill="#dad4e9" />
<rect x="233.27" y="556.78" width="3.78" height="3.68" fill="#ded9eb" />
<rect x="155.00" y="560.41" width="3.78" height="3.68" fill="#febaaf" />
<rect x="158.73" y="560.41" width="3.78" height="3.68" fill="#ffcfc6" />
<rect x="162.45" y="560.41" width="3.78" height="3.68" fill="#fff8f7" />
<rect x="166.18" y="560.41" width="3.78" height="3.68" fill="#d1cbe4" />
<rect x="169.91" y="560.41" width="3.78" height="3.68" fill="#fdb2a6" />
<rect x="173.64" y="560.41" width="3.78" height="3.68" fill="#ffc7bd" />
<rect x="177.36" y="560.41" width="3.78" height="3.68" fill="#fcac9f" />
<rect x="181.09" y="560.41" width="3.78" height="3.68" fill="#f9988a" />
<rect x="184.82" y="560.41" width="3.78" height="3.68" fill="#ffe5e0" />
<rect x="188.55" y="560.41" width="3.78" height="3.68" fill="#ffd6ce" />
<rect x="192.27" y="560.41" width="3.78" height="3.68" fill="#d9d3e8" />
<rect x="196.00" y="560.41" width="3.78" height="3.68" fill="#d2cbe4" />
<rect x="199.73" y="560.41" width="3.78" height="3.68" fill="#f7f6fa" />
<rect x="203.45" y="560.41" width="3.78" height="3.68" fill="#e7e4f1" />
<rect x="207.18" y="560.41" width="3.78" height="3.68" fill="#dfdaec" />
<rect x="210.91" y="560.41" width="3.78" height="3.68" fill="#d3cde5" />
<rect x="214.64" y="560.41" width="3.78" height="3.68" fill="#e5e2f0" />
<rect x="218.36" y="560.41" width="3.78" height="3.68" fill="#eae7f3" />
<rect x="222.09" y="560.41" width="3.78" height="3.68" fill="#dcd7ea" />
<rect x="225.82" y="560.41" width="3.78" height="3.68" fill="#9a8ec2" />
<rect x="229.55" y="560.41" width="3.78" height="3.68" fill="#d4cee5" />
<rect x="233.27" y="560.41" width="3.78" height="3.68" fill="#d0cae3" />
<rect x="155.00" y="564.04" width="3.78" height="3.68" fill="#ffdad3" />
<rect x="158.73" y="564.04" width="3.78" height="3.68" fill="#cdc6e1" />
<rect x="162.45" y="564.04" width="3.78" height="3.68" fill="#f6f4f9" />
<rect x="166.18" y="564.04" width="3.78" height="3.68" fill="#bdb4d7" />
<rect x="169.91" y="564.04" width="3.78" height="3.68" fill="#feb7ab" />
<rect x="173.64" y="564.04" width="3.78" height="3.68" fill="#fcada0" />
<rect x="177.36" y="564.04" width="3.78" height="3.68" fill="#ffece9" />
<rect x="181.09" y="564.04" width="3.78" height="3.68" fill="#eae7f3" />
<rect x="184.82" y="564.04" width="3.78" height="3.68" fill="#feb6aa" />
<rect x="188.55" y="564.04" width="3.78" height="3.68" fill="#faf9fc" />
<rect x="192.27" y="564.04" width="3.78" height="3.68" fill="#c3badb" />
<rect x="196.00" y="564.04" width="3.78" height="3.68" fill="#ccc5e0" />
<rect x="199.73" y="564.04" width="3.78" height="3.68" fill="#ffd8d2" />
<rect x="203.45" y="564.04" width="3.78" height="3.68" fill="#aea3ce" />
<rect x="207.18" y="564.04" width="3.78" height="3.68" fill="#cbc3e0" />
<rect x="210.91" y="564.04" width="3.78" height="3.68" fill="#f7f6fa" />
<rect x="214.64" y="564.04" width="3.78" height="3.68" fill="#dfdaec" />
<rect x="218.36" y="564.04" width="3.78" height="3.68" fill="#f8f7fb" />
<rect x="222.09" y="564.04" width="3.78" height="3.68" fill="#c3badb" />
<rect x="225.82" y="564.04" width="3.78" height="3.68" fill="#a69bc9" />
<rect x="229.55" y="564.04" width="3.78" height="3.68" fill="#e2deee" />
<rect x="233.27" y="564.04" width="3.78" height="3.68" fill="#fefeff" />
<rect x="155.00" y="567.67" width="3.78" height="3.68" fill="#ffe0db" />
<rect x="158.73" y="567.67" width="3.78" height="3.68" fill="#feb4a8" />
<rect x="162.45" y="567.67" width="3.78" height="3.68" fill="#ffccc3" />
<rect x="166.18" y="567.67" width="3.78" height="3.68" fill="#ffc0b5" />
<rect x="169.91" y="567.67" width="3.78" height="3.68" fill="#fdb1a5" />
<rect x="173.64" y="567.67" width="3.78" height="3.68" fill="#f68f80" />
<rect x="177.36" y="567.67" width="3.78" height="3.68" fill="#ffe4df" />
<rect x="181.09" y="567.67" width="3.78" height="3.68" fill="#ffeeea" />
<rect x="184.82" y="567.67" width="3.78" height="3.68" fill="#ffbcb1" />
<rect x="188.55" y="567.67" width="3.78" height="3.68" fill="#fba294" />
<rect x="192.27" y="567.67" width="3.78" height="3.68" fill="#fafafc" />
<rect x="196.00" y="567.67" width="3.78" height="3.68" fill="#f6f5fa" />
<rect x="199.73" y="567.67" width="3.78" height="3.68" fill="#fff9f7" />
<rect x="203.45" y="567.67" width="3.78" height="3.68" fill="#efedf5" />
<rect x="207.18" y="567.67" width="3.78" height="3.68" fill="#eae7f2" />
<rect x="210.91" y="567.67" width="3.78" height="3.68" fill="#e9e5f2" />
<rect x="214.64" y="567.67" width="3.78" height="3.68" fill="#fffaf9" />
<rect x="218.36" y="567.67" width="3.78" height="3.68" fill="#fff5f3" />
<rect x="222.09" y="567.67" width="3.78" height="3.68" fill="#e4e0ef" />
<rect x="225.82" y="567.67" width="3.78" height="3.68" fill="#d9d3e8" />
<rect x="229.55" y="567.67" width="3.78" height="3.68" fill="#e7e3f1" />
<rect x="233.27" y="567.67" width="3.78" height="3.68" fill="#e1dded" />
<rect x="155.00" y="571.30" width="3.78" height="3.68" fill="#ffefec" />
<rect x="158.73" y="571.30" width="3.78" height="3.68" fill="#ffc4ba" />
<rect x="162.45" y="571.30" width="3.78" height="3.68" fill="#f27f6f" />
<rect x="166.18" y="571.30" width="3.78" height="3.68" fill="#bfb7d9" />
<rect x="169.91" y="571.30" width="3.78" height="3.68" fill="#d2cbe4" />
<rect x="173.64" y="571.30" width="3.78" height="3.68" fill="#fdaea1" />
<rect x="177.36" y="571.30" width="3.78" height="3.68" fill="#fcfcfd" />
<rect x="181.09" y="571.30" width="3.78" height="3.68" fill="#fff4f2" />
<rect x="184.82" y="571.30" width="3.78" height="3.68" fill="#e7e4f1" />
<rect x="188.55" y="571.30" width="3.78" height="3.68" fill="#c6bedc" />
<rect x="192.27" y="571.30" width="3.78" height="3.68" fill="#efedf5" />
<rect x="196.00" y="571.30" width="3.78" height="3.68" fill="#f0edf6" />
<rect x="199.73" y="571.30" width="3.78" height="3.68" fill="#fff8f6" />
<rect x="203.45" y="571.30" width="3.78" height="3.68" fill="#e2deee" />
<rect x="207.18" y="571.30" width="3.78" height="3.68" fill="#cbc4e0" />
<rect x="210.91" y="571.30" width="3.78" height="3.68" fill="#d8d2e7" />
<rect x="214.64" y="571.30" width="3.78" height="3.68" fill="#ffddd7" />
<rect x="218.36" y="571.30" width="3.78" height="3.68" fill="#b3a9d1" />
<rect x="222.09" y="571.30" width="3.78" height="3.68" fill="#ffe9e5" />
<rect x="225.82" y="571.30" width="3.78" height="3.68" fill="#fffdfd" />
<rect x="229.55" y="571.30" width="3.78" height="3.68" fill="#e9e5f2" />
<rect x="233.27" y="571.30" width="3.78" height="3.68" fill="#bbb1d6" />
<rect x="155.00" y="574.93" width="3.78" height="3.68" fill="#ffdfda" />
<rect x="158.73" y="574.93" width="3.78" height="3.68" fill="#ffded8" />
<rect x="162.45" y="574.93" width="3.78" height="3.68" fill="#faa092" />
<rect x="166.18" y="574.93" width="3.78" height="3.68" fill="#ffded7" />
<rect x="169.91" y="574.93" width="3.78" height="3.68" fill="#dd3833" />
<rect x="173.64" y="574.93" width="3.78" height="3.68" fill="#e75a4d" />
<rect x="177.36" y="574.93" width="3.78" height="3.68" fill="#ffd9d3" />
<rect x="181.09" y="574.93" width="3.78" height="3.68" fill="#fcac9f" />
<rect x="184.82" y="574.93" width="3.78" height="3.68" fill="#786bae" />
<rect x="188.55" y="574.93" width="3.78" height="3.68" fill="#ffc9c0" />
<rect x="192.27" y="574.93" width="3.78" height="3.68" fill="#9f93c5" />
<rect x="196.00" y="574.93" width="3.78" height="3.68" fill="#ece9f4" />
<rect x="199.73" y="574.93" width="3.78" height="3.68" fill="#faf9fc" />
<rect x="203.45" y="574.93" width="3.78" height="3.68" fill="#d3cde5" />
<rect x="207.18" y="574.93" width="3.78" height="3.68" fill="#e0dbec" />
<rect x="210.91" y="574.93" width="3.78" height="3.68" fill="#beb5d8" />
<rect x="214.64" y="574.93" width="3.78" height="3.68" fill="#c4bcdc" />
<rect x="218.36" y="574.93" width="3.78" height="3.68" fill="#bab1d5" />
<rect x="222.09" y="574.93" width="3.78" height="3.68" fill="#e3deee" />
<rect x="225.82" y="574.93" width="3.78" height="3.68" fill="#c4bbdb" />
<rect x="229.55" y="574.93" width="3.78" height="3.68" fill="#b1a7d0" />
<rect x="233.27" y="574.93" width="3.78" height="3.68" fill="#e4e0ef" />
<rect x="155.00" y="578.56" width="3.78" height="3.68" fill="#ffd9d2" />
<rect x="158.73" y="578.56" width="3.78" height="3.68" fill="#ffc5bc" />
<rect x="162.45" y="578.56" width="3.78" height="3.68" fill="#d61824" />
<rect x="166.18" y="578.56" width="3.78" height="3.68" fill="#f1eff7" />
<rect x="169.91" y="578.56" width="3.78" height="3.68" fill="#ffebe7" />
<rect x="173.64" y="578.56" width="3.78" height="3.68" fill="#f89788" />
<rect x="177.36" y="578.56" width="3.78" height="3.68" fill="#fcab9e" />
<rect x="181.09" y="578.56" width="3.78" height="3.68" fill="#ece9f4" />
<rect x="184.82" y="578.56" width="3.78" height="3.68" fill="#fa9d8f" />
<rect x="188.55" y="578.56" width="3.78" height="3.68" fill="#ffeae6" />
<rect x="192.27" y="578.56" width="3.78" height="3.68" fill="#efedf6" />
<rect x="196.00" y="578.56" width="3.78" height="3.68" fill="#ded9eb" />
<rect x="199.73" y="578.56" width="3.78" height="3.68" fill="#f7f6fa" />
<rect x="203.45" y="578.56" width="3.78" height="3.68" fill="#bbb2d6" />
<rect x="207.18" y="578.56" width="3.78" height="3.68" fill="#d2cbe4" />
<rect x="210.91" y="578.56" width="3.78" height="3.68" fill="#fffcfb" />
<rect x="214.64" y="578.56" width="3.78" height="3.68" fill="#ffedea" />
<rect x="218.36" y="578.56" width="3.78" height="3.68" fill="#a59ac9" />
<rect x="222.09" y="578.56" width="3.78" height="3.68" fill="#f5f4f9" />
<rect x="225.82" y="578.56" width="3.78" height="3.68" fill="#dad5e9" />
<rect x="229.55" y="578.56" width="3.78" height="3.68" fill="#eeebf5" />
<rect x="233.27" y="578.56" width="3.78" height="3.68" fill="#dad4e9" />
<rect x="155.00" y="582.19" width="3.78" height="3.68" fill="#efedf5" />
<rect x="158.73" y="582.19" width="3.78" height="3.68" fill="#ef7263" />
<rect x="162.45" y="582.19" width="3.78" height="3.68" fill="#ded9eb" />
<rect x="166.18" y="582.19" width="3.78" height="3.68" fill="#ffece9" />
<rect x="169.91" y="582.19" width="3.78" height="3.68" fill="#f99a8b" />
<rect x="173.64" y="582.19" width="3.78" height="3.68" fill="#f9f8fc" />
<rect x="177.36" y="582.19" width="3.78" height="3.68" fill="#fff8f7" />
<rect x="181.09" y="582.19" width="3.78" height="3.68" fill="#ffe5e0" />
<rect x="184.82" y="582.19" width="3.78" height="3.68" fill="#dbd6ea" />
<rect x="188.55" y="582.19" width="3.78" height="3.68" fill="#feb8ad" />
<rect x="192.27" y="582.19" width="3.78" height="3.68" fill="#fdfcfe" />
<rect x="196.00" y="582.19" width="3.78" height="3.68" fill="#bbb2d6" />
<rect x="199.73" y="582.19" width="3.78" height="3.68" fill="#edeaf4" />
<rect x="203.45" y="582.19" width="3.78" height="3.68" fill="#e1dded" />
<rect x="207.18" y="582.19" width="3.78" height="3.68" fill="#fff1ee" />
<rect x="210.91" y="582.19" width="3.78" height="3.68" fill="#fff8f7" />
<rect x="214.64" y="582.19" width="3.78" height="3.68" fill="#fff9f7" />
<rect x="218.36" y="582.19" width="3.78" height="3.68" fill="#ffe1db" />
<rect x="222.09" y="582.19" width="3.78" height="3.68" fill="#f1eef6" />
<rect x="225.82" y="582.19" width="3.78" height="3.68" fill="#d2cce4" />
<rect x="229.55" y="582.19" width="3.78" height="3.68" fill="#ffede9" />
<rect x="233.27" y="582.19" width="3.78" height="3.68" fill="#ffe3de" />
<rect x="155.00" y="585.83" width="3.78" height="3.68" fill="#fff9f7" />
<rect x="158.73" y="585.83" width="3.78" height="3.68" fill="#ffc5bb" />
<rect x="162.45" y="585.83" width="3.78" height="3.68" fill="#ffc2b8" />
<rect x="166.18" y="585.83" width="3.78" height="3.68" fill="#bbb2d6" />
<rect x="169.91" y="585.83" width="3.78" height="3.68" fill="#ffded8" />
<rect x="173.64" y="585.83" width="3.78" height="3.68" fill="#ffe5e0" />
<rect x="177.36" y="585.83" width="3.78" height="3.68" fill="#ded9eb" />
<rect x="181.09" y="585.83" width="3.78" height="3.68" fill="#ffece8" />
<rect x="184.82" y="585.83" width="3.78" height="3.68" fill="#ffeeeb" />
<rect x="188.55" y="585.83" width="3.78" height="3.68" fill="#cac2df" />
<rect x="192.27" y="585.83" width="3.78" height="3.68" fill="#ffe7e3" />
<rect x="196.00" y="585.83" width="3.78" height="3.68" fill="#ffffff" />
<rect x="199.73" y="585.83" width="3.78" height="3.68" fill="#fff0ed" />
<rect x="203.45" y="585.83" width="3.78" height="3.68" fill="#ffe5e0" />
<rect x="207.18" y="585.83" width="3.78" height="3.68" fill="#beb5d8" />
<rect x="210.91" y="585.83" width="3.78" height="3.68" fill="#f3f1f8" />
<rect x="214.64" y="585.83" width="3.78" height="3.68" fill="#ffe8e4" />
<rect x="218.36" y="585.83" width="3.78" height="3.68" fill="#f0eef6" />
<rect x="222.09" y="585.83" width="3.78" height="3.68" fill="#f1eff7" />
<rect x="225.82" y="585.83" width="3.78" height="3.68" fill="#d2cbe4" />
<rect x="229.55" y="585.83" width="3.78" height="3.68" fill="#f0eef6" />
<rect x="233.27" y="585.83" width="3.78" height="3.68" fill="#e7e3f1" />
<rect x="155.00" y="589.46" width="3.78" height="3.68" fill="#febaaf" />
<rect x="158.73" y="589.46" width="3.78" height="3.68" fill="#ed6c5d" />
<rect x="162.45" y="589.46" width="3.78" height="3.68" fill="#f89889" />
<rect x="166.18" y="589.46" width="3.78" height="3.68" fill="#f7f5fa" />
<rect x="169.91" y="589.46" width="3.78" height="3.68" fill="#feb3a7" />
<rect x="173.64" y="589.46" width="3.78" height="3.68" fill="#ffcbc2" />
<rect x="177.36" y="589.46" width="3.78" height="3.68" fill="#f68d7e" />
<rect x="181.09" y="589.46" width="3.78" height="3.68" fill="#b9b0d5" />
<rect x="184.82" y="589.46" width="3.78" height="3.68" fill="#c7bfdd" />
<rect x="188.55" y="589.46" width="3.78" height="3.68" fill="#ffd7cf" />
<rect x="192.27" y="589.46" width="3.78" height="3.68" fill="#e2deee" />
<rect x="196.00" y="589.46" width="3.78" height="3.68" fill="#dad5e9" />
<rect x="199.73" y="589.46" width="3.78" height="3.68" fill="#d9d4e8" />
<rect x="203.45" y="589.46" width="3.78" height="3.68" fill="#f5f4f9" />
<rect x="207.18" y="589.46" width="3.78" height="3.68" fill="#f7f6fa" />
<rect x="210.91" y="589.46" width="3.78" height="3.68" fill="#d8d2e7" />
<rect x="214.64" y="589.46" width="3.78" height="3.68" fill="#c5bddc" />
<rect x="218.36" y="589.46" width="3.78" height="3.68" fill="#f3f1f8" />
<rect x="222.09" y="589.46" width="3.78" height="3.68" fill="#ffdad3" />
<rect x="225.82" y="589.46" width="3.78" height="3.68" fill="#ffd2ca" />
<rect x="229.55" y="589.46" width="3.78" height="3.68" fill="#ffdbd4" />
<rect x="233.27" y="589.46" width="3.78" height="3.68" fill="#c0b7d9" />
<rect x="155.00" y="593.09" width="3.78" height="3.68" fill="#fffbfa" />
<rect x="158.73" y="593.09" width="3.78" height="3.68" fill="#ffd2ca" />
<rect x="162.45" y="593.09" width="3.78" height="3.68" fill="#f6f5fa" />
<rect x="166.18" y="593.09" width="3.78" height="3.68" fill="#fba496" />
<rect x="169.91" y="593.09" width="3.78" height="3.68" fill="#ffc2b8" />
<rect x="173.64" y="593.09" width="3.78" height="3.68" fill="#f79384" />
<rect x="177.36" y="593.09" width="3.78" height="3.68" fill="#ec695a" />
<rect x="181.09" y="593.09" width="3.78" height="3.68" fill="#eae7f3" />
<rect x="184.82" y="593.09" width="3.78" height="3.68" fill="#f3f1f8" />
<rect x="188.55" y="593.09" width="3.78" height="3.68" fill="#fffbfa" />
<rect x="192.27" y="593.09" width="3.78" height="3.68" fill="#f1eff7" />
<rect x="196.00" y="593.09" width="3.78" height="3.68" fill="#e3dfee" />
<rect x="199.73" y="593.09" width="3.78" height="3.68" fill="#afa5cf" />
<rect x="203.45" y="593.09" width="3.78" height="3.68" fill="#f3f1f8" />
<rect x="207.18" y="593.09" width="3.78" height="3.68" fill="#d3cde4" />
<rect x="210.91" y="593.09" width="3.78" height="3.68" fill="#beb5d8" />
<rect x="214.64" y="593.09" width="3.78" height="3.68" fill="#f0edf6" />
<rect x="218.36" y="593.09" width="3.78" height="3.68" fill="#ded9eb" />
<rect x="222.09" y="593.09" width="3.78" height="3.68" fill="#efedf6" />
<rect x="225.82" y="593.09" width="3.78" height="3.68" fill="#c1b8da" />
<rect x="229.55" y="593.09" width="3.78" height="3.68" fill="#d8d3e8" />
<rect x="233.27" y="593.09" width="3.78" height="3.68" fill="#988cc1" />
<rect x="155.00" y="596.72" width="3.78" height="3.68" fill="#ffc2b8" />
<rect x="158.73" y="596.72" width="3.78" height="3.68" fill="#ffd0c7" />
<rect x="162.45" y="596.72" width="3.78" height="3.68" fill="#feb9ad" />
<rect x="166.18" y="596.72" width="3.78" height="3.68" fill="#fff7f5" />
<rect x="169.91" y="596.72" width="3.78" height="3.68" fill="#ffdfd9" />
<rect x="173.64" y="596.72" width="3.78" height="3.68" fill="#ffcbc2" />
<rect x="177.36" y="596.72" width="3.78" height="3.68" fill="#e4e0ef" />
<rect x="181.09" y="596.72" width="3.78" height="3.68" fill="#fca89a" />
<rect x="184.82" y="596.72" width="3.78" height="3.68" fill="#ffdfd9" />
<rect x="188.55" y="596.72" width="3.78" height="3.68" fill="#feb9ad" />
<rect x="192.27" y="596.72" width="3.78" height="3.68" fill="#cac2df" />
<rect x="196.00" y="596.72" width="3.78" height="3.68" fill="#ffe6e1" />
<rect x="199.73" y="596.72" width="3.78" height="3.68" fill="#d9d3e8" />
<rect x="203.45" y="596.72" width="3.78" height="3.68" fill="#ffefec" />
<rect x="207.18" y="596.72" width="3.78" height="3.68" fill="#e2dded" />
<rect x="210.91" y="596.72" width="3.78" height="3.68" fill="#998dc2" />
<rect x="214.64" y="596.72" width="3.78" height="3.68" fill="#dad4e9" />
<rect x="218.36" y="596.72" width="3.78" height="3.68" fill="#9d91c4" />
<rect x="222.09" y="596.72" width="3.78" height="3.68" fill="#9a8ec2" />
<rect x="225.82" y="596.72" width="3.78" height="3.68" fill="#e5e1f0" />
<rect x="229.55" y="596.72" width="3.78" height="3.68" fill="#8073b3" />
<rect x="233.27" y="596.72" width="3.78" height="3.68" fill="#dbd6ea" />
<rect x="155.00" y="600.35" width="3.78" height="3.68" fill="#c8c0de" />
<rect x="158.73" y="600.35" width="3.78" height="3.68" fill="#e0423a" />
<rect x="162.45" y="600.35" width="3.78" height="3.68" fill="#fff0ed" />
<rect x="166.18" y="600.35" width="3.78" height="3.68" fill="#fdfdfe" />
<rect x="169.91" y="600.35" width="3.78" height="3.68" fill="#f99a8b" />
<rect x="173.64" y="600.35" width="3.78" height="3.68" fill="#f58778" />
<rect x="177.36" y="600.35" width="3.78" height="3.68" fill="#e6e3f0" />
<rect x="181.09" y="600.35" width="3.78" height="3.68" fill="#ec6859" />
<rect x="184.82" y="600.35" width="3.78" height="3.68" fill="#fff8f7" />
<rect x="188.55" y="600.35" width="3.78" height="3.68" fill="#ffebe8" />
<rect x="192.27" y="600.35" width="3.78" height="3.68" fill="#e1dced" />
<rect x="196.00" y="600.35" width="3.78" height="3.68" fill="#fff2f0" />
<rect x="199.73" y="600.35" width="3.78" height="3.68" fill="#e4e0ef" />
<rect x="203.45" y="600.35" width="3.78" height="3.68" fill="#e9e6f2" />
<rect x="207.18" y="600.35" width="3.78" height="3.68" fill="#fbfbfd" />
<rect x="210.91" y="600.35" width="3.78" height="3.68" fill="#b4aad2" />
<rect x="214.64" y="600.35" width="3.78" height="3.68" fill="#ffe7e2" />
<rect x="218.36" y="600.35" width="3.78" height="3.68" fill="#beb6d8" />
<rect x="222.09" y="600.35" width="3.78" height="3.68" fill="#e1dced" />
<rect x="225.82" y="600.35" width="3.78" height="3.68" fill="#a499c8" />
<rect x="229.55" y="600.35" width="3.78" height="3.68" fill="#fdfdfe" />
<rect x="233.27" y="600.35" width="3.78" height="3.68" fill="#fff5f3" />
<rect x="155.00" y="603.98" width="3.78" height="3.68" fill="#e45145" />
<rect x="158.73" y="603.98" width="3.78" height="3.68" fill="#ffd1c9" />
<rect x="162.45" y="603.98" width="3.78" height="3.68" fill="#db302f" />
<rect x="166.18" y="603.98" width="3.78" height="3.68" fill="#ffece8" />
<rect x="169.91" y="603.98" width="3.78" height="3.68" fill="#ffdfd9" />
<rect x="173.64" y="603.98" width="3.78" height="3.68" fill="#ffcdc4" />
<rect x="177.36" y="603.98" width="3.78" height="3.68" fill="#ffd3cc" />
<rect x="181.09" y="603.98" width="3.78" height="3.68" fill="#e96153" />
<rect x="184.82" y="603.98" width="3.78" height="3.68" fill="#ffedea" />
<rect x="188.55" y="603.98" width="3.78" height="3.68" fill="#ffd7d0" />
<rect x="192.27" y="603.98" width="3.78" height="3.68" fill="#f1eff7" />
<rect x="196.00" y="603.98" width="3.78" height="3.68" fill="#ffc5bb" />
<rect x="199.73" y="603.98" width="3.78" height="3.68" fill="#ffd0c8" />
<rect x="203.45" y="603.98" width="3.78" height="3.68" fill="#fdfdfe" />
<rect x="207.18" y="603.98" width="3.78" height="3.68" fill="#f8f7fb" />
<rect x="210.91" y="603.98" width="3.78" height="3.68" fill="#ffdbd4" />
<rect x="214.64" y="603.98" width="3.78" height="3.68" fill="#e2deee" />
<rect x="218.36" y="603.98" width="3.78" height="3.68" fill="#feb7ab" />
<rect x="222.09" y="603.98" width="3.78" height="3.68" fill="#fdfdfe" />
<rect x="225.82" y="603.98" width="3.78" height="3.68" fill="#ffe2dc" />
<rect x="229.55" y="603.98" width="3.78" height="3.68" fill="#e4e0ef" />
<rect x="233.27" y="603.98" width="3.78" height="3.68" fill="#f2f0f7" />
<rect x="155.00" y="607.61" width="3.78" height="3.68" fill="#f0eef6" />
<rect x="158.73" y="607.61" width="3.78" height="3.68" fill="#fff6f5" />
<rect x="162.45" y="607.61" width="3.78" height="3.68" fill="#f2f0f7" />
<rect x="166.18" y="607.61" width="3.78" height="3.68" fill="#f58778" />
<rect x="169.91" y="607.61" width="3.78" height="3.68" fill="#ffe2dd" />
<rect x="173.64" y="607.61" width="3.78" height="3.68" fill="#fcac9f" />
<rect x="177.36" y="607.61" width="3.78" height="3.68" fill="#ffd2ca" />
<rect x="181.09" y="607.61" width="3.78" height="3.68" fill="#7366ab" />
<rect x="184.82" y="607.61" width="3.78" height="3.68" fill="#fffbfb" />
<rect x="188.55" y="607.61" width="3.78" height="3.68" fill="#fff0ee" />
<rect x="192.27" y="607.61" width="3.78" height="3.68" fill="#f9f8fb" />
<rect x="196.00" y="607.61" width="3.78" height="3.68" fill="#d7d1e7" />
<rect x="199.73" y="607.61" width="3.78" height="3.68" fill="#e9e5f2" />
<rect x="203.45" y="607.61" width="3.78" height="3.68" fill="#e7e3f1" />
<rect x="207.18" y="607.61" width="3.78" height="3.68" fill="#a79cca" />
<rect x="210.91" y="607.61" width="3.78" height="3.68" fill="#ffebe8" />
<rect x="214.64" y="607.61" width="3.78" height="3.68" fill="#c0b7d9" />
<rect x="218.36" y="607.61" width="3.78" height="3.68" fill="#d7d1e7" />
<rect x="222.09" y="607.61" width="3.78" height="3.68" fill="#ded9eb" />
<rect x="225.82" y="607.61" width="3.78" height="3.68" fill="#cec7e1" />
<rect x="229.55" y="607.61" width="3.78" height="3.68" fill="#c5bddc" />
<rect x="233.27" y="607.61" width="3.78" height="3.68" fill="#a69bc9" />
<rect x="155.00" y="611.24" width="3.78" height="3.68" fill="#e1473e" />
<rect x="158.73" y="611.24" width="3.78" height="3.68" fill="#f48777" />
<rect x="162.45" y="611.24" width="3.78" height="3.68" fill="#fff7f5" />
<rect x="166.18" y="611.24" width="3.78" height="3.68" fill="#ffcac1" />
<rect x="169.91" y="611.24" width="3.78" height="3.68" fill="#fa9d8f" />
<rect x="173.64" y="611.24" width="3.78" height="3.68" fill="#f48677" />
<rect x="177.36" y="611.24" width="3.78" height="3.68" fill="#ffdbd5" />
<rect x="181.09" y="611.24" width="3.78" height="3.68" fill="#ffc7be" />
<rect x="184.82" y="611.24" width="3.78" height="3.68" fill="#feb4a8" />
<rect x="188.55" y="611.24" width="3.78" height="3.68" fill="#fdafa2" />
<rect x="192.27" y="611.24" width="3.78" height="3.68" fill="#ffeeeb" />
<rect x="196.00" y="611.24" width="3.78" height="3.68" fill="#fffdfc" />
<rect x="199.73" y="611.24" width="3.78" height="3.68" fill="#e8e4f1" />
<rect x="203.45" y="611.24" width="3.78" height="3.68" fill="#aaa0cc" />
<rect x="207.18" y="611.24" width="3.78" height="3.68" fill="#ffe6e2" />
<rect x="210.91" y="611.24" width="3.78" height="3.68" fill="#c4bcdb" />
<rect x="214.64" y="611.24" width="3.78" height="3.68" fill="#f9f8fc" />
<rect x="218.36" y="611.24" width="3.78" height="3.68" fill="#f8f7fb" />
<rect x="222.09" y="611.24" width="3.78" height="3.68" fill="#fff8f7" />
<rect x="225.82" y="611.24" width="3.78" height="3.68" fill="#e2deee" />
<rect x="229.55" y="611.24" width="3.78" height="3.68" fill="#f2f0f7" />
<rect x="233.27" y="611.24" width="3.78" height="3.68" fill="#fff8f7" />
<rect x="155.00" y="614.87" width="3.78" height="3.68" fill="#f79182" />
<rect x="158.73" y="614.87" width="3.78" height="3.68" fill="#d3cce4" />
<rect x="162.45" y="614.87" width="3.78" height="3.68" fill="#ffbdb3" />
<rect x="166.18" y="614.87" width="3.78" height="3.68" fill="#fa9e90" />
<rect x="169.91" y="614.87" width="3.78" height="3.68" fill="#fdb1a4" />
<rect x="173.64" y="614.87" width="3.78" height="3.68" fill="#feb9ae" />
<rect x="177.36" y="614.87" width="3.78" height="3.68" fill="#fff8f6" />
<rect x="181.09" y="614.87" width="3.78" height="3.68" fill="#f2f0f7" />
<rect x="184.82" y="614.87" width="3.78" height="3.68" fill="#ffe6e2" />
<rect x="188.55" y="614.87" width="3.78" height="3.68" fill="#ffded8" />
<rect x="192.27" y="614.87" width="3.78" height="3.68" fill="#fefdfe" />
<rect x="196.00" y="614.87" width="3.78" height="3.68" fill="#b2a8d1" />
<rect x="199.73" y="614.87" width="3.78" height="3.68" fill="#fff2ef" />
<rect x="203.45" y="614.87" width="3.78" height="3.68" fill="#fff5f3" />
<rect x="207.18" y="614.87" width="3.78" height="3.68" fill="#cfc8e2" />
<rect x="210.91" y="614.87" width="3.78" height="3.68" fill="#b2a8d0" />
<rect x="214.64" y="614.87" width="3.78" height="3.68" fill="#ffebe7" />
<rect x="218.36" y="614.87" width="3.78" height="3.68" fill="#b3a9d1" />
<rect x="222.09" y="614.87" width="3.78" height="3.68" fill="#dcd7ea" />
<rect x="225.82" y="614.87" width="3.78" height="3.68" fill="#e9e6f2" />
<rect x="229.55" y="614.87" width="3.78" height="3.68" fill="#fffdfc" />
<rect x="233.27" y="614.87" width="3.78" height="3.68" fill="#e6e2f0" />
<rect x="155.00" y="618.50" width="3.78" height="3.68" fill="#ffd2ca" />
<rect x="158.73" y="618.50" width="3.78" height="3.68" fill="#f99a8c" />
<rect x="162.45" y="618.50" width="3.78" height="3.68" fill="#ffeae6" />
<rect x="166.18" y="618.50" width="3.78" height="3.68" fill="#eae7f2" />
<rect x="169.91" y="618.50" width="3.78" height="3.68" fill="#cbc4e0" />
<rect x="173.64" y="618.50" width="3.78" height="3.68" fill="#ffbbb0" />
<rect x="177.36" y="618.50" width="3.78" height="3.68" fill="#ffc0b5" />
<rect x="181.09" y="618.50" width="3.78" height="3.68" fill="#d2cce4" />
<rect x="184.82" y="618.50" width="3.78" height="3.68" fill="#feb7ac" />
<rect x="188.55" y="618.50" width="3.78" height="3.68" fill="#e3dfee" />
<rect x="192.27" y="618.50" width="3.78" height="3.68" fill="#fff9f8" />
<rect x="196.00" y="618.50" width="3.78" height="3.68" fill="#ded9eb" />
<rect x="199.73" y="618.50" width="3.78" height="3.68" fill="#f3f1f8" />
<rect x="203.45" y="618.50" width="3.78" height="3.68" fill="#fff2ef" />
<rect x="207.18" y="618.50" width="3.78" height="3.68" fill="#fefdfe" />
<rect x="210.91" y="618.50" width="3.78" height="3.68" fill="#ffe2dc" />
<rect x="214.64" y="618.50" width="3.78" height="3.68" fill="#ffcbc2" />
<rect x="218.36" y="618.50" width="3.78" height="3.68" fill="#e5e1ef" />
<rect x="222.09" y="618.50" width="3.78" height="3.68" fill="#edebf4" />
<rect x="225.82" y="618.50" width="3.78" height="3.68" fill="#cbc3df" />
<rect x="229.55" y="618.50" width="3.78" height="3.68" fill="#cac3df" />
<rect x="233.27" y="618.50" width="3.78" height="3.68" fill="#fffbfa" />
<rect x="155.00" y="622.13" width="3.78" height="3.68" fill="#f48475" />
<rect x="158.73" y="622.13" width="3.78" height="3.68" fill="#ffc8be" />
<rect x="162.45" y="622.13" width="3.78" height="3.68" fill="#edebf4" />
<rect x="166.18" y="622.13" width="3.78" height="3.68" fill="#fff4f2" />
<rect x="169.91" y="622.13" width="3.78" height="3.68" fill="#f68e7e" />
<rect x="173.64" y="622.13" width="3.78" height="3.68" fill="#fca79a" />
<rect x="177.36" y="622.13" width="3.78" height="3.68" fill="#e96153" />
<rect x="181.09" y="622.13" width="3.78" height="3.68" fill="#fff3f1" />
<rect x="184.82" y="622.13" width="3.78" height="3.68" fill="#ffeeea" />
<rect x="188.55" y="622.13" width="3.78" height="3.68" fill="#faa092" />
<rect x="192.27" y="622.13" width="3.78" height="3.68" fill="#edeaf4" />
<rect x="196.00" y="622.13" width="3.78" height="3.68" fill="#ffe1db" />
<rect x="199.73" y="622.13" width="3.78" height="3.68" fill="#f6f5fa" />
<rect x="203.45" y="622.13" width="3.78" height="3.68" fill="#ffc9c0" />
<rect x="207.18" y="622.13" width="3.78" height="3.68" fill="#c4bcdc" />
<rect x="210.91" y="622.13" width="3.78" height="3.68" fill="#ffcfc7" />
<rect x="214.64" y="622.13" width="3.78" height="3.68" fill="#efedf5" />
<rect x="218.36" y="622.13" width="3.78" height="3.68" fill="#bcb3d6" />
<rect x="222.09" y="622.13" width="3.78" height="3.68" fill="#dad5e9" />
<rect x="225.82" y="622.13" width="3.78" height="3.68" fill="#dbd6ea" />
<rect x="229.55" y="622.13" width="3.78" height="3.68" fill="#ffece8" />
<rect x="233.27" y="622.13" width="3.78" height="3.68" fill="#ffe4df" />
<rect x="155.00" y="625.77" width="3.78" height="3.68" fill="#ffe9e5" />
<rect x="158.73" y="625.77" width="3.78" height="3.68" fill="#f07667" />
<rect x="162.45" y="625.77" width="3.78" height="3.68" fill="#ffded8" />
<rect x="166.18" y="625.77" width="3.78" height="3.68" fill="#fdfcfe" />
<rect x="169.91" y="625.77" width="3.78" height="3.68" fill="#ffd2ca" />
<rect x="173.64" y="625.77" width="3.78" height="3.68" fill="#fca79a" />
<rect x="177.36" y="625.77" width="3.78" height="3.68" fill="#eb6759" />
<rect x="181.09" y="625.77" width="3.78" height="3.68" fill="#ffd3cb" />
<rect x="184.82" y="625.77" width="3.78" height="3.68" fill="#ffdbd4" />
<rect x="188.55" y="625.77" width="3.78" height="3.68" fill="#ffbcb1" />
<rect x="192.27" y="625.77" width="3.78" height="3.68" fill="#dcd7ea" />
<rect x="196.00" y="625.77" width="3.78" height="3.68" fill="#cfc8e2" />
<rect x="199.73" y="625.77" width="3.78" height="3.68" fill="#f2f0f7" />
<rect x="203.45" y="625.77" width="3.78" height="3.68" fill="#fffefe" />
<rect x="207.18" y="625.77" width="3.78" height="3.68" fill="#fff6f4" />
<rect x="210.91" y="625.77" width="3.78" height="3.68" fill="#ffeeeb" />
<rect x="214.64" y="625.77" width="3.78" height="3.68" fill="#ffffff" />
<rect x="218.36" y="625.77" width="3.78" height="3.68" fill="#e4e0ef" />
<rect x="222.09" y="625.77" width="3.78" height="3.68" fill="#faf9fc" />
<rect x="225.82" y="625.77" width="3.78" height="3.68" fill="#f6f4f9" />
<rect x="229.55" y="625.77" width="3.78" height="3.68" fill="#ffece8" />
<rect x="233.27" y="625.77" width="3.78" height="3.68" fill="#ffe3de" />
<rect x="155.00" y="629.40" width="3.78" height="3.68" fill="#fffaf9" />
<rect x="158.73" y="629.40" width="3.78" height="3.68" fill="#f9f8fc" />
<rect x="162.45" y="629.40" width="3.78" height="3.68" fill="#faf9fc" />
<rect x="166.18" y="629.40" width="3.78" height="3.68" fill="#fcfcfd" />
<rect x="169.91" y="629.40" width="3.78" height="3.68" fill="#feb5a9" />
<rect x="173.64" y="629.40" width="3.78" height="3.68" fill="#e85c4f" />
<rect x="177.36" y="629.40" width="3.78" height="3.68" fill="#fff5f3" />
<rect x="181.09" y="629.40" width="3.78" height="3.68" fill="#efedf6" />
<rect x="184.82" y="629.40" width="3.78" height="3.68" fill="#e2ddee" />
<rect x="188.55" y="629.40" width="3.78" height="3.68" fill="#ffc6bc" />
<rect x="192.27" y="629.40" width="3.78" height="3.68" fill="#ffefec" />
<rect x="196.00" y="629.40" width="3.78" height="3.68" fill="#ffc9bf" />
<rect x="199.73" y="629.40" width="3.78" height="3.68" fill="#ffded8" />
<rect x="203.45" y="629.40" width="3.78" height="3.68" fill="#f0eef6" />
<rect x="207.18" y="629.40" width="3.78" height="3.68" fill="#ffe9e5" />
<rect x="210.91" y="629.40" width="3.78" height="3.68" fill="#efecf5" />
<rect x="214.64" y="629.40" width="3.78" height="3.68" fill="#fffcfc" />
<rect x="218.36" y="629.40" width="3.78" height="3.68" fill="#c9c2df" />
<rect x="222.09" y="629.40" width="3.78" height="3.68" fill="#cdc6e1" />
<rect x="225.82" y="629.40" width="3.78" height="3.68" fill="#c8c0de" />
<rect x="229.55" y="629.40" width="3.78" height="3.68" fill="#ffeae6" />
<rect x="233.27" y="629.40" width="3.78" height="3.68" fill="#fff8f7" />
<rect x="155.00" y="633.03" width="3.78" height="3.68" fill="#ffd2ca" />
<rect x="158.73" y="633.03" width="3.78" height="3.68" fill="#fff8f7" />
<rect x="162.45" y="633.03" width="3.78" height="3.68" fill="#ffdfda" />
<rect x="166.18" y="633.03" width="3.78" height="3.68" fill="#febaae" />
<rect x="169.91" y="633.03" width="3.78" height="3.68" fill="#ef7465" />
<rect x="173.64" y="633.03" width="3.78" height="3.68" fill="#f89889" />
<rect x="177.36" y="633.03" width="3.78" height="3.68" fill="#f58979" />
<rect x="181.09" y="633.03" width="3.78" height="3.68" fill="#eb6556" />
<rect x="184.82" y="633.03" width="3.78" height="3.68" fill="#fffefe" />
<rect x="188.55" y="633.03" width="3.78" height="3.68" fill="#f6f5fa" />
<rect x="192.27" y="633.03" width="3.78" height="3.68" fill="#fbfafd" />
<rect x="196.00" y="633.03" width="3.78" height="3.68" fill="#ffffff" />
<rect x="199.73" y="633.03" width="3.78" height="3.68" fill="#f0edf6" />
<rect x="203.45" y="633.03" width="3.78" height="3.68" fill="#c3bbdb" />
<rect x="207.18" y="633.03" width="3.78" height="3.68" fill="#dfdbec" />
<rect x="210.91" y="633.03" width="3.78" height="3.68" fill="#ffe5e0" />
<rect x="214.64" y="633.03" width="3.78" height="3.68" fill="#f5f3f9" />
<rect x="218.36" y="633.03" width="3.78" height="3.68" fill="#f7f6fa" />
<rect x="222.09" y="633.03" width="3.78" height="3.68" fill="#e6e3f0" />
<rect x="225.82" y="633.03" width="3.78" height="3.68" fill="#e7e4f1" />
<rect x="229.55" y="633.03" width="3.78" height="3.68" fill="#fff9f8" />
<rect x="233.27" y="633.03" width="3.78" height="3.68" fill="#cdc6e1" />
<rect x="155.00" y="636.66" width="3.78" height="3.68" fill="#fff8f7" />
<rect x="158.73" y="636.66" width="3.78" height="3.68" fill="#fff5f3" />
<rect x="162.45" y="636.66" width="3.78" height="3.68" fill="#ffd6ce" />
<rect x="166.18" y="636.66" width="3.78" height="3.68" fill="#e34b41" />
<rect x="169.91" y="636.66" width="3.78" height="3.68" fill="#ffcac0" />
<rect x="173.64" y="636.66" width="3.78" height="3.68" fill="#e85c4f" />
<rect x="177.36" y="636.66" width="3.78" height="3.68" fill="#ffc7bd" />
<rect x="181.09" y="636.66" width="3.78" height="3.68" fill="#f07566" />
<rect x="184.82" y="636.66" width="3.78" height="3.68" fill="#d8d2e7" />
<rect x="188.55" y="636.66" width="3.78" height="3.68" fill="#ffdad3" />
<rect x="192.27" y="636.66" width="3.78" height="3.68" fill="#cac3df" />
<rect x="196.00" y="636.66" width="3.78" height="3.68" fill="#e3dfee" />
<rect x="199.73" y="636.66" width="3.78" height="3.68" fill="#f48576" />
<rect x="203.45" y="636.66" width="3.78" height="3.68" fill="#ffd9d2" />
<rect x="207.18" y="636.66" width="3.78" height="3.68" fill="#f0edf6" />
<rect x="210.91" y="636.66" width="3.78" height="3.68" fill="#d4cee5" />
<rect x="214.64" y="636.66" width="3.78" height="3.68" fill="#8c7fba" />
<rect x="218.36" y="636.66" width="3.78" height="3.68" fill="#edeaf4" />
<rect x="222.09" y="636.66" width="3.78" height="3.68" fill="#f2f0f7" />
<rect x="225.82" y="636.66" width="3.78" height="3.68" fill="#e7e3f0" />
<rect x="229.55" y="636.66" width="3.78" height="3.68" fill="#ffe5e0" />
<rect x="233.27" y="636.66" width="3.78" height="3.68" fill="#e4e0ef" />
<rect x="155.00" y="640.29" width="3.78" height="3.68" fill="#fff0ed" />
<rect x="158.73" y="640.29" width="3.78" height="3.68" fill="#ffefec" />
<rect x="162.45" y="640.29" width="3.78" height="3.68" fill="#fdaea2" />
<rect x="166.18" y="640.29" width="3.78" height="3.68" fill="#fdfdfe" />
<rect x="169.91" y="640.29" width="3.78" height="3.68" fill="#ffbcb1" />
<rect x="173.64" y="640.29" width="3.78" height="3.68" fill="#feb8ad" />
<rect x="177.36" y="640.29" width="3.78" height="3.68" fill="#ef7364" />
<rect x="181.09" y="640.29" width="3.78" height="3.68" fill="#ffc2b7" />
<rect x="184.82" y="640.29" width="3.78" height="3.68" fill="#fdb2a6" />
<rect x="188.55" y="640.29" width="3.78" height="3.68" fill="#fcfcfd" />
<rect x="192.27" y="640.29" width="3.78" height="3.68" fill="#d1cae3" />
<rect x="196.00" y="640.29" width="3.78" height="3.68" fill="#c2b9da" />
<rect x="199.73" y="640.29" width="3.78" height="3.68" fill="#fca89a" />
<rect x="203.45" y="640.29" width="3.78" height="3.68" fill="#ffffff" />
<rect x="207.18" y="640.29" width="3.78" height="3.68" fill="#ffffff" />
<rect x="210.91" y="640.29" width="3.78" height="3.68" fill="#ffffff" />
<rect x="214.64" y="640.29" width="3.78" height="3.68" fill="#fff9f8" />
<rect x="218.36" y="640.29" width="3.78" height="3.68" fill="#eeebf5" />
<rect x="222.09" y="640.29" width="3.78" height="3.68" fill="#ffdad3" />
<rect x="225.82" y="640.29" width="3.78" height="3.68" fill="#c2b9da" />
<rect x="229.55" y="640.29" width="3.78" height="3.68" fill="#998dc1" />
<rect x="233.27" y="640.29" width="3.78" height="3.68" fill="#c5bddc" />
<rect x="155.00" y="643.92" width="3.78" height="3.68" fill="#ffcfc6" />
<rect x="158.73" y="643.92" width="3.78" height="3.68" fill="#fffefe" />
<rect x="162.45" y="643.92" width="3.78" height="3.68" fill="#ffc1b6" />
<rect x="166.18" y="643.92" width="3.78" height="3.68" fill="#ffc2b7" />
<rect x="169.91" y="643.92" width="3.78" height="3.68" fill="#ffeeea" />
<rect x="173.64" y="643.92" width="3.78" height="3.68" fill="#dc3532" />
<rect x="177.36" y="643.92" width="3.78" height="3.68" fill="#f89788" />
<rect x="181.09" y="643.92" width="3.78" height="3.68" fill="#fefefe" />
<rect x="184.82" y="643.92" width="3.78" height="3.68" fill="#e9e5f2" />
<rect x="188.55" y="643.92" width="3.78" height="3.68" fill="#ffe9e5" />
<rect x="192.27" y="643.92" width="3.78" height="3.68" fill="#dbd5e9" />
<rect x="196.00" y="643.92" width="3.78" height="3.68" fill="#cac3df" />
<rect x="199.73" y="643.92" width="3.78" height="3.68" fill="#8e81bb" />
<rect x="203.45" y="643.92" width="3.78" height="3.68" fill="#fff5f3" />
<rect x="207.18" y="643.92" width="3.78" height="3.68" fill="#cfc8e2" />
<rect x="210.91" y="643.92" width="3.78" height="3.68" fill="#ded9eb" />
<rect x="214.64" y="643.92" width="3.78" height="3.68" fill="#dcd7ea" />
<rect x="218.36" y="643.92" width="3.78" height="3.68" fill="#edeaf4" />
<rect x="222.09" y="643.92" width="3.78" height="3.68" fill="#cfc8e2" />
<rect x="225.82" y="643.92" width="3.78" height="3.68" fill="#bcb3d7" />
<rect x="229.55" y="643.92" width="3.78" height="3.68" fill="#fffeff" />
<rect x="233.27" y="643.92" width="3.78" height="3.68" fill="#f8f7fb" />
<rect x="155.00" y="647.55" width="3.78" height="3.68" fill="#ffdbd4" />
<rect x="158.73" y="647.55" width="3.78" height="3.68" fill="#f99c8e" />
<rect x="162.45" y="647.55" width="3.78" height="3.68" fill="#fa9e90" />
<rect x="166.18" y="647.55" width="3.78" height="3.68" fill="#ffd7d0" />
<rect x="169.91" y="647.55" width="3.78" height="3.68" fill="#febaae" />
<rect x="173.64" y="647.55" width="3.78" height="3.68" fill="#feb6aa" />
<rect x="177.36" y="647.55" width="3.78" height="3.68" fill="#feb7ac" />
<rect x="181.09" y="647.55" width="3.78" height="3.68" fill="#f48474" />
<rect x="184.82" y="647.55" width="3.78" height="3.68" fill="#ffd5cd" />
<rect x="188.55" y="647.55" width="3.78" height="3.68" fill="#ffd9d2" />
<rect x="192.27" y="647.55" width="3.78" height="3.68" fill="#c1b8da" />
<rect x="196.00" y="647.55" width="3.78" height="3.68" fill="#fffcfc" />
<rect x="199.73" y="647.55" width="3.78" height="3.68" fill="#d2cbe4" />
<rect x="203.45" y="647.55" width="3.78" height="3.68" fill="#fff4f2" />
<rect x="207.18" y="647.55" width="3.78" height="3.68" fill="#f9f9fc" />
<rect x="210.91" y="647.55" width="3.78" height="3.68" fill="#c5bddc" />
<rect x="214.64" y="647.55" width="3.78" height="3.68" fill="#fff3f0" />
<rect x="218.36" y="647.55" width="3.78" height="3.68" fill="#bdb4d7" />
<rect x="222.09" y="647.55" width="3.78" height="3.68" fill="#fff1ee" />
<rect x="225.82" y="647.55" width="3.78" height="3.68" fill="#ffd9d2" />
<rect x="229.55" y="647.55" width="3.78" height="3.68" fill="#edeaf4" />
<rect x="233.27" y="647.55" width="3.78" height="3.68" fill="#dcd7ea" />
<rect x="155.00" y="651.18" width="3.78" height="3.68" fill="#ffebe8" />
<rect x="158.73" y="651.18" width="3.78" height="3.68" fill="#fff8f6" />
<rect x="162.45" y="651.18" width="3.78" height="3.68" fill="#e6e2f0" />
<rect x="166.18" y="651.18" width="3.78" height="3.68" fill="#ece9f4" />
<rect x="169.91" y="651.18" width="3.78" height="3.68" fill="#fff5f4" />
<rect x="173.64" y="651.18" width="3.78" height="3.68" fill="#d6d0e6" />
<rect x="177.36" y="651.18" width="3.78" height="3.68" fill="#fcfbfd" />
<rect x="181.09" y="651.18" width="3.78" height="3.68" fill="#ffd8d2" />
<rect x="184.82" y="651.18" width="3.78" height="3.68" fill="#fff3f0" />
<rect x="188.55" y="651.18" width="3.78" height="3.68" fill="#a499c8" />
<rect x="192.27" y="651.18" width="3.78" height="3.68" fill="#c6bedd" />
<rect x="196.00" y="651.18" width="3.78" height="3.68" fill="#f0eef6" />
<rect x="199.73" y="651.18" width="3.78" height="3.68" fill="#fbfafd" />
<rect x="203.45" y="651.18" width="3.78" height="3.68" fill="#cbc4e0" />
<rect x="207.18" y="651.18" width="3.78" height="3.68" fill="#dfdaec" />
<rect x="210.91" y="651.18" width="3.78" height="3.68" fill="#e4e0ef" />
<rect x="214.64" y="651.18" width="3.78" height="3.68" fill="#fffdfc" />
<rect x="218.36" y="651.18" width="3.78" height="3.68" fill="#dcd6ea" />
<rect x="222.09" y="651.18" width="3.78" height="3.68" fill="#cfc8e2" />
<rect x="225.82" y="651.18" width="3.78" height="3.68" fill="#c3bbdb" />
<rect x="229.55" y="651.18" width="3.78" height="3.68" fill="#fbfafd" />
<rect x="233.27" y="651.18" width="3.78" height="3.68" fill="#eeecf5" />
<rect x="155.00" y="654.81" width="3.78" height="3.68" fill="#d9d3e8" />
<rect x="158.73" y="654.81" width="3.78" height="3.68" fill="#ffe1db" />
<rect x="162.45" y="654.81" width="3.78" height="3.68" fill="#ffe0da" />
<rect x="166.18" y="654.81" width="3.78" height="3.68" fill="#ffd0c8" />
<rect x="169.91" y="654.81" width="3.78" height="3.68" fill="#ffedea" />
<rect x="173.64" y="654.81" width="3.78" height="3.68" fill="#feb3a7" />
<rect x="177.36" y="654.81" width="3.78" height="3.68" fill="#fdaea1" />
<rect x="181.09" y="654.81" width="3.78" height="3.68" fill="#ffebe8" />
<rect x="184.82" y="654.81" width="3.78" height="3.68" fill="#d6d0e6" />
<rect x="188.55" y="654.81" width="3.78" height="3.68" fill="#aea4ce" />
<rect x="192.27" y="654.81" width="3.78" height="3.68" fill="#d8d3e8" />
<rect x="196.00" y="654.81" width="3.78" height="3.68" fill="#c9c2df" />
<rect x="199.73" y="654.81" width="3.78" height="3.68" fill="#eae7f2" />
<rect x="203.45" y="654.81" width="3.78" height="3.68" fill="#ffc2b8" />
<rect x="207.18" y="654.81" width="3.78" height="3.68" fill="#fffaf9" />
<rect x="210.91" y="654.81" width="3.78" height="3.68" fill="#f1eff6" />
<rect x="214.64" y="654.81" width="3.78" height="3.68" fill="#d2cbe4" />
<rect x="218.36" y="654.81" width="3.78" height="3.68" fill="#ece9f4" />
<rect x="222.09" y="654.81" width="3.78" height="3.68" fill="#fff0ee" />
<rect x="225.82" y="654.81" width="3.78" height="3.68" fill="#d9d3e8" />
<rect x="229.55" y="654.81" width="3.78" height="3.68" fill="#e7e3f0" />
<rect x="233.27" y="654.81" width="3.78" height="3.68" fill="#ffe9e5" />
<rect x="155.00" y="658.45" width="3.78" height="3.68" fill="#cec7e2" />
<rect x="158.73" y="658.45" width="3.78" height="3.68" fill="#f68e7f" />
<rect x="162.45" y="658.45" width="3.78" height="3.68" fill="#fefefe" />
<rect x="166.18" y="658.45" width="3.78" height="3.68" fill="#f07869" />
<rect x="169.91" y="658.45" width="3.78" height="3.68" fill="#ffc7bd" />
<rect x="173.64" y="658.45" width="3.78" height="3.68" fill="#d71c25" />
<rect x="177.36" y="658.45" width="3.78" height="3.68" fill="#ffcbc2" />
<rect x="181.09" y="658.45" width="3.78" height="3.68" fill="#f9f9fc" />
<rect x="184.82" y="658.45" width="3.78" height="3.68" fill="#ece9f3" />
<rect x="188.55" y="658.45" width="3.78" height="3.68" fill="#ffc8be" />
<rect x="192.27" y="658.45" width="3.78" height="3.68" fill="#ffe4df" />
<rect x="196.00" y="658.45" width="3.78" height="3.68" fill="#fff5f3" />
<rect x="199.73" y="658.45" width="3.78" height="3.68" fill="#a499c8" />
<rect x="203.45" y="658.45" width="3.78" height="3.68" fill="#ffece8" />
<rect x="207.18" y="658.45" width="3.78" height="3.68" fill="#fff2ef" />
<rect x="210.91" y="658.45" width="3.78" height="3.68" fill="#aca1cd" />
<rect x="214.64" y="658.45" width="3.78" height="3.68" fill="#ece9f4" />
<rect x="218.36" y="658.45" width="3.78" height="3.68" fill="#dfdbec" />
<rect x="222.09" y="658.45" width="3.78" height="3.68" fill="#e0dced" />
<rect x="225.82" y="658.45" width="3.78" height="3.68" fill="#dedaeb" />
<rect x="229.55" y="658.45" width="3.78" height="3.68" fill="#c8c0de" />
<rect x="233.27" y="658.45" width="3.78" height="3.68" fill="#f9f8fc" />
<rect x="155.00" y="662.08" width="3.78" height="3.68" fill="#f5897a" />
<rect x="158.73" y="662.08" width="3.78" height="3.68" fill="#fff2ef" />
<rect x="162.45" y="662.08" width="3.78" height="3.68" fill="#fafafc" />
<rect x="166.18" y="662.08" width="3.78" height="3.68" fill="#ffe8e3" />
<rect x="169.91" y="662.08" width="3.78" height="3.68" fill="#f89688" />
<rect x="173.64" y="662.08" width="3.78" height="3.68" fill="#fdafa2" />
<rect x="177.36" y="662.08" width="3.78" height="3.68" fill="#f27d6d" />
<rect x="181.09" y="662.08" width="3.78" height="3.68" fill="#feb4a8" />
<rect x="184.82" y="662.08" width="3.78" height="3.68" fill="#ffdad3" />
<rect x="188.55" y="662.08" width="3.78" height="3.68" fill="#f5f4f9" />
<rect x="192.27" y="662.08" width="3.78" height="3.68" fill="#c8c0de" />
<rect x="196.00" y="662.08" width="3.78" height="3.68" fill="#fefefe" />
<rect x="199.73" y="662.08" width="3.78" height="3.68" fill="#ffeeeb" />
<rect x="203.45" y="662.08" width="3.78" height="3.68" fill="#fafafc" />
<rect x="207.18" y="662.08" width="3.78" height="3.68" fill="#f4f2f8" />
<rect x="210.91" y="662.08" width="3.78" height="3.68" fill="#f5f4f9" />
<rect x="214.64" y="662.08" width="3.78" height="3.68" fill="#fff4f2" />
<rect x="218.36" y="662.08" width="3.78" height="3.68" fill="#fff9f8" />
<rect x="222.09" y="662.08" width="3.78" height="3.68" fill="#fff7f5" />
<rect x="225.82" y="662.08" width="3.78" height="3.68" fill="#c3badb" />
<rect x="229.55" y="662.08" width="3.78" height="3.68" fill="#e1dded" />
<rect x="233.27" y="662.08" width="3.78" height="3.68" fill="#fefdfe" />
<rect x="155.00" y="665.71" width="3.78" height="3.68" fill="#fdb1a4" />
<rect x="158.73" y="665.71" width="3.78" height="3.68" fill="#febaae" />
<rect x="162.45" y="665.71" width="3.78" height="3.68" fill="#f38273" />
<rect x="166.18" y="665.71" width="3.78" height="3.68" fill="#ffbdb2" />
<rect x="169.91" y="665.71" width="3.78" height="3.68" fill="#d1cbe4" />
<rect x="173.64" y="665.71" width="3.78" height="3.68" fill="#ffded8" />
<rect x="177.36" y="665.71" width="3.78" height="3.68" fill="#fdb0a3" />
<rect x="181.09" y="665.71" width="3.78" height="3.68" fill="#fdafa2" />
<rect x="184.82" y="665.71" width="3.78" height="3.68" fill="#ffdad3" />
<rect x="188.55" y="665.71" width="3.78" height="3.68" fill="#fff4f2" />
<rect x="192.27" y="665.71" width="3.78" height="3.68" fill="#c6bedc" />
<rect x="196.00" y="665.71" width="3.78" height="3.68" fill="#e1dded" />
<rect x="199.73" y="665.71" width="3.78" height="3.68" fill="#c0b7d9" />
<rect x="203.45" y="665.71" width="3.78" height="3.68" fill="#ffffff" />
<rect x="207.18" y="665.71" width="3.78" height="3.68" fill="#ffd6cf" />
<rect x="210.91" y="665.71" width="3.78" height="3.68" fill="#ece9f3" />
<rect x="214.64" y="665.71" width="3.78" height="3.68" fill="#fff0ed" />
<rect x="218.36" y="665.71" width="3.78" height="3.68" fill="#cbc4e0" />
<rect x="222.09" y="665.71" width="3.78" height="3.68" fill="#afa5cf" />
<rect x="225.82" y="665.71" width="3.78" height="3.68" fill="#e5e1f0" />
<rect x="229.55" y="665.71" width="3.78" height="3.68" fill="#c2bada" />
<rect x="233.27" y="665.71" width="3.78" height="3.68" fill="#fffcfb" />
<rect x="155.00" y="669.34" width="3.78" height="3.68" fill="#ffc3b9" />
<rect x="158.73" y="669.34" width="3.78" height="3.68" fill="#ffdbd5" />
<rect x="162.45" y="669.34" width="3.78" height="3.68" fill="#faa092" />
<rect x="166.18" y="669.34" width="3.78" height="3.68" fill="#fdafa2" />
<rect x="169.91" y="669.34" width="3.78" height="3.68" fill="#ffddd7" />
<rect x="173.64" y="669.34" width="3.78" height="3.68" fill="#f89485" />
<rect x="177.36" y="669.34" width="3.78" height="3.68" fill="#ffe1db" />
<rect x="181.09" y="669.34" width="3.78" height="3.68" fill="#feb9ae" />
<rect x="184.82" y="669.34" width="3.78" height="3.68" fill="#fffdfd" />
<rect x="188.55" y="669.34" width="3.78" height="3.68" fill="#f0eef6" />
<rect x="192.27" y="669.34" width="3.78" height="3.68" fill="#9f93c5" />
<rect x="196.00" y="669.34" width="3.78" height="3.68" fill="#fffaf9" />
<rect x="199.73" y="669.34" width="3.78" height="3.68" fill="#f7f6fa" />
<rect x="203.45" y="669.34" width="3.78" height="3.68" fill="#b9b0d5" />
<rect x="207.18" y="669.34" width="3.78" height="3.68" fill="#dad5e9" />
<rect x="210.91" y="669.34" width="3.78" height="3.68" fill="#e9e6f2" />
<rect x="214.64" y="669.34" width="3.78" height="3.68" fill="#ffcbc2" />
<rect x="218.36" y="669.34" width="3.78" height="3.68" fill="#aba0cc" />
<rect x="222.09" y="669.34" width="3.78" height="3.68" fill="#ada3ce" />
<rect x="225.82" y="669.34" width="3.78" height="3.68" fill="#e5e1ef" />
<rect x="229.55" y="669.34" width="3.78" height="3.68" fill="#d3cde5" />
<rect x="233.27" y="669.34" width="3.78" height="3.68" fill="#e6e2f0" />
<rect x="155.00" y="672.97" width="3.78" height="3.68" fill="#ffc4ba" />
<rect x="158.73" y="672.97" width="3.78" height="3.68" fill="#ffbeb3" />
<rect x="162.45" y="672.97" width="3.78" height="3.68" fill="#ffe2dd" />
<rect x="166.18" y="672.97" width="3.78" height="3.68" fill="#e85c4f" />
<rect x="169.91" y="672.97" width="3.78" height="3.68" fill="#f38071" />
<rect x="173.64" y="672.97" width="3.78" height="3.68" fill="#ffd6cf" />
<rect x="177.36" y="672.97" width="3.78" height="3.68" fill="#ffc5bb" />
<rect x="181.09" y="672.97" width="3.78" height="3.68" fill="#f0edf6" />
<rect x="184.82" y="672.97" width="3.78" height="3.68" fill="#fff4f2" />
<rect x="188.55" y="672.97" width="3.78" height="3.68" fill="#c7bfdd" />
<rect x="192.27" y="672.97" width="3.78" height="3.68" fill="#fff4f1" />
<rect x="196.00" y="672.97" width="3.78" height="3.68" fill="#ffddd6" />
<rect x="199.73" y="672.97" width="3.78" height="3.68" fill="#ffeeea" />
<rect x="203.45" y="672.97" width="3.78" height="3.68" fill="#fffefd" />
<rect x="207.18" y="672.97" width="3.78" height="3.68" fill="#fff2f0" />
<rect x="210.91" y="672.97" width="3.78" height="3.68" fill="#f3f1f8" />
<rect x="214.64" y="672.97" width="3.78" height="3.68" fill="#fdfdfe" />
<rect x="218.36" y="672.97" width="3.78" height="3.68" fill="#f8f7fb" />
<rect x="222.09" y="672.97" width="3.78" height="3.68" fill="#e2deee" />
<rect x="225.82" y="672.97" width="3.78" height="3.68" fill="#afa4ce" />
<rect x="229.55" y="672.97" width="3.78" height="3.68" fill="#fbfafc" />
<rect x="233.27" y="672.97" width="3.78" height="3.68" fill="#fff2f0" />
<text transform="translate(239.2,316.865) rotate(0.05) scale(0.435)" font-size="10" fill="#1a1a1a">SPINK2</text>
<text transform="translate(239.2,320.497) rotate(0.05) scale(0.435)" font-size="10" fill="#1a1a1a">CRISP3</text>
<text transform="translate(239.2,324.127) rotate(0.05) scale(0.435)" font-size="10" fill="#1a1a1a">RUNX2</text>
<text transform="translate(239.2,327.759) rotate(0.05) scale(0.435)" font-size="10" fill="#1a1a1a">CEACAM8</text>
<text transform="translate(239.2,331.389) rotate(0.05) scale(0.435)" font-size="10" fill="#1a1a1a">TOX1</text>
<text transform="translate(239.2,335.021) rotate(0.05) scale(0.435)" font-size="10" fill="#1a1a1a">CAMP</text>
<text transform="translate(239.2,338.651) rotate(0.05) scale(0.435)" font-size="10" fill="#1a1a1a">HCK43</text>
<text transform="translate(239.2,342.283) rotate(0.05) scale(0.435)" font-size="10" fill="#1a1a1a">TNFSF4</text>
<text transform="translate(239.2,345.913) rotate(0.05) scale(0.435)" font-size="10" fill="#1a1a1a">AC139449.1</text>
<text transform="translate(239.2,349.545) rotate(0.05) scale(0.435)" font-size="10" fill="#1a1a1a">HOXA3</text>
<text transform="translate(239.2,353.175) rotate(0.05) scale(0.435)" font-size="10" fill="#1a1a1a">MNDA</text>
<text transform="translate(239.2,356.807) rotate(0.05) scale(0.435)" font-size="10" fill="#1a1a1a">PRL</text>
<text transform="translate(239.2,360.438) rotate(0.05) scale(0.435)" font-size="10" fill="#1a1a1a">CD177</text>
<text transform="translate(239.2,364.069) rotate(0.05) scale(0.435)" font-size="10" fill="#1a1a1a">SCD5</text>
<text transform="translate(239.2,367.700) rotate(0.05) scale(0.435)" font-size="10" fill="#1a1a1a">SCD3</text>
<text transform="translate(239.2,371.331) rotate(0.05) scale(0.435)" font-size="10" fill="#1a1a1a">ANXA3</text>
<text transform="translate(239.2,374.962) rotate(0.05) scale(0.435)" font-size="10" fill="#1a1a1a">SLC45A1</text>
<text transform="translate(239.2,378.593) rotate(0.05) scale(0.435)" font-size="10" fill="#1a1a1a">SIGLEC8</text>
<text transform="translate(239.2,382.224) rotate(0.05) scale(0.435)" font-size="10" fill="#1a1a1a">ZNF503</text>
<text transform="translate(239.2,385.855) rotate(0.05) scale(0.435)" font-size="10" fill="#1a1a1a">HOXA4</text>
<text transform="translate(239.2,389.486) rotate(0.05) scale(0.435)" font-size="10" fill="#1a1a1a">HOXA10</text>
<text transform="translate(239.2,393.117) rotate(0.05) scale(0.435)" font-size="10" fill="#1a1a1a">TNFSF10</text>
<text transform="translate(239.2,396.748) rotate(0.05) scale(0.435)" font-size="10" fill="#1a1a1a">CA1</text>
<text transform="translate(239.2,400.379) rotate(0.05) scale(0.435)" font-size="10" fill="#1a1a1a">PRDM4A</text>
<text transform="translate(239.2,404.010) rotate(0.05) scale(0.435)" font-size="10" fill="#1a1a1a">ETV6</text>
<text transform="translate(239.2,407.641) rotate(0.05) scale(0.435)" font-size="10" fill="#1a1a1a">DEFA4</text>
<text transform="translate(239.2,411.272) rotate(0.05) scale(0.435)" font-size="10" fill="#1a1a1a">SOCS2</text>
<text transform="translate(239.2,414.903) rotate(0.05) scale(0.435)" font-size="10" fill="#1a1a1a">SPI1</text>
<text transform="translate(239.2,418.534) rotate(0.05) scale(0.435)" font-size="10" fill="#1a1a1a">CPNE8</text>
<text transform="translate(239.2,422.165) rotate(0.05) scale(0.435)" font-size="10" fill="#1a1a1a">EPHB6</text>
<text transform="translate(239.2,425.796) rotate(0.05) scale(0.435)" font-size="10" fill="#1a1a1a">SIX3</text>
<text transform="translate(239.2,429.427) rotate(0.05) scale(0.435)" font-size="10" fill="#1a1a1a">MXRA8</text>
<text transform="translate(239.2,433.058) rotate(0.05) scale(0.435)" font-size="10" fill="#1a1a1a">MPIA2</text>
<text transform="translate(239.2,436.689) rotate(0.05) scale(0.435)" font-size="10" fill="#1a1a1a">HOXA9</text>
<text transform="translate(239.2,440.320) rotate(0.05) scale(0.435)" font-size="10" fill="#1a1a1a">CEACAM6</text>
<text transform="translate(239.2,443.951) rotate(0.05) scale(0.435)" font-size="10" fill="#1a1a1a">TMEM170B</text>
<text transform="translate(239.2,447.582) rotate(0.05) scale(0.435)" font-size="10" fill="#1a1a1a">LCN2</text>
<text transform="translate(239.2,451.213) rotate(0.05) scale(0.435)" font-size="10" fill="#1a1a1a">PRSS12</text>
<text transform="translate(239.2,454.844) rotate(0.05) scale(0.435)" font-size="10" fill="#1a1a1a">SOCS3</text>
<text transform="translate(239.2,458.475) rotate(0.05) scale(0.435)" font-size="10" fill="#1a1a1a">CLC</text>
<text transform="translate(239.2,462.106) rotate(0.05) scale(0.435)" font-size="10" fill="#1a1a1a">TSPAN2</text>
<text transform="translate(239.2,465.737) rotate(0.05) scale(0.435)" font-size="10" fill="#1a1a1a">PADI4</text>
<text transform="translate(239.2,469.368) rotate(0.05) scale(0.435)" font-size="10" fill="#1a1a1a">ANGPT1</text>
<text transform="translate(239.2,472.999) rotate(0.05) scale(0.435)" font-size="10" fill="#1a1a1a">AC091351.1</text>
<text transform="translate(239.2,476.630) rotate(0.05) scale(0.435)" font-size="10" fill="#1a1a1a">PHACTR3</text>
<text transform="translate(239.2,480.261) rotate(0.05) scale(0.435)" font-size="10" fill="#1a1a1a">HCK</text>
<text transform="translate(239.2,483.892) rotate(0.05) scale(0.435)" font-size="10" fill="#1a1a1a">HOXA1</text>
<text transform="translate(239.2,487.523) rotate(0.05) scale(0.435)" font-size="10" fill="#1a1a1a">SNX10</text>
<text transform="translate(239.2,491.154) rotate(0.05) scale(0.435)" font-size="10" fill="#1a1a1a">MMP8</text>
<text transform="translate(239.2,494.785) rotate(0.05) scale(0.435)" font-size="10" fill="#1a1a1a">AHSP</text>
<text transform="translate(239.2,498.416) rotate(0.05) scale(0.435)" font-size="10" fill="#1a1a1a">CA2</text>
<text transform="translate(239.2,502.047) rotate(0.05) scale(0.435)" font-size="10" fill="#1a1a1a">CHRDL1</text>
<text transform="translate(239.2,505.678) rotate(0.05) scale(0.435)" font-size="10" fill="#1a1a1a">BCL6</text>
<text transform="translate(239.2,509.309) rotate(0.05) scale(0.435)" font-size="10" fill="#1a1a1a">CD9</text>
<text transform="translate(239.2,512.939) rotate(0.05) scale(0.435)" font-size="10" fill="#1a1a1a">PDGFRB</text>
<text transform="translate(239.2,516.571) rotate(0.05) scale(0.435)" font-size="10" fill="#1a1a1a">KLF4</text>
<text transform="translate(239.2,520.201) rotate(0.05) scale(0.435)" font-size="10" fill="#1a1a1a">ZFHX3</text>
<text transform="translate(239.2,523.832) rotate(0.05) scale(0.435)" font-size="10" fill="#1a1a1a">RHOB</text>
<text transform="translate(239.2,527.463) rotate(0.05) scale(0.435)" font-size="10" fill="#1a1a1a">IL13RA1</text>
<text transform="translate(239.2,531.094) rotate(0.05) scale(0.435)" font-size="10" fill="#1a1a1a">ZNF287</text>
<text transform="translate(239.2,534.726) rotate(0.05) scale(0.435)" font-size="10" fill="#1a1a1a">LSP1</text>
<text transform="translate(239.2,538.356) rotate(0.05) scale(0.435)" font-size="10" fill="#1a1a1a">SLC16A3</text>
<text transform="translate(239.2,541.987) rotate(0.05) scale(0.435)" font-size="10" fill="#1a1a1a">TMEM100</text>
<text transform="translate(239.2,545.619) rotate(0.05) scale(0.435)" font-size="10" fill="#1a1a1a">DLL1</text>
<text transform="translate(239.2,549.249) rotate(0.05) scale(0.435)" font-size="10" fill="#1a1a1a">RIN1</text>
<text transform="translate(239.2,552.880) rotate(0.05) scale(0.435)" font-size="10" fill="#1a1a1a">AL079338.1</text>
<text transform="translate(239.2,556.511) rotate(0.05) scale(0.435)" font-size="10" fill="#1a1a1a">AGBL2</text>
<text transform="translate(239.2,560.142) rotate(0.05) scale(0.435)" font-size="10" fill="#1a1a1a">MMP9</text>
<text transform="translate(239.2,563.774) rotate(0.05) scale(0.435)" font-size="10" fill="#1a1a1a">TNFRSF13C</text>
<text transform="translate(239.2,567.404) rotate(0.05) scale(0.435)" font-size="10" fill="#1a1a1a">IRF4</text>
<text transform="translate(239.2,571.035) rotate(0.05) scale(0.435)" font-size="10" fill="#1a1a1a">SPRED1</text>
<text transform="translate(239.2,574.667) rotate(0.05) scale(0.435)" font-size="10" fill="#1a1a1a">LILRA1</text>
<text transform="translate(239.2,578.297) rotate(0.05) scale(0.435)" font-size="10" fill="#1a1a1a">ABCA1</text>
<text transform="translate(239.2,581.928) rotate(0.05) scale(0.435)" font-size="10" fill="#1a1a1a">PMBP1</text>
<text transform="translate(239.2,585.559) rotate(0.05) scale(0.435)" font-size="10" fill="#1a1a1a">PPP1R14A</text>
<text transform="translate(239.2,589.190) rotate(0.05) scale(0.435)" font-size="10" fill="#1a1a1a">EBF3</text>
<text transform="translate(239.2,592.822) rotate(0.05) scale(0.435)" font-size="10" fill="#1a1a1a">DUSP6</text>
<text transform="translate(239.2,596.452) rotate(0.05) scale(0.435)" font-size="10" fill="#1a1a1a">KCNC3</text>
<text transform="translate(239.2,600.083) rotate(0.05) scale(0.435)" font-size="10" fill="#1a1a1a">RDNC3</text>
<text transform="translate(239.2,603.715) rotate(0.05) scale(0.435)" font-size="10" fill="#1a1a1a">LINC20</text>
<text transform="translate(239.2,607.345) rotate(0.05) scale(0.435)" font-size="10" fill="#1a1a1a">LINX01</text>
<text transform="translate(239.2,610.976) rotate(0.05) scale(0.435)" font-size="10" fill="#1a1a1a">ENC1</text>
<text transform="translate(239.2,614.607) rotate(0.05) scale(0.435)" font-size="10" fill="#1a1a1a">S100A16</text>
<text transform="translate(239.2,618.238) rotate(0.05) scale(0.435)" font-size="10" fill="#1a1a1a">CAP1</text>
<text transform="translate(239.2,621.870) rotate(0.05) scale(0.435)" font-size="10" fill="#1a1a1a">CAPRD1</text>
<text transform="translate(239.2,625.500) rotate(0.05) scale(0.435)" font-size="10" fill="#1a1a1a">IRF8</text>
<text transform="translate(239.2,629.131) rotate(0.05) scale(0.435)" font-size="10" fill="#1a1a1a">GPR176</text>
<text transform="translate(239.2,632.763) rotate(0.05) scale(0.435)" font-size="10" fill="#1a1a1a">KPG2</text>
<text transform="translate(239.2,636.393) rotate(0.05) scale(0.435)" font-size="10" fill="#1a1a1a">ACOX2</text>
<text transform="translate(239.2,640.024) rotate(0.05) scale(0.435)" font-size="10" fill="#1a1a1a">BMP2</text>
<text transform="translate(239.2,643.655) rotate(0.05) scale(0.435)" font-size="10" fill="#1a1a1a">FKOA</text>
<text transform="translate(239.2,647.286) rotate(0.05) scale(0.435)" font-size="10" fill="#1a1a1a">TRNAS</text>
<text transform="translate(239.2,650.918) rotate(0.05) scale(0.435)" font-size="10" fill="#1a1a1a">AK5</text>
<text transform="translate(239.2,654.548) rotate(0.05) scale(0.435)" font-size="10" fill="#1a1a1a">MYBPC3</text>
<text transform="translate(239.2,658.179) rotate(0.05) scale(0.435)" font-size="10" fill="#1a1a1a">ERBB4</text>
<text transform="translate(239.2,661.811) rotate(0.05) scale(0.435)" font-size="10" fill="#1a1a1a">EFEMP1</text>
<text transform="translate(239.2,665.441) rotate(0.05) scale(0.435)" font-size="10" fill="#1a1a1a">PTH1R</text>
<text transform="translate(239.2,669.072) rotate(0.05) scale(0.435)" font-size="10" fill="#1a1a1a">KSG1</text>
<text transform="translate(239.2,672.703) rotate(0.05) scale(0.435)" font-size="10" fill="#1a1a1a">HAGGCF1B</text>
<text transform="translate(239.2,676.334) rotate(0.05) scale(0.435)" font-size="10" fill="#1a1a1a">CYB5D2</text>
<rect x="269.60" y="317.60" width="7.10" height="99.70" fill="url(#cb)" />
<text transform="translate(279.80,329.95) rotate(0.04)" x="0" y="0" font-size="6.9" text-anchor="start" fill="#333" stroke="#333" stroke-width="0.2" >3</text>
<text transform="translate(279.80,343.45) rotate(0.04)" x="0" y="0" font-size="6.9" text-anchor="start" fill="#333" stroke="#333" stroke-width="0.2" >2</text>
<text transform="translate(279.80,356.95) rotate(0.04)" x="0" y="0" font-size="6.9" text-anchor="start" fill="#333" stroke="#333" stroke-width="0.2" >1</text>
<text transform="translate(279.80,370.45) rotate(0.04)" x="0" y="0" font-size="6.9" text-anchor="start" fill="#333" stroke="#333" stroke-width="0.2" >0</text>
<text transform="translate(285.60,383.95) rotate(0.04)" x="0" y="0" font-size="6.9" text-anchor="end" fill="#333" stroke="#333" stroke-width="0.2" >−1</text>
<text transform="translate(285.60,397.45) rotate(0.04)" x="0" y="0" font-size="6.9" text-anchor="end" fill="#333" stroke="#333" stroke-width="0.2" >−2</text>
<text transform="translate(285.60,410.95) rotate(0.04)" x="0" y="0" font-size="6.9" text-anchor="end" fill="#333" stroke="#333" stroke-width="0.2" >−3</text>
<text transform="translate(286.00,323.34) rotate(0.04)" x="0" y="0" font-size="6.3" text-anchor="start" fill="#333" stroke="#333" stroke-width="0.2" textLength="31.90" lengthAdjust="spacingAndGlyphs" >circAFF1_A</text>
<rect x="286.70" y="326.00" width="4.00" height="7.00" fill="#3d9fd3" />
<text transform="translate(293.70,331.84) rotate(0.04)" x="0" y="0" font-size="6.3" text-anchor="start" fill="#333" stroke="#333" stroke-width="0.2" textLength="11.00" lengthAdjust="spacingAndGlyphs" >Low</text>
<rect x="286.70" y="336.20" width="4.00" height="7.40" fill="#d52470" />
<text transform="translate(293.70,342.34) rotate(0.04)" x="0" y="0" font-size="6.3" text-anchor="start" fill="#333" stroke="#333" stroke-width="0.2" textLength="12.80" lengthAdjust="spacingAndGlyphs" >High</text>
<text transform="translate(411.45,317.44) rotate(0.04)" x="0" y="0" font-size="6.6" text-anchor="middle" fill="#231f20" stroke="#231f20" stroke-width="0.2" textLength="110.50" lengthAdjust="spacingAndGlyphs" >ROSS LEUKEMIA WITH MLL FUSIONS</text>
<line x1="357.70" y1="366.90" x2="477.70" y2="366.90" stroke="#e2e2e2" stroke-width="0.8" />
<rect x="357.90" y="374.00" width="3.10" height="16.70" fill="rgb(95,95,95)"/>
<rect x="361.00" y="374.00" width="0.80" height="16.70" fill="rgb(60,60,60)"/>
<rect x="363.70" y="374.00" width="2.30" height="16.70" fill="rgb(150,150,150)"/>
<rect x="367.90" y="374.00" width="3.10" height="16.70" fill="rgb(170,170,170)"/>
<rect x="373.70" y="374.00" width="2.30" height="16.70" fill="rgb(150,150,150)"/>
<rect x="376.80" y="374.00" width="1.50" height="16.70" fill="rgb(185,185,185)"/>
<rect x="379.00" y="374.00" width="2.00" height="16.70" fill="rgb(80,80,80)"/>
<rect x="384.00" y="374.00" width="1.20" height="16.70" fill="rgb(190,190,190)"/>
<rect x="386.00" y="374.00" width="1.50" height="16.70" fill="rgb(160,160,160)"/>
<rect x="391.00" y="374.00" width="1.50" height="16.70" fill="rgb(185,185,185)"/>
<rect x="395.90" y="374.00" width="1.90" height="16.70" fill="rgb(135,135,135)"/>
<rect x="400.90" y="374.00" width="1.10" height="16.70" fill="rgb(175,175,175)"/>
<rect x="403.00" y="374.00" width="1.00" height="16.70" fill="rgb(175,175,175)"/>
<rect x="406.70" y="374.00" width="3.50" height="16.70" fill="rgb(170,170,170)"/>
<rect x="410.90" y="374.00" width="1.30" height="16.70" fill="rgb(145,145,145)"/>
<rect x="412.80" y="374.00" width="1.20" height="16.70" fill="rgb(145,145,145)"/>
<rect x="414.80" y="374.00" width="3.80" height="16.70" fill="rgb(185,185,185)"/>
<rect x="424.80" y="374.00" width="1.90" height="16.70" fill="rgb(115,115,115)"/>
<rect x="427.50" y="374.00" width="1.50" height="16.70" fill="rgb(145,145,145)"/>
<rect x="431.00" y="374.00" width="1.50" height="16.70" fill="rgb(180,180,180)"/>
<rect x="435.50" y="374.00" width="2.30" height="16.70" fill="rgb(145,145,145)"/>
<rect x="446.30" y="374.00" width="2.70" height="16.70" fill="rgb(175,175,175)"/>
<rect x="451.30" y="374.00" width="1.90" height="16.70" fill="rgb(130,130,130)"/>
<rect x="458.60" y="374.00" width="1.90" height="16.70" fill="rgb(185,185,185)"/>
<rect x="462.00" y="374.00" width="1.60" height="16.70" fill="rgb(140,140,140)"/>
<rect x="466.30" y="374.00" width="1.20" height="16.70" fill="rgb(155,155,155)"/>
<rect x="469.00" y="374.00" width="1.20" height="16.70" fill="rgb(155,155,155)"/>
<rect x="471.70" y="374.00" width="0.60" height="16.70" fill="rgb(180,180,180)"/>
<rect x="357.70" y="390.70" width="114.60" height="4.10" fill="url(#rk1)" />
<polyline points="357.70,337.11 359.20,331.15 362.10,326.52 366.00,324.53 370.80,325.19 374.60,325.86 378.50,326.52 380.40,326.52 384.20,328.50 397.70,335.12 416.90,345.72 436.20,356.31 448.80,361.60 458.50,365.84 466.20,368.89 471.90,370.21 472.50,366.90" fill="none" stroke="#80bb3c" stroke-width="1.35" stroke-linejoin="round"/>
<line x1="355.10" y1="366.90" x2="357.70" y2="366.90" stroke="#231f20" stroke-width="0.9" />
<text transform="translate(351.80,369.31) rotate(0.04)" x="0" y="0" font-size="6.8" text-anchor="end" fill="#231f20" stroke="#231f20" stroke-width="0.2" textLength="8.80" lengthAdjust="spacingAndGlyphs" >0.0</text>
<line x1="355.10" y1="360.28" x2="357.70" y2="360.28" stroke="#231f20" stroke-width="0.9" />
<text transform="translate(351.80,362.69) rotate(0.04)" x="0" y="0" font-size="6.8" text-anchor="end" fill="#231f20" stroke="#231f20" stroke-width="0.2" textLength="8.80" lengthAdjust="spacingAndGlyphs" >0.1</text>
<line x1="355.10" y1="353.66" x2="357.70" y2="353.66" stroke="#231f20" stroke-width="0.9" />
<text transform="translate(351.80,356.07) rotate(0.04)" x="0" y="0" font-size="6.8" text-anchor="end" fill="#231f20" stroke="#231f20" stroke-width="0.2" textLength="8.80" lengthAdjust="spacingAndGlyphs" >0.2</text>
<line x1="355.10" y1="347.04" x2="357.70" y2="347.04" stroke="#231f20" stroke-width="0.9" />
<text transform="translate(351.80,349.45) rotate(0.04)" x="0" y="0" font-size="6.8" text-anchor="end" fill="#231f20" stroke="#231f20" stroke-width="0.2" textLength="8.80" lengthAdjust="spacingAndGlyphs" >0.3</text>
<line x1="355.10" y1="340.42" x2="357.70" y2="340.42" stroke="#231f20" stroke-width="0.9" />
<text transform="translate(351.80,342.83) rotate(0.04)" x="0" y="0" font-size="6.8" text-anchor="end" fill="#231f20" stroke="#231f20" stroke-width="0.2" textLength="8.80" lengthAdjust="spacingAndGlyphs" >0.4</text>
<line x1="355.10" y1="333.80" x2="357.70" y2="333.80" stroke="#231f20" stroke-width="0.9" />
<text transform="translate(351.80,336.21) rotate(0.04)" x="0" y="0" font-size="6.8" text-anchor="end" fill="#231f20" stroke="#231f20" stroke-width="0.2" textLength="8.80" lengthAdjust="spacingAndGlyphs" >0.5</text>
<line x1="355.10" y1="327.18" x2="357.70" y2="327.18" stroke="#231f20" stroke-width="0.9" />
<text transform="translate(351.80,329.59) rotate(0.04)" x="0" y="0" font-size="6.8" text-anchor="end" fill="#231f20" stroke="#231f20" stroke-width="0.2" textLength="8.80" lengthAdjust="spacingAndGlyphs" >0.6</text>
<rect x="357.7" y="321.9" width="120.0" height="72.90000000000003" fill="none" stroke="#231f20" stroke-width="1.1"/>
<text transform="translate(429.20,329.84) rotate(0.04)" x="0" y="0" font-size="6.6" text-anchor="start" fill="#231f20" stroke="#231f20" stroke-width="0.2" textLength="32.10" lengthAdjust="spacingAndGlyphs" >NES = 2.27</text>
<text transform="translate(429.20,337.24) rotate(0.04)" x="0" y="0" font-size="6.6" text-anchor="start" fill="#231f20" stroke="#231f20" stroke-width="0.2" textLength="42.70" lengthAdjust="spacingAndGlyphs" >FDRq-value = 0</text>
<text transform="translate(351.00,403.01) rotate(0.04)" x="0" y="0" font-size="6.8" text-anchor="start" fill="#333" stroke="#333" stroke-width="0.2" textLength="12.80" lengthAdjust="spacingAndGlyphs" >High</text>
<text transform="translate(460.40,403.01) rotate(0.04)" x="0" y="0" font-size="6.8" text-anchor="start" fill="#333" stroke="#333" stroke-width="0.2" textLength="11.10" lengthAdjust="spacingAndGlyphs" >Low</text>
<text transform="translate(334.40,358.30) rotate(-90)" x="0" y="2.63" font-size="7.4" text-anchor="middle" fill="#231f20" stroke="#231f20" stroke-width="0.2" textLength="28.60" lengthAdjust="spacingAndGlyphs" >circAFF1_A</text>
<text transform="translate(410.35,419.04) rotate(0.04)" x="0" y="0" font-size="6.6" text-anchor="middle" fill="#231f20" stroke="#231f20" stroke-width="0.2" textLength="101.90" lengthAdjust="spacingAndGlyphs" >MULLIGHAN MLL SIGNATURE 1 UP</text>
<line x1="357.70" y1="470.60" x2="477.70" y2="470.60" stroke="#e2e2e2" stroke-width="0.8" />
<rect x="357.80" y="476.70" width="0.65" height="16.00" fill="rgb(67,67,67)"/>
<rect x="358.40" y="476.70" width="0.65" height="16.00" fill="rgb(10,10,10)"/>
<rect x="359.00" y="476.70" width="0.65" height="16.00" fill="rgb(35,35,35)"/>
<rect x="359.60" y="476.70" width="0.65" height="16.00" fill="rgb(40,40,40)"/>
<rect x="360.20" y="476.70" width="0.65" height="16.00" fill="rgb(43,43,43)"/>
<rect x="360.80" y="476.70" width="0.65" height="16.00" fill="rgb(54,54,54)"/>
<rect x="361.40" y="476.70" width="0.65" height="16.00" fill="rgb(17,17,17)"/>
<rect x="362.00" y="476.70" width="0.65" height="16.00" fill="rgb(66,66,66)"/>
<rect x="362.60" y="476.70" width="0.65" height="16.00" fill="rgb(70,70,70)"/>
<rect x="363.20" y="476.70" width="0.65" height="16.00" fill="rgb(40,40,40)"/>
<rect x="363.80" y="476.70" width="0.65" height="16.00" fill="rgb(5,5,5)"/>
<rect x="364.40" y="476.70" width="0.65" height="16.00" fill="rgb(79,79,79)"/>
<rect x="365.00" y="476.70" width="0.65" height="16.00" fill="rgb(56,56,56)"/>
<rect x="365.60" y="476.70" width="0.65" height="16.00" fill="rgb(22,22,22)"/>
<rect x="366.20" y="476.70" width="0.65" height="16.00" fill="rgb(54,54,54)"/>
<rect x="366.80" y="476.70" width="0.65" height="16.00" fill="rgb(0,0,0)"/>
<rect x="367.40" y="476.70" width="0.65" height="16.00" fill="rgb(240,240,240)"/>
<rect x="368.00" y="476.70" width="0.65" height="16.00" fill="rgb(255,255,255)"/>
<rect x="368.60" y="476.70" width="0.65" height="16.00" fill="rgb(26,26,26)"/>
<rect x="369.20" y="476.70" width="0.65" height="16.00" fill="rgb(20,20,20)"/>
<rect x="369.80" y="476.70" width="0.65" height="16.00" fill="rgb(255,255,255)"/>
<rect x="370.40" y="476.70" width="0.65" height="16.00" fill="rgb(22,22,22)"/>
<rect x="371.00" y="476.70" width="0.65" height="16.00" fill="rgb(77,77,77)"/>
<rect x="371.60" y="476.70" width="0.65" height="16.00" fill="rgb(25,25,25)"/>
<rect x="372.20" y="476.70" width="0.65" height="16.00" fill="rgb(78,78,78)"/>
<rect x="372.80" y="476.70" width="0.65" height="16.00" fill="rgb(34,34,34)"/>
<rect x="373.40" y="476.70" width="0.65" height="16.00" fill="rgb(54,54,54)"/>
<rect x="374.00" y="476.70" width="0.65" height="16.00" fill="rgb(240,240,240)"/>
<rect x="374.60" y="476.70" width="0.65" height="16.00" fill="rgb(255,255,255)"/>
<rect x="375.20" y="476.70" width="0.65" height="16.00" fill="rgb(46,46,46)"/>
<rect x="375.80" y="476.70" width="0.65" height="16.00" fill="rgb(71,71,71)"/>
<rect x="376.40" y="476.70" width="0.65" height="16.00" fill="rgb(50,50,50)"/>
<rect x="377.00" y="476.70" width="0.65" height="16.00" fill="rgb(70,70,70)"/>
<rect x="377.60" y="476.70" width="0.65" height="16.00" fill="rgb(225,225,225)"/>
<rect x="378.20" y="476.70" width="0.65" height="16.00" fill="rgb(25,25,25)"/>
<rect x="378.80" y="476.70" width="0.65" height="16.00" fill="rgb(1,1,1)"/>
<rect x="379.40" y="476.70" width="0.65" height="16.00" fill="rgb(86,86,86)"/>
<rect x="380.00" y="476.70" width="0.65" height="16.00" fill="rgb(200,200,200)"/>
<rect x="380.60" y="476.70" width="0.65" height="16.00" fill="rgb(41,41,41)"/>
<rect x="381.20" y="476.70" width="0.65" height="16.00" fill="rgb(23,23,23)"/>
<rect x="381.80" y="476.70" width="0.65" height="16.00" fill="rgb(78,78,78)"/>
<rect x="382.40" y="476.70" width="0.65" height="16.00" fill="rgb(41,41,41)"/>
<rect x="383.00" y="476.70" width="0.65" height="16.00" fill="rgb(240,240,240)"/>
<rect x="383.60" y="476.70" width="0.65" height="16.00" fill="rgb(89,89,89)"/>
<rect x="384.20" y="476.70" width="0.65" height="16.00" fill="rgb(21,21,21)"/>
<rect x="384.80" y="476.70" width="0.65" height="16.00" fill="rgb(6,6,6)"/>
<rect x="385.40" y="476.70" width="0.65" height="16.00" fill="rgb(88,88,88)"/>
<rect x="386.00" y="476.70" width="0.65" height="16.00" fill="rgb(82,82,82)"/>
<rect x="386.60" y="476.70" width="0.65" height="16.00" fill="rgb(69,69,69)"/>
<rect x="387.20" y="476.70" width="0.65" height="16.00" fill="rgb(78,78,78)"/>
<rect x="387.80" y="476.70" width="0.65" height="16.00" fill="rgb(255,255,255)"/>
<rect x="388.40" y="476.70" width="0.65" height="16.00" fill="rgb(255,255,255)"/>
<rect x="389.00" y="476.70" width="0.65" height="16.00" fill="rgb(8,8,8)"/>
<rect x="389.60" y="476.70" width="0.65" height="16.00" fill="rgb(74,74,74)"/>
<rect x="390.20" y="476.70" width="0.65" height="16.00" fill="rgb(20,20,20)"/>
<rect x="390.80" y="476.70" width="0.65" height="16.00" fill="rgb(68,68,68)"/>
<rect x="391.40" y="476.70" width="0.65" height="16.00" fill="rgb(225,225,225)"/>
<rect x="392.00" y="476.70" width="0.65" height="16.00" fill="rgb(73,73,73)"/>
<rect x="392.60" y="476.70" width="0.65" height="16.00" fill="rgb(93,93,93)"/>
<rect x="393.20" y="476.70" width="0.65" height="16.00" fill="rgb(96,96,96)"/>
<rect x="393.80" y="476.70" width="0.65" height="16.00" fill="rgb(240,240,240)"/>
<rect x="394.40" y="476.70" width="0.65" height="16.00" fill="rgb(70,70,70)"/>
<rect x="395.00" y="476.70" width="0.65" height="16.00" fill="rgb(41,41,41)"/>
<rect x="395.60" y="476.70" width="0.65" height="16.00" fill="rgb(39,39,39)"/>
<rect x="396.20" y="476.70" width="0.65" height="16.00" fill="rgb(66,66,66)"/>
<rect x="396.80" y="476.70" width="0.65" height="16.00" fill="rgb(255,255,255)"/>
<rect x="397.40" y="476.70" width="0.65" height="16.00" fill="rgb(78,78,78)"/>
<rect x="398.00" y="476.70" width="0.65" height="16.00" fill="rgb(102,102,102)"/>
<rect x="398.60" y="476.70" width="0.65" height="16.00" fill="rgb(97,97,97)"/>
<rect x="399.20" y="476.70" width="0.65" height="16.00" fill="rgb(65,65,65)"/>
<rect x="399.80" y="476.70" width="0.65" height="16.00" fill="rgb(78,78,78)"/>
<rect x="400.40" y="476.70" width="0.65" height="16.00" fill="rgb(225,225,225)"/>
<rect x="401.00" y="476.70" width="0.65" height="16.00" fill="rgb(41,41,41)"/>
<rect x="401.60" y="476.70" width="0.65" height="16.00" fill="rgb(87,87,87)"/>
<rect x="402.20" y="476.70" width="0.65" height="16.00" fill="rgb(89,89,89)"/>
<rect x="402.80" y="476.70" width="0.65" height="16.00" fill="rgb(67,67,67)"/>
<rect x="403.40" y="476.70" width="0.65" height="16.00" fill="rgb(33,33,33)"/>
<rect x="404.00" y="476.70" width="0.65" height="16.00" fill="rgb(50,50,50)"/>
<rect x="404.60" y="476.70" width="0.65" height="16.00" fill="rgb(57,57,57)"/>
<rect x="405.20" y="476.70" width="0.65" height="16.00" fill="rgb(90,90,90)"/>
<rect x="405.80" y="476.70" width="0.65" height="16.00" fill="rgb(225,225,225)"/>
<rect x="406.40" y="476.70" width="0.65" height="16.00" fill="rgb(225,225,225)"/>
<rect x="407.00" y="476.70" width="0.65" height="16.00" fill="rgb(100,100,100)"/>
<rect x="407.60" y="476.70" width="0.65" height="16.00" fill="rgb(28,28,28)"/>
<rect x="408.20" y="476.70" width="0.65" height="16.00" fill="rgb(240,240,240)"/>
<rect x="408.80" y="476.70" width="0.65" height="16.00" fill="rgb(225,225,225)"/>
<rect x="409.40" y="476.70" width="0.65" height="16.00" fill="rgb(53,53,53)"/>
<rect x="410.00" y="476.70" width="0.65" height="16.00" fill="rgb(97,97,97)"/>
<rect x="410.60" y="476.70" width="0.65" height="16.00" fill="rgb(34,34,34)"/>
<rect x="411.20" y="476.70" width="0.65" height="16.00" fill="rgb(225,225,225)"/>
<rect x="411.80" y="476.70" width="0.65" height="16.00" fill="rgb(49,49,49)"/>
<rect x="412.40" y="476.70" width="0.65" height="16.00" fill="rgb(225,225,225)"/>
<rect x="413.00" y="476.70" width="0.65" height="16.00" fill="rgb(82,82,82)"/>
<rect x="413.60" y="476.70" width="0.65" height="16.00" fill="rgb(31,31,31)"/>
<rect x="414.20" y="476.70" width="0.65" height="16.00" fill="rgb(62,62,62)"/>
<rect x="414.80" y="476.70" width="0.65" height="16.00" fill="rgb(44,44,44)"/>
<rect x="415.40" y="476.70" width="0.65" height="16.00" fill="rgb(240,240,240)"/>
<rect x="416.00" y="476.70" width="0.65" height="16.00" fill="rgb(78,78,78)"/>
<rect x="416.60" y="476.70" width="0.65" height="16.00" fill="rgb(32,32,32)"/>
<rect x="417.20" y="476.70" width="0.65" height="16.00" fill="rgb(117,117,117)"/>
<rect x="417.80" y="476.70" width="0.65" height="16.00" fill="rgb(46,46,46)"/>
<rect x="418.40" y="476.70" width="0.65" height="16.00" fill="rgb(79,79,79)"/>
<rect x="419.00" y="476.70" width="0.65" height="16.00" fill="rgb(103,103,103)"/>
<rect x="419.60" y="476.70" width="0.65" height="16.00" fill="rgb(116,116,116)"/>
<rect x="420.20" y="476.70" width="0.65" height="16.00" fill="rgb(225,225,225)"/>
<rect x="420.80" y="476.70" width="0.65" height="16.00" fill="rgb(85,85,85)"/>
<rect x="421.40" y="476.70" width="0.65" height="16.00" fill="rgb(120,120,120)"/>
<rect x="422.00" y="476.70" width="0.65" height="16.00" fill="rgb(117,117,117)"/>
<rect x="422.60" y="476.70" width="0.65" height="16.00" fill="rgb(85,85,85)"/>
<rect x="423.20" y="476.70" width="0.65" height="16.00" fill="rgb(77,77,77)"/>
<rect x="423.80" y="476.70" width="0.65" height="16.00" fill="rgb(114,114,114)"/>
<rect x="424.40" y="476.70" width="0.65" height="16.00" fill="rgb(225,225,225)"/>
<rect x="425.00" y="476.70" width="0.65" height="16.00" fill="rgb(36,36,36)"/>
<rect x="425.60" y="476.70" width="0.65" height="16.00" fill="rgb(92,92,92)"/>
<rect x="426.20" y="476.70" width="0.65" height="16.00" fill="rgb(61,61,61)"/>
<rect x="426.80" y="476.70" width="0.65" height="16.00" fill="rgb(80,80,80)"/>
<rect x="427.40" y="476.70" width="0.65" height="16.00" fill="rgb(63,63,63)"/>
<rect x="428.00" y="476.70" width="0.65" height="16.00" fill="rgb(240,240,240)"/>
<rect x="428.60" y="476.70" width="0.65" height="16.00" fill="rgb(62,62,62)"/>
<rect x="429.20" y="476.70" width="0.65" height="16.00" fill="rgb(74,74,74)"/>
<rect x="429.80" y="476.70" width="0.65" height="16.00" fill="rgb(95,95,95)"/>
<rect x="430.40" y="476.70" width="0.65" height="16.00" fill="rgb(86,86,86)"/>
<rect x="431.00" y="476.70" width="0.65" height="16.00" fill="rgb(87,87,87)"/>
<rect x="431.60" y="476.70" width="0.65" height="16.00" fill="rgb(108,108,108)"/>
<rect x="432.20" y="476.70" width="0.65" height="16.00" fill="rgb(49,49,49)"/>
<rect x="432.80" y="476.70" width="0.65" height="16.00" fill="rgb(225,225,225)"/>
<rect x="433.40" y="476.70" width="0.65" height="16.00" fill="rgb(131,131,131)"/>
<rect x="434.00" y="476.70" width="0.65" height="16.00" fill="rgb(240,240,240)"/>
<rect x="434.60" y="476.70" width="0.65" height="16.00" fill="rgb(240,240,240)"/>
<rect x="435.20" y="476.70" width="0.65" height="16.00" fill="rgb(73,73,73)"/>
<rect x="435.80" y="476.70" width="0.65" height="16.00" fill="rgb(75,75,75)"/>
<rect x="436.40" y="476.70" width="0.65" height="16.00" fill="rgb(43,43,43)"/>
<rect x="437.00" y="476.70" width="0.65" height="16.00" fill="rgb(255,255,255)"/>
<rect x="437.60" y="476.70" width="0.65" height="16.00" fill="rgb(255,255,255)"/>
<rect x="438.20" y="476.70" width="0.65" height="16.00" fill="rgb(50,50,50)"/>
<rect x="438.80" y="476.70" width="0.65" height="16.00" fill="rgb(225,225,225)"/>
<rect x="439.40" y="476.70" width="0.65" height="16.00" fill="rgb(111,111,111)"/>
<rect x="440.00" y="476.70" width="0.65" height="16.00" fill="rgb(79,79,79)"/>
<rect x="440.60" y="476.70" width="0.65" height="16.00" fill="rgb(225,225,225)"/>
<rect x="441.20" y="476.70" width="0.65" height="16.00" fill="rgb(240,240,240)"/>
<rect x="441.80" y="476.70" width="0.65" height="16.00" fill="rgb(90,90,90)"/>
<rect x="442.40" y="476.70" width="0.65" height="16.00" fill="rgb(113,113,113)"/>
<rect x="443.00" y="476.70" width="0.65" height="16.00" fill="rgb(91,91,91)"/>
<rect x="443.60" y="476.70" width="0.65" height="16.00" fill="rgb(240,240,240)"/>
<rect x="444.20" y="476.70" width="0.65" height="16.00" fill="rgb(131,131,131)"/>
<rect x="444.80" y="476.70" width="0.65" height="16.00" fill="rgb(113,113,113)"/>
<rect x="445.40" y="476.70" width="0.65" height="16.00" fill="rgb(65,65,65)"/>
<rect x="446.00" y="476.70" width="0.65" height="16.00" fill="rgb(80,80,80)"/>
<rect x="446.60" y="476.70" width="0.65" height="16.00" fill="rgb(200,200,200)"/>
<rect x="447.20" y="476.70" width="0.65" height="16.00" fill="rgb(130,130,130)"/>
<rect x="447.80" y="476.70" width="0.65" height="16.00" fill="rgb(97,97,97)"/>
<rect x="448.40" y="476.70" width="0.65" height="16.00" fill="rgb(114,114,114)"/>
<rect x="449.00" y="476.70" width="0.65" height="16.00" fill="rgb(55,55,55)"/>
<rect x="449.60" y="476.70" width="0.65" height="16.00" fill="rgb(99,99,99)"/>
<rect x="450.20" y="476.70" width="0.65" height="16.00" fill="rgb(240,240,240)"/>
<rect x="450.80" y="476.70" width="0.65" height="16.00" fill="rgb(61,61,61)"/>
<rect x="451.40" y="476.70" width="0.65" height="16.00" fill="rgb(120,120,120)"/>
<rect x="452.00" y="476.70" width="0.65" height="16.00" fill="rgb(200,200,200)"/>
<rect x="452.60" y="476.70" width="0.65" height="16.00" fill="rgb(200,200,200)"/>
<rect x="453.20" y="476.70" width="0.65" height="16.00" fill="rgb(85,85,85)"/>
<rect x="453.80" y="476.70" width="0.65" height="16.00" fill="rgb(240,240,240)"/>
<rect x="454.40" y="476.70" width="0.65" height="16.00" fill="rgb(91,91,91)"/>
<rect x="455.00" y="476.70" width="0.65" height="16.00" fill="rgb(101,101,101)"/>
<rect x="455.60" y="476.70" width="0.65" height="16.00" fill="rgb(255,255,255)"/>
<rect x="456.20" y="476.70" width="0.65" height="16.00" fill="rgb(93,93,93)"/>
<rect x="456.80" y="476.70" width="0.65" height="16.00" fill="rgb(66,66,66)"/>
<rect x="457.40" y="476.70" width="0.65" height="16.00" fill="rgb(225,225,225)"/>
<rect x="458.00" y="476.70" width="0.65" height="16.00" fill="rgb(88,88,88)"/>
<rect x="458.60" y="476.70" width="0.65" height="16.00" fill="rgb(149,149,149)"/>
<rect x="459.20" y="476.70" width="0.65" height="16.00" fill="rgb(105,105,105)"/>
<rect x="459.80" y="476.70" width="0.65" height="16.00" fill="rgb(255,255,255)"/>
<rect x="460.40" y="476.70" width="0.65" height="16.00" fill="rgb(255,255,255)"/>
<rect x="461.00" y="476.70" width="0.65" height="16.00" fill="rgb(143,143,143)"/>
<rect x="461.60" y="476.70" width="0.65" height="16.00" fill="rgb(152,152,152)"/>
<rect x="462.20" y="476.70" width="0.65" height="16.00" fill="rgb(200,200,200)"/>
<rect x="462.80" y="476.70" width="0.65" height="16.00" fill="rgb(137,137,137)"/>
<rect x="463.40" y="476.70" width="0.65" height="16.00" fill="rgb(145,145,145)"/>
<rect x="464.00" y="476.70" width="0.65" height="16.00" fill="rgb(65,65,65)"/>
<rect x="464.60" y="476.70" width="0.65" height="16.00" fill="rgb(116,116,116)"/>
<rect x="465.20" y="476.70" width="0.65" height="16.00" fill="rgb(94,94,94)"/>
<rect x="465.80" y="476.70" width="0.65" height="16.00" fill="rgb(141,141,141)"/>
<rect x="466.40" y="476.70" width="0.65" height="16.00" fill="rgb(130,130,130)"/>
<rect x="467.00" y="476.70" width="0.65" height="16.00" fill="rgb(87,87,87)"/>
<rect x="467.60" y="476.70" width="0.65" height="16.00" fill="rgb(116,116,116)"/>
<rect x="468.20" y="476.70" width="0.65" height="16.00" fill="rgb(240,240,240)"/>
<rect x="468.80" y="476.70" width="0.65" height="16.00" fill="rgb(225,225,225)"/>
<rect x="469.40" y="476.70" width="0.65" height="16.00" fill="rgb(240,240,240)"/>
<rect x="470.00" y="476.70" width="0.65" height="16.00" fill="rgb(71,71,71)"/>
<rect x="470.60" y="476.70" width="0.65" height="16.00" fill="rgb(101,101,101)"/>
<rect x="471.20" y="476.70" width="0.65" height="16.00" fill="rgb(95,95,95)"/>
<rect x="471.80" y="476.70" width="0.65" height="16.00" fill="rgb(152,152,152)"/>
<rect x="357.70" y="492.70" width="114.60" height="4.20" fill="url(#rk1)" />
<polyline points="357.50,470.60 358.50,448.08 360.40,442.02 363.30,435.96 367.10,432.50 371.90,429.03 377.70,426.43 383.50,426.43 389.20,427.30 396.90,430.76 406.50,435.96 416.20,442.89 420.00,447.22 429.60,455.01 439.20,461.07 448.80,465.84 458.50,469.73 466.20,471.90 469.00,472.94 471.90,471.03" fill="none" stroke="#80bb3c" stroke-width="1.35" stroke-linejoin="round"/>
<line x1="355.10" y1="470.60" x2="357.70" y2="470.60" stroke="#231f20" stroke-width="0.9" />
<text transform="translate(351.80,473.01) rotate(0.04)" x="0" y="0" font-size="6.8" text-anchor="end" fill="#231f20" stroke="#231f20" stroke-width="0.2" textLength="8.80" lengthAdjust="spacingAndGlyphs" >0.0</text>
<line x1="355.10" y1="461.94" x2="357.70" y2="461.94" stroke="#231f20" stroke-width="0.9" />
<text transform="translate(351.80,464.35) rotate(0.04)" x="0" y="0" font-size="6.8" text-anchor="end" fill="#231f20" stroke="#231f20" stroke-width="0.2" textLength="8.80" lengthAdjust="spacingAndGlyphs" >0.1</text>
<line x1="355.10" y1="453.28" x2="357.70" y2="453.28" stroke="#231f20" stroke-width="0.9" />
<text transform="translate(351.80,455.69) rotate(0.04)" x="0" y="0" font-size="6.8" text-anchor="end" fill="#231f20" stroke="#231f20" stroke-width="0.2" textLength="8.80" lengthAdjust="spacingAndGlyphs" >0.2</text>
<line x1="355.10" y1="444.62" x2="357.70" y2="444.62" stroke="#231f20" stroke-width="0.9" />
<text transform="translate(351.80,447.03) rotate(0.04)" x="0" y="0" font-size="6.8" text-anchor="end" fill="#231f20" stroke="#231f20" stroke-width="0.2" textLength="8.80" lengthAdjust="spacingAndGlyphs" >0.3</text>
<line x1="355.10" y1="435.96" x2="357.70" y2="435.96" stroke="#231f20" stroke-width="0.9" />
<text transform="translate(351.80,438.37) rotate(0.04)" x="0" y="0" font-size="6.8" text-anchor="end" fill="#231f20" stroke="#231f20" stroke-width="0.2" textLength="8.80" lengthAdjust="spacingAndGlyphs" >0.4</text>
<line x1="355.10" y1="427.30" x2="357.70" y2="427.30" stroke="#231f20" stroke-width="0.9" />
<text transform="translate(351.80,429.71) rotate(0.04)" x="0" y="0" font-size="6.8" text-anchor="end" fill="#231f20" stroke="#231f20" stroke-width="0.2" textLength="8.80" lengthAdjust="spacingAndGlyphs" >0.5</text>
<rect x="357.7" y="424.0" width="120.0" height="72.89999999999998" fill="none" stroke="#231f20" stroke-width="1.1"/>
<text transform="translate(421.90,433.34) rotate(0.04)" x="0" y="0" font-size="6.6" text-anchor="start" fill="#231f20" stroke="#231f20" stroke-width="0.2" textLength="32.30" lengthAdjust="spacingAndGlyphs" >NES = 2.17</text>
<text transform="translate(421.90,441.24) rotate(0.04)" x="0" y="0" font-size="6.6" text-anchor="start" fill="#231f20" stroke="#231f20" stroke-width="0.2" textLength="52.50" lengthAdjust="spacingAndGlyphs" >FDRq-value <0.001</text>
<text transform="translate(351.00,505.11) rotate(0.04)" x="0" y="0" font-size="6.8" text-anchor="start" fill="#333" stroke="#333" stroke-width="0.2" textLength="12.80" lengthAdjust="spacingAndGlyphs" >High</text>
<text transform="translate(460.40,505.11) rotate(0.04)" x="0" y="0" font-size="6.8" text-anchor="start" fill="#333" stroke="#333" stroke-width="0.2" textLength="11.10" lengthAdjust="spacingAndGlyphs" >Low</text>
<text transform="translate(334.40,459.00) rotate(-90)" x="0" y="2.63" font-size="7.4" text-anchor="middle" fill="#231f20" stroke="#231f20" stroke-width="0.2" textLength="28.60" lengthAdjust="spacingAndGlyphs" >circAFF1_A</text>
<text transform="translate(411.15,522.64) rotate(0.04)" x="0" y="0" font-size="6.6" text-anchor="middle" fill="#231f20" stroke="#231f20" stroke-width="0.2" textLength="102.30" lengthAdjust="spacingAndGlyphs" >MULLIGHAN MLL SIGNATURE 2 UP</text>
<line x1="357.70" y1="573.70" x2="477.70" y2="573.70" stroke="#e2e2e2" stroke-width="0.8" />
<rect x="357.80" y="579.80" width="0.65" height="16.20" fill="rgb(9,9,9)"/>
<rect x="358.40" y="579.80" width="0.65" height="16.20" fill="rgb(57,57,57)"/>
<rect x="359.00" y="579.80" width="0.65" height="16.20" fill="rgb(18,18,18)"/>
<rect x="359.60" y="579.80" width="0.65" height="16.20" fill="rgb(35,35,35)"/>
<rect x="360.20" y="579.80" width="0.65" height="16.20" fill="rgb(46,46,46)"/>
<rect x="360.80" y="579.80" width="0.65" height="16.20" fill="rgb(0,0,0)"/>
<rect x="361.40" y="579.80" width="0.65" height="16.20" fill="rgb(55,55,55)"/>
<rect x="362.00" y="579.80" width="0.65" height="16.20" fill="rgb(0,0,0)"/>
<rect x="362.60" y="579.80" width="0.65" height="16.20" fill="rgb(2,2,2)"/>
<rect x="363.20" y="579.80" width="0.65" height="16.20" fill="rgb(4,4,4)"/>
<rect x="363.80" y="579.80" width="0.65" height="16.20" fill="rgb(0,0,0)"/>
<rect x="364.40" y="579.80" width="0.65" height="16.20" fill="rgb(74,74,74)"/>
<rect x="365.00" y="579.80" width="0.65" height="16.20" fill="rgb(78,78,78)"/>
<rect x="365.60" y="579.80" width="0.65" height="16.20" fill="rgb(240,240,240)"/>
<rect x="366.20" y="579.80" width="0.65" height="16.20" fill="rgb(8,8,8)"/>
<rect x="366.80" y="579.80" width="0.65" height="16.20" fill="rgb(64,64,64)"/>
<rect x="367.40" y="579.80" width="0.65" height="16.20" fill="rgb(3,3,3)"/>
<rect x="368.00" y="579.80" width="0.65" height="16.20" fill="rgb(79,79,79)"/>
<rect x="368.60" y="579.80" width="0.65" height="16.20" fill="rgb(22,22,22)"/>
<rect x="369.20" y="579.80" width="0.65" height="16.20" fill="rgb(22,22,22)"/>
<rect x="369.80" y="579.80" width="0.65" height="16.20" fill="rgb(255,255,255)"/>
<rect x="370.40" y="579.80" width="0.65" height="16.20" fill="rgb(26,26,26)"/>
<rect x="371.00" y="579.80" width="0.65" height="16.20" fill="rgb(79,79,79)"/>
<rect x="371.60" y="579.80" width="0.65" height="16.20" fill="rgb(37,37,37)"/>
<rect x="372.20" y="579.80" width="0.65" height="16.20" fill="rgb(55,55,55)"/>
<rect x="372.80" y="579.80" width="0.65" height="16.20" fill="rgb(62,62,62)"/>
<rect x="373.40" y="579.80" width="0.65" height="16.20" fill="rgb(8,8,8)"/>
<rect x="374.00" y="579.80" width="0.65" height="16.20" fill="rgb(75,75,75)"/>
<rect x="374.60" y="579.80" width="0.65" height="16.20" fill="rgb(55,55,55)"/>
<rect x="375.20" y="579.80" width="0.65" height="16.20" fill="rgb(42,42,42)"/>
<rect x="375.80" y="579.80" width="0.65" height="16.20" fill="rgb(67,67,67)"/>
<rect x="376.40" y="579.80" width="0.65" height="16.20" fill="rgb(24,24,24)"/>
<rect x="377.00" y="579.80" width="0.65" height="16.20" fill="rgb(255,255,255)"/>
<rect x="377.60" y="579.80" width="0.65" height="16.20" fill="rgb(0,0,0)"/>
<rect x="378.20" y="579.80" width="0.65" height="16.20" fill="rgb(12,12,12)"/>
<rect x="378.80" y="579.80" width="0.65" height="16.20" fill="rgb(20,20,20)"/>
<rect x="379.40" y="579.80" width="0.65" height="16.20" fill="rgb(0,0,0)"/>
<rect x="380.00" y="579.80" width="0.65" height="16.20" fill="rgb(61,61,61)"/>
<rect x="380.60" y="579.80" width="0.65" height="16.20" fill="rgb(29,29,29)"/>
<rect x="381.20" y="579.80" width="0.65" height="16.20" fill="rgb(0,0,0)"/>
<rect x="381.80" y="579.80" width="0.65" height="16.20" fill="rgb(29,29,29)"/>
<rect x="382.40" y="579.80" width="0.65" height="16.20" fill="rgb(85,85,85)"/>
<rect x="383.00" y="579.80" width="0.65" height="16.20" fill="rgb(84,84,84)"/>
<rect x="383.60" y="579.80" width="0.65" height="16.20" fill="rgb(61,61,61)"/>
<rect x="384.20" y="579.80" width="0.65" height="16.20" fill="rgb(240,240,240)"/>
<rect x="384.80" y="579.80" width="0.65" height="16.20" fill="rgb(82,82,82)"/>
<rect x="385.40" y="579.80" width="0.65" height="16.20" fill="rgb(8,8,8)"/>
<rect x="386.00" y="579.80" width="0.65" height="16.20" fill="rgb(18,18,18)"/>
<rect x="386.60" y="579.80" width="0.65" height="16.20" fill="rgb(57,57,57)"/>
<rect x="387.20" y="579.80" width="0.65" height="16.20" fill="rgb(64,64,64)"/>
<rect x="387.80" y="579.80" width="0.65" height="16.20" fill="rgb(43,43,43)"/>
<rect x="388.40" y="579.80" width="0.65" height="16.20" fill="rgb(85,85,85)"/>
<rect x="389.00" y="579.80" width="0.65" height="16.20" fill="rgb(4,4,4)"/>
<rect x="389.60" y="579.80" width="0.65" height="16.20" fill="rgb(38,38,38)"/>
<rect x="390.20" y="579.80" width="0.65" height="16.20" fill="rgb(200,200,200)"/>
<rect x="390.80" y="579.80" width="0.65" height="16.20" fill="rgb(60,60,60)"/>
<rect x="391.40" y="579.80" width="0.65" height="16.20" fill="rgb(240,240,240)"/>
<rect x="392.00" y="579.80" width="0.65" height="16.20" fill="rgb(200,200,200)"/>
<rect x="392.60" y="579.80" width="0.65" height="16.20" fill="rgb(13,13,13)"/>
<rect x="393.20" y="579.80" width="0.65" height="16.20" fill="rgb(22,22,22)"/>
<rect x="393.80" y="579.80" width="0.65" height="16.20" fill="rgb(46,46,46)"/>
<rect x="394.40" y="579.80" width="0.65" height="16.20" fill="rgb(86,86,86)"/>
<rect x="395.00" y="579.80" width="0.65" height="16.20" fill="rgb(92,92,92)"/>
<rect x="395.60" y="579.80" width="0.65" height="16.20" fill="rgb(240,240,240)"/>
<rect x="396.20" y="579.80" width="0.65" height="16.20" fill="rgb(200,200,200)"/>
<rect x="396.80" y="579.80" width="0.65" height="16.20" fill="rgb(39,39,39)"/>
<rect x="397.40" y="579.80" width="0.65" height="16.20" fill="rgb(37,37,37)"/>
<rect x="398.00" y="579.80" width="0.65" height="16.20" fill="rgb(91,91,91)"/>
<rect x="398.60" y="579.80" width="0.65" height="16.20" fill="rgb(25,25,25)"/>
<rect x="399.20" y="579.80" width="0.65" height="16.20" fill="rgb(47,47,47)"/>
<rect x="399.80" y="579.80" width="0.65" height="16.20" fill="rgb(75,75,75)"/>
<rect x="400.40" y="579.80" width="0.65" height="16.20" fill="rgb(255,255,255)"/>
<rect x="401.00" y="579.80" width="0.65" height="16.20" fill="rgb(90,90,90)"/>
<rect x="401.60" y="579.80" width="0.65" height="16.20" fill="rgb(17,17,17)"/>
<rect x="402.20" y="579.80" width="0.65" height="16.20" fill="rgb(91,91,91)"/>
<rect x="402.80" y="579.80" width="0.65" height="16.20" fill="rgb(11,11,11)"/>
<rect x="403.40" y="579.80" width="0.65" height="16.20" fill="rgb(32,32,32)"/>
<rect x="404.00" y="579.80" width="0.65" height="16.20" fill="rgb(14,14,14)"/>
<rect x="404.60" y="579.80" width="0.65" height="16.20" fill="rgb(29,29,29)"/>
<rect x="405.20" y="579.80" width="0.65" height="16.20" fill="rgb(240,240,240)"/>
<rect x="405.80" y="579.80" width="0.65" height="16.20" fill="rgb(25,25,25)"/>
<rect x="406.40" y="579.80" width="0.65" height="16.20" fill="rgb(70,70,70)"/>
<rect x="407.00" y="579.80" width="0.65" height="16.20" fill="rgb(45,45,45)"/>
<rect x="407.60" y="579.80" width="0.65" height="16.20" fill="rgb(57,57,57)"/>
<rect x="408.20" y="579.80" width="0.65" height="16.20" fill="rgb(65,65,65)"/>
<rect x="408.80" y="579.80" width="0.65" height="16.20" fill="rgb(54,54,54)"/>
<rect x="409.40" y="579.80" width="0.65" height="16.20" fill="rgb(85,85,85)"/>
<rect x="410.00" y="579.80" width="0.65" height="16.20" fill="rgb(255,255,255)"/>
<rect x="410.60" y="579.80" width="0.65" height="16.20" fill="rgb(42,42,42)"/>
<rect x="411.20" y="579.80" width="0.65" height="16.20" fill="rgb(55,55,55)"/>
<rect x="411.80" y="579.80" width="0.65" height="16.20" fill="rgb(84,84,84)"/>
<rect x="412.40" y="579.80" width="0.65" height="16.20" fill="rgb(41,41,41)"/>
<rect x="413.00" y="579.80" width="0.65" height="16.20" fill="rgb(22,22,22)"/>
<rect x="413.60" y="579.80" width="0.65" height="16.20" fill="rgb(52,52,52)"/>
<rect x="414.20" y="579.80" width="0.65" height="16.20" fill="rgb(73,73,73)"/>
<rect x="414.80" y="579.80" width="0.65" height="16.20" fill="rgb(31,31,31)"/>
<rect x="415.40" y="579.80" width="0.65" height="16.20" fill="rgb(240,240,240)"/>
<rect x="416.00" y="579.80" width="0.65" height="16.20" fill="rgb(81,81,81)"/>
<rect x="416.60" y="579.80" width="0.65" height="16.20" fill="rgb(105,105,105)"/>
<rect x="417.20" y="579.80" width="0.65" height="16.20" fill="rgb(255,255,255)"/>
<rect x="417.80" y="579.80" width="0.65" height="16.20" fill="rgb(30,30,30)"/>
<rect x="418.40" y="579.80" width="0.65" height="16.20" fill="rgb(200,200,200)"/>
<rect x="419.00" y="579.80" width="0.65" height="16.20" fill="rgb(102,102,102)"/>
<rect x="419.60" y="579.80" width="0.65" height="16.20" fill="rgb(17,17,17)"/>
<rect x="420.20" y="579.80" width="0.65" height="16.20" fill="rgb(255,255,255)"/>
<rect x="420.80" y="579.80" width="0.65" height="16.20" fill="rgb(34,34,34)"/>
<rect x="421.40" y="579.80" width="0.65" height="16.20" fill="rgb(68,68,68)"/>
<rect x="422.00" y="579.80" width="0.65" height="16.20" fill="rgb(58,58,58)"/>
<rect x="422.60" y="579.80" width="0.65" height="16.20" fill="rgb(103,103,103)"/>
<rect x="423.20" y="579.80" width="0.65" height="16.20" fill="rgb(76,76,76)"/>
<rect x="423.80" y="579.80" width="0.65" height="16.20" fill="rgb(62,62,62)"/>
<rect x="424.40" y="579.80" width="0.65" height="16.20" fill="rgb(98,98,98)"/>
<rect x="425.00" y="579.80" width="0.65" height="16.20" fill="rgb(28,28,28)"/>
<rect x="425.60" y="579.80" width="0.65" height="16.20" fill="rgb(255,255,255)"/>
<rect x="426.20" y="579.80" width="0.65" height="16.20" fill="rgb(34,34,34)"/>
<rect x="426.80" y="579.80" width="0.65" height="16.20" fill="rgb(39,39,39)"/>
<rect x="427.40" y="579.80" width="0.65" height="16.20" fill="rgb(101,101,101)"/>
<rect x="428.00" y="579.80" width="0.65" height="16.20" fill="rgb(33,33,33)"/>
<rect x="428.60" y="579.80" width="0.65" height="16.20" fill="rgb(57,57,57)"/>
<rect x="429.20" y="579.80" width="0.65" height="16.20" fill="rgb(101,101,101)"/>
<rect x="429.80" y="579.80" width="0.65" height="16.20" fill="rgb(61,61,61)"/>
<rect x="430.40" y="579.80" width="0.65" height="16.20" fill="rgb(200,200,200)"/>
<rect x="431.00" y="579.80" width="0.65" height="16.20" fill="rgb(46,46,46)"/>
<rect x="431.60" y="579.80" width="0.65" height="16.20" fill="rgb(68,68,68)"/>
<rect x="432.20" y="579.80" width="0.65" height="16.20" fill="rgb(105,105,105)"/>
<rect x="432.80" y="579.80" width="0.65" height="16.20" fill="rgb(200,200,200)"/>
<rect x="433.40" y="579.80" width="0.65" height="16.20" fill="rgb(102,102,102)"/>
<rect x="434.00" y="579.80" width="0.65" height="16.20" fill="rgb(65,65,65)"/>
<rect x="434.60" y="579.80" width="0.65" height="16.20" fill="rgb(70,70,70)"/>
<rect x="435.20" y="579.80" width="0.65" height="16.20" fill="rgb(52,52,52)"/>
<rect x="435.80" y="579.80" width="0.65" height="16.20" fill="rgb(225,225,225)"/>
<rect x="436.40" y="579.80" width="0.65" height="16.20" fill="rgb(74,74,74)"/>
<rect x="437.00" y="579.80" width="0.65" height="16.20" fill="rgb(30,30,30)"/>
<rect x="437.60" y="579.80" width="0.65" height="16.20" fill="rgb(225,225,225)"/>
<rect x="438.20" y="579.80" width="0.65" height="16.20" fill="rgb(200,200,200)"/>
<rect x="438.80" y="579.80" width="0.65" height="16.20" fill="rgb(102,102,102)"/>
<rect x="439.40" y="579.80" width="0.65" height="16.20" fill="rgb(80,80,80)"/>
<rect x="440.00" y="579.80" width="0.65" height="16.20" fill="rgb(44,44,44)"/>
<rect x="440.60" y="579.80" width="0.65" height="16.20" fill="rgb(240,240,240)"/>
<rect x="441.20" y="579.80" width="0.65" height="16.20" fill="rgb(89,89,89)"/>
<rect x="441.80" y="579.80" width="0.65" height="16.20" fill="rgb(119,119,119)"/>
<rect x="442.40" y="579.80" width="0.65" height="16.20" fill="rgb(240,240,240)"/>
<rect x="443.00" y="579.80" width="0.65" height="16.20" fill="rgb(40,40,40)"/>
<rect x="443.60" y="579.80" width="0.65" height="16.20" fill="rgb(52,52,52)"/>
<rect x="444.20" y="579.80" width="0.65" height="16.20" fill="rgb(95,95,95)"/>
<rect x="444.80" y="579.80" width="0.65" height="16.20" fill="rgb(240,240,240)"/>
<rect x="445.40" y="579.80" width="0.65" height="16.20" fill="rgb(240,240,240)"/>
<rect x="446.00" y="579.80" width="0.65" height="16.20" fill="rgb(82,82,82)"/>
<rect x="446.60" y="579.80" width="0.65" height="16.20" fill="rgb(108,108,108)"/>
<rect x="447.20" y="579.80" width="0.65" height="16.20" fill="rgb(107,107,107)"/>
<rect x="447.80" y="579.80" width="0.65" height="16.20" fill="rgb(54,54,54)"/>
<rect x="448.40" y="579.80" width="0.65" height="16.20" fill="rgb(90,90,90)"/>
<rect x="449.00" y="579.80" width="0.65" height="16.20" fill="rgb(240,240,240)"/>
<rect x="449.60" y="579.80" width="0.65" height="16.20" fill="rgb(73,73,73)"/>
<rect x="450.20" y="579.80" width="0.65" height="16.20" fill="rgb(255,255,255)"/>
<rect x="450.80" y="579.80" width="0.65" height="16.20" fill="rgb(66,66,66)"/>
<rect x="451.40" y="579.80" width="0.65" height="16.20" fill="rgb(53,53,53)"/>
<rect x="452.00" y="579.80" width="0.65" height="16.20" fill="rgb(40,40,40)"/>
<rect x="452.60" y="579.80" width="0.65" height="16.20" fill="rgb(34,34,34)"/>
<rect x="453.20" y="579.80" width="0.65" height="16.20" fill="rgb(200,200,200)"/>
<rect x="453.80" y="579.80" width="0.65" height="16.20" fill="rgb(77,77,77)"/>
<rect x="454.40" y="579.80" width="0.65" height="16.20" fill="rgb(37,37,37)"/>
<rect x="455.00" y="579.80" width="0.65" height="16.20" fill="rgb(255,255,255)"/>
<rect x="455.60" y="579.80" width="0.65" height="16.20" fill="rgb(255,255,255)"/>
<rect x="456.20" y="579.80" width="0.65" height="16.20" fill="rgb(200,200,200)"/>
<rect x="456.80" y="579.80" width="0.65" height="16.20" fill="rgb(46,46,46)"/>
<rect x="457.40" y="579.80" width="0.65" height="16.20" fill="rgb(63,63,63)"/>
<rect x="458.00" y="579.80" width="0.65" height="16.20" fill="rgb(94,94,94)"/>
<rect x="458.60" y="579.80" width="0.65" height="16.20" fill="rgb(60,60,60)"/>
<rect x="459.20" y="579.80" width="0.65" height="16.20" fill="rgb(109,109,109)"/>
<rect x="459.80" y="579.80" width="0.65" height="16.20" fill="rgb(64,64,64)"/>
<rect x="460.40" y="579.80" width="0.65" height="16.20" fill="rgb(80,80,80)"/>
<rect x="461.00" y="579.80" width="0.65" height="16.20" fill="rgb(84,84,84)"/>
<rect x="461.60" y="579.80" width="0.65" height="16.20" fill="rgb(119,119,119)"/>
<rect x="462.20" y="579.80" width="0.65" height="16.20" fill="rgb(125,125,125)"/>
<rect x="462.80" y="579.80" width="0.65" height="16.20" fill="rgb(68,68,68)"/>
<rect x="463.40" y="579.80" width="0.65" height="16.20" fill="rgb(84,84,84)"/>
<rect x="464.00" y="579.80" width="0.65" height="16.20" fill="rgb(255,255,255)"/>
<rect x="464.60" y="579.80" width="0.65" height="16.20" fill="rgb(200,200,200)"/>
<rect x="465.20" y="579.80" width="0.65" height="16.20" fill="rgb(125,125,125)"/>
<rect x="465.80" y="579.80" width="0.65" height="16.20" fill="rgb(48,48,48)"/>
<rect x="466.40" y="579.80" width="0.65" height="16.20" fill="rgb(89,89,89)"/>
<rect x="467.00" y="579.80" width="0.65" height="16.20" fill="rgb(78,78,78)"/>
<rect x="467.60" y="579.80" width="0.65" height="16.20" fill="rgb(42,42,42)"/>
<rect x="468.20" y="579.80" width="0.65" height="16.20" fill="rgb(42,42,42)"/>
<rect x="468.80" y="579.80" width="0.65" height="16.20" fill="rgb(132,132,132)"/>
<rect x="469.40" y="579.80" width="0.65" height="16.20" fill="rgb(53,53,53)"/>
<rect x="470.00" y="579.80" width="0.65" height="16.20" fill="rgb(131,131,131)"/>
<rect x="470.60" y="579.80" width="0.65" height="16.20" fill="rgb(225,225,225)"/>
<rect x="471.20" y="579.80" width="0.65" height="16.20" fill="rgb(131,131,131)"/>
<rect x="471.80" y="579.80" width="0.65" height="16.20" fill="rgb(124,124,124)"/>
<rect x="357.70" y="596.00" width="114.60" height="4.10" fill="url(#rk1)" />
<polyline points="357.60,573.70 358.20,558.58 359.40,546.82 362.30,540.94 366.20,536.32 371.90,531.70 379.60,529.18 385.40,530.02 393.10,532.54 402.70,537.58 412.30,544.30 420.00,550.18 429.60,556.06 439.20,561.52 448.80,566.31 458.50,571.18 466.20,574.54 470.00,575.97 472.90,573.70" fill="none" stroke="#80bb3c" stroke-width="1.35" stroke-linejoin="round"/>
<line x1="355.10" y1="573.70" x2="357.70" y2="573.70" stroke="#231f20" stroke-width="0.9" />
<text transform="translate(351.80,576.11) rotate(0.04)" x="0" y="0" font-size="6.8" text-anchor="end" fill="#231f20" stroke="#231f20" stroke-width="0.2" textLength="8.80" lengthAdjust="spacingAndGlyphs" >0.0</text>
<line x1="355.10" y1="565.30" x2="357.70" y2="565.30" stroke="#231f20" stroke-width="0.9" />
<text transform="translate(351.80,567.71) rotate(0.04)" x="0" y="0" font-size="6.8" text-anchor="end" fill="#231f20" stroke="#231f20" stroke-width="0.2" textLength="8.80" lengthAdjust="spacingAndGlyphs" >0.1</text>
<line x1="355.10" y1="556.90" x2="357.70" y2="556.90" stroke="#231f20" stroke-width="0.9" />
<text transform="translate(351.80,559.31) rotate(0.04)" x="0" y="0" font-size="6.8" text-anchor="end" fill="#231f20" stroke="#231f20" stroke-width="0.2" textLength="8.80" lengthAdjust="spacingAndGlyphs" >0.2</text>
<line x1="355.10" y1="548.50" x2="357.70" y2="548.50" stroke="#231f20" stroke-width="0.9" />
<text transform="translate(351.80,550.91) rotate(0.04)" x="0" y="0" font-size="6.8" text-anchor="end" fill="#231f20" stroke="#231f20" stroke-width="0.2" textLength="8.80" lengthAdjust="spacingAndGlyphs" >0.3</text>
<line x1="355.10" y1="540.10" x2="357.70" y2="540.10" stroke="#231f20" stroke-width="0.9" />
<text transform="translate(351.80,542.51) rotate(0.04)" x="0" y="0" font-size="6.8" text-anchor="end" fill="#231f20" stroke="#231f20" stroke-width="0.2" textLength="8.80" lengthAdjust="spacingAndGlyphs" >0.4</text>
<line x1="355.10" y1="531.70" x2="357.70" y2="531.70" stroke="#231f20" stroke-width="0.9" />
<text transform="translate(351.80,534.11) rotate(0.04)" x="0" y="0" font-size="6.8" text-anchor="end" fill="#231f20" stroke="#231f20" stroke-width="0.2" textLength="8.80" lengthAdjust="spacingAndGlyphs" >0.5</text>
<rect x="357.7" y="526.8" width="120.0" height="73.30000000000007" fill="none" stroke="#231f20" stroke-width="1.1"/>
<text transform="translate(432.50,536.54) rotate(0.04)" x="0" y="0" font-size="6.6" text-anchor="start" fill="#231f20" stroke="#231f20" stroke-width="0.2" textLength="32.10" lengthAdjust="spacingAndGlyphs" >NES = 2.21</text>
<text transform="translate(432.50,543.64) rotate(0.04)" x="0" y="0" font-size="6.6" text-anchor="start" fill="#231f20" stroke="#231f20" stroke-width="0.2" textLength="42.30" lengthAdjust="spacingAndGlyphs" >FDRq-value = 0</text>
<text transform="translate(351.00,608.31) rotate(0.04)" x="0" y="0" font-size="6.8" text-anchor="start" fill="#333" stroke="#333" stroke-width="0.2" textLength="12.80" lengthAdjust="spacingAndGlyphs" >High</text>
<text transform="translate(460.40,608.31) rotate(0.04)" x="0" y="0" font-size="6.8" text-anchor="start" fill="#333" stroke="#333" stroke-width="0.2" textLength="11.10" lengthAdjust="spacingAndGlyphs" >Low</text>
<text transform="translate(334.40,561.00) rotate(-90)" x="0" y="2.63" font-size="7.4" text-anchor="middle" fill="#231f20" stroke="#231f20" stroke-width="0.2" textLength="28.60" lengthAdjust="spacingAndGlyphs" >circAFF1_A</text>
</svg><div id="brd"></div></div></body></html>
